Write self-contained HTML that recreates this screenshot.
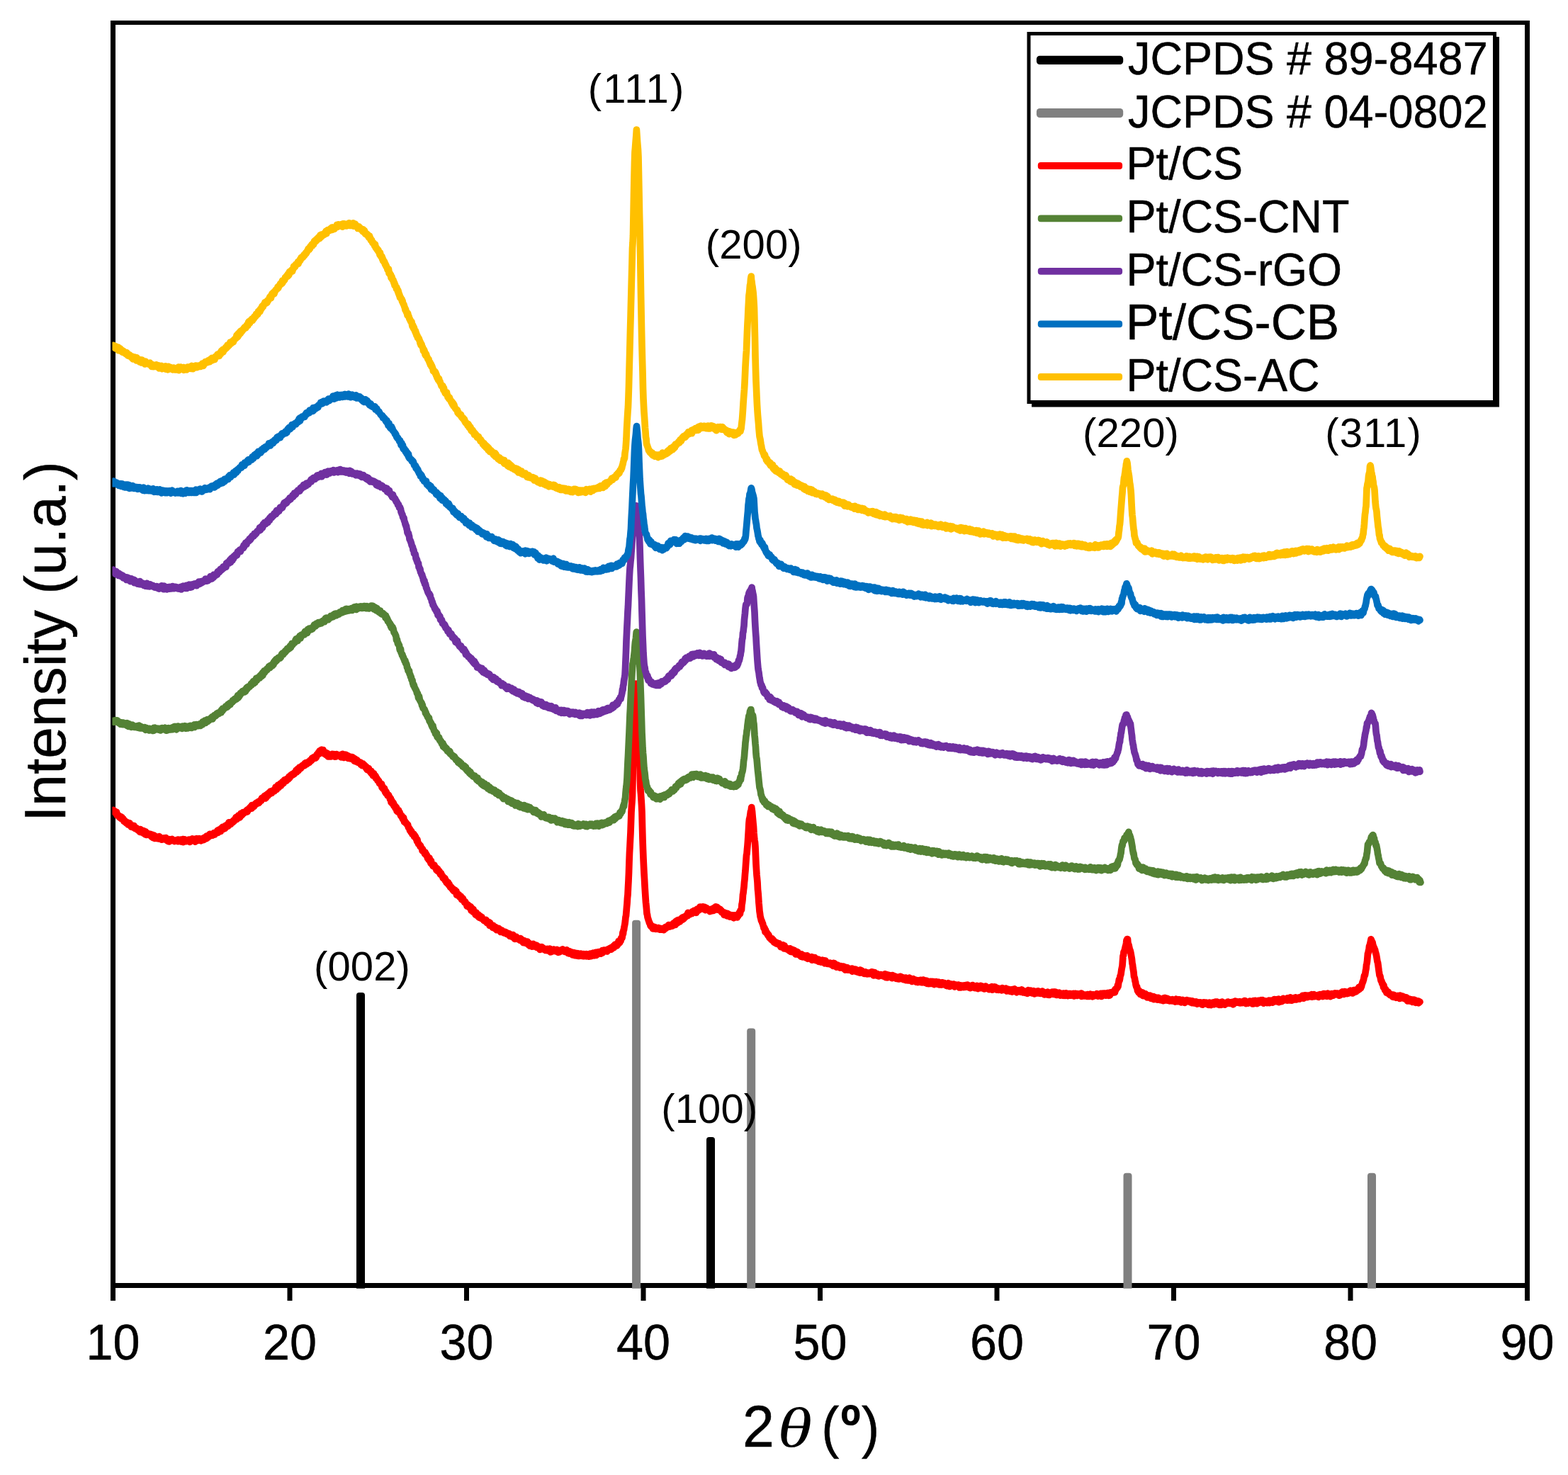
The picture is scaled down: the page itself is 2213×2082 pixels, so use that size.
<!DOCTYPE html>
<html lang="en">
<head>
<meta charset="utf-8">
<title>XRD patterns</title>
<style>
html,body{margin:0;padding:0;background:#fff;}
body{width:2213px;height:2082px;overflow:hidden;}
svg{display:block;font-family:"Liberation Sans",Arial,Helvetica,sans-serif;}
.t{stroke:#000;stroke-width:0.5px;}
.tick{font-size:68.3px;text-anchor:middle;}
.ann{font-size:58px;text-anchor:middle;}
.leg{font-size:63px;}
</style>
</head>
<body>
<svg width="2213" height="2082" viewBox="0 0 2213 2082">
<rect x="0" y="0" width="2213" height="2082" fill="#fff"/>
<!-- plot frame -->
<g fill="#000">
<rect x="156" y="29" width="2003" height="6"/>
<rect x="156" y="29" width="7" height="1789"/>
<rect x="2152" y="29" width="7" height="1789"/>
<rect x="156" y="1811" width="2003" height="7"/>
</g>
<!-- ticks -->
<g fill="#000">
<rect x="156.0" y="1814" width="7" height="22"/>
<rect x="405.5" y="1814" width="7" height="22"/>
<rect x="655.0" y="1814" width="7" height="22"/>
<rect x="904.5" y="1814" width="7" height="22"/>
<rect x="1154.0" y="1814" width="7" height="22"/>
<rect x="1403.5" y="1814" width="7" height="22"/>
<rect x="1653.0" y="1814" width="7" height="22"/>
<rect x="1902.5" y="1814" width="7" height="22"/>
<rect x="2152.0" y="1814" width="7" height="22"/>
</g>
<!-- reference sticks -->
<g>
<path d="M503.0,1818.8 L503.0,1405.0 Q503.0,1401.0 507.0,1401.0 L511.0,1401.0 Q515.0,1401.0 515.0,1405.0 L515.0,1818.8 Z" fill="#000"/>
<path d="M997.0,1818.8 L997.0,1609.0 Q997.0,1605.0 1001.0,1605.0 L1005.0,1605.0 Q1009.0,1605.0 1009.0,1609.0 L1009.0,1818.8 Z" fill="#000"/>
<path d="M892.1,1818.8 L892.1,1302.8 Q892.1,1298.8 896.1,1298.8 L900.1,1298.8 Q904.1,1298.8 904.1,1302.8 L904.1,1818.8 Z" fill="#808080"/>
<path d="M1054.2,1818.8 L1054.2,1455.6 Q1054.2,1451.6 1058.2,1451.6 L1062.2,1451.6 Q1066.2,1451.6 1066.2,1455.6 L1066.2,1818.8 Z" fill="#808080"/>
<path d="M1585.5,1818.8 L1585.5,1659.8 Q1585.5,1655.8 1589.5,1655.8 L1593.5,1655.8 Q1597.5,1655.8 1597.5,1659.8 L1597.5,1818.8 Z" fill="#808080"/>
<path d="M1930.0,1818.8 L1930.0,1659.8 Q1930.0,1655.8 1934.0,1655.8 L1938.0,1655.8 Q1942.0,1655.8 1942.0,1659.8 L1942.0,1818.8 Z" fill="#808080"/>
</g>
<!-- curves -->
<defs><clipPath id="cl"><rect x="158.5" y="0" width="2000" height="2082"/></clipPath></defs>
<path d="M160.0,1143.4l.5,2.2 .5,.4 .5-1.5 .5,.8 .5,.3 .5,1.9 .5-.2 .5,1.5 .5-2.6 .5,4.6 .5-1.4 .5,1.4 .5-.4 .5,.2 .5,1.5 .5,1 .5-.8 .5,.6 .5,1.5 .5-1.4 .5-.3 .5,2.7 .5-.8 .5-1 .5,1.7 .5,.9 .5-.5 .5,.1 .5,2.2 .5,1.4 .5-1 .5-.2 .5,1.7 .5,.8 .5-.8 .5,1.3 .5,1 .5-1.2 .5-.3 .5,1.7 .5,.2 .5,1.4 .5-2.5 .5,1 .5,.2 .5-.8 .5,2.6 .5,.8 .5-1.2 .5,2.8 .5-.3 .5,0 .5,.1 .5,.9 .5-2.4 .5,2.6 .5,.3 .5-2.6 .5,2.9 .5-.5 .5,1.5 .5-1.1 .5,.7 .5,.7 .5-1.1 .5,2 .5-.6 .5,1 .5-1 .5,2.2 .5-.3 .5-.7 .5,1.2 .5,1 .5,.9 .5-3.8 .5,3.2 .5-.3 .5-.4 .5-.8 .5,2.9 .5-2.8 .5,2.4 .5,1.2 .5-3.3 .5,1.8 .5-1 .5,2.1 .5,1.8 .5,.7 .5-4.2 .5,1.6 .5,1.8 .5,1.3 .5-1.2 .5-1.2 .5,1.5 .5-.1 .5,0 .5-.5 .5,1.6 .5,.1 .5-.3 .5,.1 .5-1.1 .5,1.2 .5,2.2 .5-1.5 .5-1.3 .5,3.5 .5-.7 .5,1.8 .5-2 .5-.5 .5-1 .5,3.5 .5,.9 .5-3.1 .5,.3 .5,1.7 .5-1.6 .5,.9 .5,0 .5,.8 .5,1.2 .5-1.1 .5,1.2 .5-1.5 .5,1 .5-2.6 .5,.7 .5,2.8 .5-1.6 .5,1.5 .5,.1 .5,1 .5-.5 .5,.3 .5-1.2 .5-.6 .5,0 .5,.4 .5-.6 .5,.8 .5,.6 .5,.5 .5-.6 .5-1.8 .5,2.3 .5,.4 .5,1.2 .5-.6 .5-1.3 .5,0 .5,3.2 .5-1.3 .5,1.4 .5,.1 .5-3.2 .5,1.5 .5,.2 .5,.2 .5,0 .5-.3 .5,0 .5-1.9 .5,1.6 .5-.6 .5,1.1 .5-.7 .5,1.3 .5,.3 .5-.6 .5,.1 .5-.3 .5-.6 .5,.4 .5-.4 .5,1.1 .5-.5 .5,.7 .5-2.3 .5,2.7 .5-2 .5,0 .5,.7 .5-.5 .5,1 .5-1 .5-.6 .5,.3 .5,2.5 .5-1.5 .5-1.4 .5,1.4 .5-1.9 .5,4 .5-4 .5,2.4 .5,.1 .5-2.4 .5,2.1 .5,.8 .5-.6 .5-.3 .5,.8 .5-.9 .5,.2 .5-.6 .5,.9 .5-1.9 .5,2.1 .5-1.6 .5-.7 .5,1.7 .5,1.6 .5-.9 .5-1.8 .5,1.4 .5-1.3 .5,.3 .5,.3 .5-2.5 .5,2.6 .5-1.5 .5,.4 .5-1 .5-.1 .5,.7 .5,2.1 .5,1 .5-2 .5,1.3 .5-1.7 .5-2 .5,2.4 .5,.3 .5-1.1 .5,.8 .5,.2 .5-1.8 .5-.9 .5,1.4 .5-.1 .5-.3 .5,1.5 .5,.7 .5-2.7 .5,1.2 .5,.1 .5-.5 .5,.3 .5-1.9 .5,1.1 .5,1.2 .5-1.5 .5-1.9 .5,1.3 .5,.6 .5-1.3 .5-1.4 .5,2.3 .5-3.5 .5,1.9 .5-.9 .5-1.6 .5,2.6 .5-1.3 .5-2 .5,1.9 .5-1.5 .5-2 .5,1.2 .5,.9 .5,.2 .5-.8 .5-.3 .5,.2 .5-1 .5,1.4 .5-1.4 .5-.1 .5,.1 .5-2.2 .5,.2 .5,2.4 .5-1.7 .5-1 .5,.5 .5-1.3 .5,.7 .5-1.4 .5,.8 .5-2.5 .5,3.2 .5-2.6 .5-1.5 .5,1.3 .5-.5 .5,.3 .5-1.9 .5,1.5 .5,1.5 .5-4.1 .5,1.6 .5-1.2 .5,.3 .5-2.7 .5,.4 .5,1.6 .5-1 .5,1.7 .5-3.2 .5,.7 .5,1.8 .5-3.6 .5-.5 .5,.6 .5-.3 .5,.7 .5-1.2 .5-1.5 .5,.8 .5,1.7 .5-1.1 .5-4.2 .5,1.8 .5-1.2 .5,1.4 .5-1.3 .5,2.1 .5-1.5 .5-.4 .5-1.2 .5-.6 .5,.1 .5,.8 .5-1.3 .5-1.4 .5,1.6 .5-1.7 .5-.7 .5-1.2 .5-.1 .5-.4 .5-2 .5,3.2 .5-.9 .5-1.3 .5,1.1 .5-1.1 .5-.5 .5-3.1 .5,1.7 .5,.5 .5,.9 .5-.1 .5-.9 .5-3.5 .5-1.3 .5,2.7 .5-1.1 .5,.8 .5-1.7 .5,0 .5-2.5 .5,2 .5-1.5 .5,.6 .5-.2 .5-1.1 .5,.1 .5-.8 .5,.6 .5-.7 .5-1.6 .5-.5 .5,2.5 .5-2.6 .5,.9 .5-1.1 .5-1.5 .5-.6 .5,.6 .5-.2 .5,.1 .5-2.6 .5,.4 .5,.2 .5,1.7 .5-4.6 .5,2.4 .5-1.5 .5,.8 .5-1.5 .5,.7 .5,1 .5-1.8 .5-.3 .5-.4 .5-1.7 .5,1.2 .5-1.3 .5-1.1 .5,.5 .5-.6 .5,.9 .5-1.4 .5-.9 .5,2 .5-1 .5,0 .5-1.2 .5-1.2 .5-.7 .5-.2 .5,1.1 .5-1.4 .5-2.3 .5,1.3 .5-2 .5,1.5 .5-2 .5-.4 .5,1.2 .5-.6 .5-2.3 .5,2.5 .5,1.1 .5-4.5 .5,3.6 .5-3.4 .5-.2 .5,0 .5-1.9 .5,2.9 .5-1.3 .5-1.9 .5,.2 .5-1.9 .5,1 .5,1.1 .5-3.5 .5,1.1 .5,.3 .5,.7 .5,0 .5-2.6 .5-.7 .5,1 .5-1.4 .5-.3 .5,1.3 .5,.3 .5-2.1 .5-1 .5,.6 .5-3.4 .5,1.8 .5-1.6 .5,3.2 .5-1.9 .5-1.1 .5-.8 .5-2.5 .5,2.8 .5,.7 .5-3.2 .5,1.2 .5-.3 .5-3.1 .5,2.5 .5,.1 .5-1.7 .5-.8 .5,.6 .5-3.2 .5,1.6 .5,.7 .5-3.2 .5,2.3 .5-2.1 .5-2.2 .5,1.8 .5-1.5 .5,1.1 .5-2.2 .5,2.3 .5-2.6 .5,.9 .5-1.6 .5-.1 .5,1.4 .5-1.6 .5-1.2 .5-1.4 .5,2.4 .5-.9 .5-1.7 .5,.2 .5-2 .5-.4 .5-.2 .5,1 .5-.5 .5-1.7 .5,1.3 .5-.3 .5-1.2 .5,.6 .5-2 .5-.3 .5,.3 .5-1 .5,.5 .5-2.9 .5,2.8 .5-3.1 .5,.4 .5-1.9 .5,1.9 .5,.4 .5-.6 .5-.7 .5-3.3 .5,.5 .5,0 .5-1 .5,2.1 .5-1.6 .5-.6 .5,.2 .5-2.1 .5-.3 .5-.4 .5,1.3 .5-.5 .5-.1 .5,.2 .5-3.3 .5,.6 .5,.5 .5-2.1 .5,.6 .5,1.6 .5-.3 .5-.4 .5-1.5 .5-.7 .5,1.2 .5-2 .5,.5 .5,.8 .5-2.4 .5-.6 .5,.4 .5,.4 .5-.5 .5-.7 .5,.1 .5-3 .5,.6 .5,.8 .5-1.7 .5-.8 .5-.2 .5-.1 .5,.5 .5-1.4 .5,1.1 .5,1.2 .5-2.7 .5,1.2 .5-1.8 .5-2.2 .5,.4 .5-1.5 .5,1.6 .5-2.9 .5,2.4 .5-1.4 .5-3.4 .5,2.8 .5,.5 .5-3.1 .5,1.9 .5-3.5 .5,2.3 .5-2.3 .5,2.7 .5-2.6 .5,0 .5,3 .5,2.1 .5-2.7 .5,2.1 .5-.5 .5-.1 .5,1.5 .5,1.6 .5-3 .5,2.5 .5,.1 .5-1.8 .5,3.9 .5,.6 .5-3.2 .5,3.3 .5-1.9 .5-.2 .5,2 .5-1.5 .5,.1 .5,1.5 .5-.3 .5-.4 .5-2.7 .5-.2 .5,3.2 .5-2.4 .5,1.3 .5-1.5 .5,1.1 .5-1.3 .5,3.5 .5-3.2 .5,1.1 .5,0 .5,1.7 .5-3.2 .5,1.7 .5-.2 .5,.9 .5-.1 .5-1.1 .5,.9 .5-.7 .5,1 .5-.7 .5-.6 .5,.8 .5,.5 .5,1.9 .5-2.9 .5,1 .5,1.4 .5-4 .5,.3 .5,.8 .5,1.3 .5,2.6 .5-1.8 .5,1.1 .5-1.6 .5-1.9 .5,.1 .5,3.7 .5-.9 .5-1.6 .5,3 .5-3 .5,3.3 .5,.6 .5-2.5 .5-.2 .5,2.5 .5-2.2 .5,2.6 .5-2.3 .5,2.6 .5-.7 .5-.4 .5-.3 .5,1.5 .5-2.3 .5,2.1 .5,.1 .5,1.5 .5-2.1 .5,3.8 .5-2.2 .5-.8 .5,3.2 .5,.6 .5-2 .5-.6 .5,1.3 .5-.6 .5,.8 .5,2.5 .5-1.1 .5,0 .5,.5 .5-.2 .5,1.4 .5,.4 .5-1.2 .5,.9 .5,2.5 .5-1.4 .5-.4 .5,2.9 .5-1.9 .5-.9 .5,2.5 .5-1.5 .5,.9 .5,1.4 .5-.2 .5-.3 .5,.7 .5,.3 .5,2.6 .5-1.8 .5,.6 .5,3.4 .5-2.5 .5,2.9 .5,.3 .5-1.4 .5-1 .5,2.7 .5,.7 .5,.9 .5-.6 .5,1.8 .5,.8 .5-2.5 .5,3.6 .5-1 .5-.3 .5,.8 .5,3.3 .5-.5 .5-2.7 .5,2.8 .5,.4 .5,.6 .5,.2 .5-.5 .5,3.5 .5-1.5 .5,1.3 .5,.4 .5,.6 .5,2.4 .5,.3 .5-.6 .5,.4 .5,1.3 .5,2.4 .5-.3 .5,.8 .5,.1 .5,.8 .5,1.3 .5-1.8 .5,4.9 .5-2.2 .5,1 .5,3 .5-.6 .5,.6 .5,0 .5-.4 .5,2.9 .5,2 .5-1.7 .5,3.5 .5-2.2 .5,1.3 .5,2.3 .5,.2 .5,1.7 .5-.9 .5,.5 .5-.2 .5,1.6 .5,1 .5,.4 .5,2.9 .5-.4 .5-.7 .5,5.4 .5-2.5 .5,.2 .5,3.8 .5,.7 .5-2.1 .5,.4 .5,1.3 .5,3.4 .5-1 .5,.1 .5,1.7 .5,2.3 .5-2.4 .5,1.9 .5-.4 .5,4.7 .5,.6 .5-.3 .5-.6 .5,1.7 .5-2.3 .5,3.3 .5-1.2 .5,.8 .5,1.5 .5,1.1 .5,1.9 .5,.9 .5,.2 .5-.7 .5,2.6 .5-.2 .5,2.3 .5-1.8 .5-.4 .5,2.5 .5,3.6 .5-1 .5-.1 .5,2.1 .5,.3 .5,.7 .5-.5 .5,1.5 .5,.9 .5-.3 .5,.2 .5,2.3 .5,1.8 .5,.4 .5,.5 .5,.8 .5,2.5 .5-1.2 .5,1.7 .5,1.9 .5-1.5 .5,1.1 .5,1.7 .5,1.6 .5-.8 .5,.9 .5,.4 .5-.7 .5,3.6 .5-.8 .5-.9 .5,2.7 .5-1.1 .5,1.7 .5,2.1 .5-.3 .5,3.2 .5-2.2 .5,2.9 .5,1.2 .5,1.9 .5,.2 .5,0 .5,.6 .5,.7 .5,2.2 .5-1.3 .5,2.2 .5,.1 .5,1.2 .5,.2 .5,3.4 .5-2.3 .5,1.9 .5,.8 .5,1.2 .5,.6 .5,.7 .5,1.5 .5-2.3 .5,2.6 .5-.7 .5,2.5 .5-1 .5,1 .5,1.8 .5,2.4 .5-.2 .5,.3 .5,2.1 .5-2.2 .5-.5 .5,2.5 .5,.9 .5,2.5 .5,1.5 .5-3.2 .5,4.5 .5,.3 .5-.2 .5,.1 .5,2.5 .5-1.5 .5,0 .5,1.4 .5-1.2 .5,2.9 .5-.1 .5,1.2 .5,.7 .5-1.1 .5,3.5 .5-2.2 .5,3 .5-2.4 .5,3 .5-.8 .5,1.7 .5-.2 .5-.9 .5,1.6 .5,2 .5,1.3 .5-1.9 .5,.1 .5,1.9 .5,1.4 .5,.1 .5,.4 .5,2.6 .5,.7 .5,.4 .5-1.4 .5,1.8 .5,.3 .5-.9 .5,3.4 .5-.3 .5-.1 .5,2.9 .5-.2 .5,.7 .5,1 .5,.1 .5-1.8 .5,1.6 .5,2.3 .5-1.5 .5,1.5 .5,1.1 .5,1.8 .5,.4 .5,.1 .5-.7 .5,1.9 .5,.1 .5-.2 .5,2.4 .5-.5 .5-.9 .5,3 .5-1.2 .5,1.6 .5-2 .5,2.4 .5-.6 .5,.6 .5-.6 .5,5.1 .5-1.9 .5,1.1 .5,1.6 .5-1 .5,1.4 .5-1.7 .5,2.4 .5-.2 .5,1.6 .5,.2 .5-1.4 .5,0 .5,1.6 .5,2.6 .5,.2 .5,.5 .5-2.3 .5,.6 .5,2.1 .5,.9 .5,.2 .5,1.7 .5-.1 .5-.7 .5,.9 .5,1.8 .5,.4 .5,.4 .5,2.9 .5-2.1 .5,1 .5-.8 .5,1.3 .5,1.6 .5,.6 .5-.4 .5,1.2 .5,.1 .5-1.8 .5,.4 .5,5.1 .5-.8 .5-.5 .5-1.5 .5,1 .5,3.7 .5-3.5 .5,2.4 .5,1.9 .5-.4 .5,1.2 .5-.6 .5,2.9 .5-3 .5,0 .5,2.4 .5,1.8 .5-1.3 .5,1.8 .5-1.5 .5-.4 .5,3.5 .5,.6 .5,.4 .5-2 .5-.4 .5,.4 .5,1.5 .5,1.4 .5,.3 .5-2 .5,2.4 .5,.1 .5,.5 .5,.3 .5,.1 .5,1.3 .5-.1 .5,.4 .5-.7 .5,1.7 .5-.3 .5-1.8 .5,3.3 .5-.6 .5,1.8 .5-.9 .5,.4 .5,.7 .5,.1 .5-.2 .5-1.3 .5,4.7 .5-3.8 .5,1.8 .5,1.6 .5,0 .5,.5 .5,.6 .5,.9 .5-.9 .5,2.3 .5-3.2 .5,1.8 .5-.4 .5,.1 .5,1.3 .5,1.7 .5-2.3 .5,.3 .5,2 .5,.1 .5,1.9 .5-.8 .5-.7 .5-.3 .5,.9 .5-.2 .5-1.2 .5,2 .5,0 .5,.2 .5,0 .5,2.8 .5-.9 .5,.5 .5-1.6 .5-.2 .5,1.1 .5,.9 .5-.4 .5,.4 .5,1.6 .5-.5 .5-1.3 .5,.9 .5-.1 .5,1.3 .5-1.4 .5,1.4 .5,1.3 .5-.5 .5-.9 .5,.6 .5,1.1 .5,.6 .5,.7 .5-.9 .5-1.2 .5,3.5 .5-1.1 .5,.3 .5,.2 .5-1.4 .5,1.1 .5,.9 .5,1.2 .5-1 .5-2.1 .5,2.2 .5,1 .5,1.4 .5-.5 .5,1.7 .5-.4 .5,.2 .5-.3 .5-2.5 .5,2.9 .5-.1 .5-1.1 .5,1.6 .5,.1 .5-.9 .5,.7 .5,.1 .5,.8 .5-.5 .5,1.4 .5-2.7 .5,2.2 .5-1.5 .5,1.7 .5,1.4 .5-.3 .5,.1 .5,.4 .5,2.1 .5-3 .5,2.6 .5-2.6 .5,1.4 .5,1 .5-1 .5,1.5 .5,.9 .5-2.1 .5,1.6 .5-.2 .5-1.6 .5,2.3 .5-.6 .5,2.8 .5-2.4 .5,3.3 .5-2.5 .5,3.1 .5-1.4 .5,.1 .5,.6 .5,.3 .5,.7 .5,.6 .5-2.3 .5-.9 .5-.6 .5,2 .5,1.6 .5-.3 .5-.1 .5-.4 .5-.2 .5,.7 .5,1 .5-2.4 .5,3.1 .5-2.4 .5,1.7 .5-.3 .5,.5 .5-.7 .5,.1 .5,1.3 .5-.9 .5,3.8 .5-2.6 .5-.2 .5,.3 .5-.4 .5-.9 .5,2.2 .5,.8 .5-2 .5,1.9 .5-1.3 .5,1.6 .5,.6 .5,.3 .5,0 .5-1.2 .5,2 .5-1.5 .5,1.1 .5,.5 .5-1.1 .5-1.1 .5,2.4 .5-2 .5,.3 .5-.2 .5,2.4 .5-1.1 .5-2.1 .5,3.2 .5,1.5 .5-.1 .5-2.8 .5,.8 .5,.5 .5,.5 .5-1 .5-1.3 .5,2.2 .5-.1 .5-2.3 .5,1.2 .5,.8 .5-.4 .5,.7 .5,.3 .5-.2 .5-.8 .5-1.5 .5,2.4 .5,.9 .5,.7 .5-2.3 .5,0 .5,1.8 .5,0 .5-1.3 .5,.4 .5-1.7 .5,1.6 .5-1.7 .5,.9 .5,0 .5-.4 .5-1.7 .5,1.4 .5,1.4 .5-.5 .5-.3 .5,1 .5,.3 .5,.3 .5-2 .5,1.1 .5-.4 .5-.6 .5-.7 .5,1.7 .5-.8 .5,3.5 .5-2.3 .5,.1 .5,0 .5,2.9 .5-3.1 .5,1.2 .5-.5 .5,1 .5,.4 .5,1.6 .5-2.7 .5,1.9 .5,2.2 .5-2.3 .5,.6 .5-.6 .5-1.1 .5,2.3 .5,1.7 .5-1.9 .5-1.6 .5,2.6 .5-.1 .5,1.2 .5-.1 .5-1.3 .5,.9 .5-2.6 .5,3.6 .5-1.1 .5,1.2 .5,0 .5-1.6 .5,.3 .5-.8 .5-1.2 .5,2.2 .5,.4 .5-1.5 .5,2.2 .5-.7 .5,.5 .5-1.4 .5-1.2 .5,3.1 .5-.2 .5-.8 .5-.4 .5,.2 .5,.2 .5-.4 .5-1.7 .5,3.2 .5-2.7 .5,1.4 .5,0 .5,.6 .5-2.3 .5,3.3 .5-.7 .5,.1 .5,.5 .5-2.6 .5-1.4 .5,2.5 .5,1.1 .5-.3 .5-2.2 .5,.4 .5,.4 .5-2.7 .5,1.2 .5-.1 .5,2.5 .5-2.8 .5,2.5 .5-2 .5-2.2 .5,4.2 .5-3.7 .5,1.8 .5,1.1 .5-2.8 .5-1 .5,2.6 .5-1.3 .5-1.7 .5,0 .5,.7 .5,1.5 .5-1.6 .5,1 .5,1 .5-.6 .5,.1 .5-.4 .5-3.5 .5,3.2 .5-1.2 .5-.7 .5-1.3 .5-.7 .5,.4 .5,1.2 .5-1.6 .5,.3 .5,.1 .5,1.3 .5-1.3 .5,0 .5,1.6 .5-2.2 .5,.9 .5-2.2 .5,1.5 .5-.5 .5-.1 .5-1 .5-.9 .5,.6 .5-.5 .5,1.6 .5-.4 .5-2.8 .5,1.9 .5-1.6 .5,.8 .5-1.5 .5-1.5 .5,2.7 .5-1.1 .5-2.3 .5-1.2 .5,1.2 .5-1.2 .5,.5 .5,.8 .5,.5 .5-2.7 .5,1.6 .5-.9 .5-2.4 .5-2.1 .5,2.4 .5-1 .5,.9 .5-1.3 .5-1.5 .5,.3 .5-4.1 .5,.6 .5-1.8 .5,.9 .5-3.1 .5-4.9 .5,2 .5-4.9 .5-.3 .5-4.1 .5-2.1 .5-2.8 .5-4 .5-5.2 .5-1.6 .5-6.1 .5-6 .5-5.1 .5-8.1 .5-4.6 .5-10.3 .5-9.1 .5-11.6 .5-15.3 .5-13 .5-8.8 .5-9.9 .5-9.7 .5-14.1 .5-15.1 .5-7.8 .5-6.6 .5-9.2 .5-22.8 .5-32.9 .5-10 .5-15.2 .5-11.4 .5-15.4 .5-10.1 .5-14.8 .5-10.7 .5-14.2 .5,11.7 .5,7.5 .5,10.5 .5,10.4 .5,12.1 .5,9.9 .5,10.1 .5,10.4 .5,10.6 .5,10.4 .5,12.8 .5,20.2 .5,13.7 .5,5.6 .5,7.1 .5,8 .5,10.3 .5,20.4 .5,18.2 .5,13.9 .5,12.8 .5,10.6 .5,10.2 .5,8.1 .5,9.8 .5,8.1 .5,7.8 .5,7.2 .5,4.7 .5,5.2 .5,6.3 .5,1.4 .5,3.7 .5,1.5 .5,1.6 .5,1.8 .5,1.1 .5,2.1 .5,.2 .5,1 .5,2.7 .5-.9 .5,2.1 .5-.5 .5,1.2 .5-1.3 .5,1.3 .5,2.4 .5-1 .5,.4 .5-.6 .5,.9 .5-2.2 .5,.6 .5,1.8 .5,.6 .5-1.3 .5,.5 .5-.1 .5,.4 .5-1.1 .5-.2 .5,1.8 .5-1.9 .5,.9 .5,.5 .5-.5 .5,1.6 .5-.9 .5,.4 .5-1.1 .5,.2 .5,1.4 .5-.2 .5-1.2 .5,.9 .5-.3 .5-.2 .5,1.5 .5-2.6 .5,.8 .5-.2 .5-.9 .5-1.4 .5,2 .5-.7 .5-.5 .5-.2 .5-.3 .5-1.3 .5,1.2 .5-2.8 .5,1.9 .5-2 .5,1.2 .5,1 .5-1.4 .5-.5 .5,1 .5-1.2 .5-.4 .5-.2 .5,2 .5-1.3 .5-.5 .5-2.2 .5,1.9 .5-2.6 .5,1.8 .5-2.2 .5,3.4 .5-4.7 .5,3.2 .5-.8 .5-3.4 .5,1.5 .5,1.7 .5-.7 .5-3.7 .5,1.1 .5-1.2 .5-.1 .5,.1 .5,2.7 .5-2.4 .5-.8 .5-.5 .5,.9 .5-.3 .5-2.3 .5,2.5 .5-3.4 .5,.6 .5,.5 .5,1.1 .5-2.8 .5,.3 .5,.8 .5-1.2 .5,.2 .5-.5 .5-1.3 .5,.1 .5,0 .5-1.5 .5,1.6 .5-4.4 .5,.9 .5,2.6 .5-1.5 .5-1.5 .5,1 .5,.7 .5-2.2 .5,1.4 .5-1.2 .5-.2 .5-.1 .5,1.2 .5-2.8 .5,.7 .5,1.1 .5-2.4 .5-.7 .5,2.4 .5-.8 .5-.4 .5,.1 .5-1.6 .5,3.3 .5-3.9 .5,.3 .5-1.6 .5,.8 .5,1.9 .5-2.3 .5,.2 .5-1.7 .5,2.3 .5-2.3 .5-2 .5,2.3 .5-1.5 .5,1.2 .5-.6 .5,.3 .5-.1 .5-1.1 .5-.6 .5,3.2 .5-1.2 .5,.7 .5-.7 .5-1.5 .5,.9 .5,3.3 .5-2.4 .5,.6 .5-1.2 .5,1.3 .5,.3 .5,.3 .5,.3 .5-.6 .5,.2 .5,.8 .5,.5 .5-.4 .5,2.3 .5-1.7 .5,0 .5-.9 .5,2 .5-2.4 .5-.7 .5,.7 .5,1.7 .5-2.4 .5,2.6 .5-2 .5-2.2 .5,1.1 .5,1.9 .5-3.5 .5-.9 .5,1.9 .5,.7 .5-.5 .5-1.6 .5,.8 .5,.4 .5,1.4 .5,1.4 .5-2 .5,2.2 .5-1.4 .5,1.6 .5-1.2 .5,.7 .5,2 .5-1.2 .5,2.5 .5-1.3 .5,1.1 .5,.2 .5,0 .5,.9 .5,1.5 .5,1.5 .5-3.5 .5,2.1 .5-.3 .5-.5 .5,1.7 .5-1.1 .5,1.2 .5,1.8 .5-3.5 .5,2.7 .5,.4 .5-1.6 .5,2 .5-.1 .5-.7 .5,2 .5-2.9 .5,2.5 .5-.9 .5-.9 .5,1.2 .5-.1 .5,1.5 .5-2.7 .5,1.7 .5-.2 .5,2.5 .5-3.2 .5,2.7 .5-3.4 .5,2.6 .5-.6 .5,.7 .5-1.4 .5-1.5 .5,.1 .5,3.1 .5-1.7 .5-1.8 .5,1.5 .5-2.7 .5-.8 .5-1.5 .5,1.9 .5-.1 .5-4.7 .5,.3 .5-.5 .5-.6 .5-7.8 .5-1.9 .5-4.2 .5-7.4 .5-2.3 .5-4.8 .5-4 .5-6.5 .5-4.1 .5-7.1 .5-5.3 .5-7.4 .5-7.1 .5-7.2 .5-2 .5-6.1 .5-5.3 .5-6.6 .5-8.1 .5-7.9 .5-9.3 .5-5.2 .5-1.8 .5-2.7 .5-3.2 .5-3.7 .5-.2 .7-5.4 .3,2.4 .5,3 .5,5.8 .5,5.4 .5,5.8 .5,4.8 .5,8.8 .5,5.7 .5,4.8 .5,2.8 .5,6.5 .5,12.1 .5,11.7 .5,7.9 .5,7.8 .5,4.9 .5,5.3 .5,10.3 .5,4.6 .5,6.7 .5,7.9 .5,5.3 .5,6.5 .5,3 .5,4.2 .5,1.9 .5,1.8 .5,2.4 .5-.1 .5,1.5 .5,2.2 .5,.1 .5,2.8 .5,1.2 .5,2.6 .5,.5 .5-1 .5,3.4 .5,2.7 .5-2.9 .5,2.2 .5,1.8 .5-.9 .5,1.7 .5,1.4 .5-1 .5,2.6 .5,.8 .5-1.4 .5,2.1 .5,1.8 .5-.9 .5,1.2 .5,.8 .5-.6 .5,1.9 .5-.2 .5-1.2 .5,2.2 .5,.8 .5,.4 .5-1.4 .5,1.8 .5,1.4 .5-1 .5,1.6 .5,.5 .5-1.3 .5,1.2 .5-.8 .5,2 .5-1.1 .5-.2 .5,.9 .5,.3 .5,.8 .5,.4 .5-1.7 .5,.9 .5,1.5 .5,.4 .5-.2 .5,2.5 .5-.7 .5-1.2 .5,1.2 .5,1 .5-.9 .5-2.3 .5,2.5 .5,.1 .5,2.5 .5-4.2 .5,4.3 .5-1.8 .5,1.5 .5-1.2 .5,.8 .5,1.4 .5-1 .5,1.4 .5-1.1 .5-.2 .5,.5 .5-.1 .5,.7 .5,2.1 .5-2.8 .5-.4 .5,2.3 .5,2.2 .5-.5 .5,.6 .5,.2 .5-2.1 .5,1.2 .5-2.2 .5,1.8 .5,1.7 .5-2.3 .5-.2 .5,1 .5,2 .5,1.4 .5,1.1 .5-.3 .5-3.3 .5-.3 .5,2.7 .5,1.3 .5-3 .5,1.6 .5,.2 .5,.8 .5,0 .5,1 .5,.9 .5-1 .5,1 .5,1.5 .5-3.3 .5,.2 .5,2 .5,1.8 .5-1.8 .5,1.3 .5-1.5 .5,1.6 .5-1.7 .5,1.8 .5-.2 .5,.2 .5,1.3 .5-.2 .5-1.8 .5,1.9 .5-2.9 .5,3.3 .5,1.2 .5-1.4 .5,.1 .5-.3 .5,1 .5-1.3 .5,1.5 .5-1 .5-.1 .5,.9 .5-.1 .5-1.9 .5,4.4 .5-1.8 .5-2.1 .5,3.5 .5-1.2 .5,.4 .5,.7 .5-1.8 .5-1.2 .5,2.5 .5,.5 .5,1 .5-1.9 .5,.7 .5,.9 .5-.7 .5,.2 .5,.7 .5-1.4 .5,3.3 .5-2.9 .5,1.3 .5-.4 .5-.3 .5,1.6 .5,.8 .5,.6 .5-.9 .5-1.1 .5,1.7 .5-2.6 .5,1.9 .5,.7 .5,.2 .5-1.9 .5-.2 .5,3.9 .5-2.5 .5-1.2 .5,.7 .5,1.6 .5,1.6 .5-1.3 .5,1.6 .5-1 .5,.4 .5,.8 .5-1.5 .5,1 .5-.7 .5-.1 .5,1.7 .5-1.6 .5,1.2 .5-.8 .5,1 .5-.4 .5,2.1 .5-1.1 .5,.2 .5,2 .5-4.2 .5,1.2 .5-.8 .5,2.5 .5,.7 .5,.4 .5-.3 .5-1.2 .5,3.3 .5-1.6 .5-.5 .5-.9 .5,2 .5-.9 .5,.2 .5,1 .5,.1 .5-1.1 .5,2.7 .5-2.6 .5,0 .5,1.9 .5-.1 .5,.1 .5-.4 .5,.7 .5-.6 .5-1.1 .5,3 .5-2 .5,1.1 .5,1.3 .5-.7 .5,2.4 .5-3.9 .5,1 .5,1.1 .5,1.7 .5-1.8 .5-1.3 .5,3.2 .5-2.4 .5,1 .5,1.4 .5-1.7 .5,.4 .5,1.2 .5-.7 .5,.7 .5-1.4 .5,1.1 .5-1 .5-.5 .5,4.1 .5-1.4 .5,.6 .5-2.1 .5,1.2 .5-.1 .5-1.4 .5,2.5 .5-1.4 .5,.7 .5-1.5 .5,3.1 .5-.2 .5-.3 .5-1.5 .5,.6 .5,2.2 .5-1.7 .5,.7 .5,0 .5-1.4 .5,3.2 .5-4 .5,2.6 .5-.2 .5-1.8 .5,2.5 .5,.3 .5-.5 .5-1 .5,1.7 .5,.8 .5-.9 .5,1.8 .5-.9 .5,0 .5,.8 .5-2.4 .5,.3 .5,1.3 .5,.1 .5,1.3 .5-.4 .5-1.1 .5,.2 .5-.5 .5-.1 .5,0 .5,1.7 .5-1.5 .5,.2 .5,.7 .5-.7 .5,.4 .5-2 .5,2.9 .5-.8 .5,.7 .5,.3 .5-2.6 .5,4.6 .5-2 .5,.1 .5-2.2 .5,3 .5-.2 .5-.8 .5,.8 .5,1.3 .5-1.8 .5-.6 .5,2.7 .5-1.2 .5-.4 .5,2.4 .5-1.8 .5-.4 .5,.6 .5-.7 .5,.8 .5,0 .5-.8 .5,.5 .5,.8 .5,.1 .5,.3 .5,.4 .5-.6 .5,.4 .5-1 .5,.2 .5,1.7 .5-3.6 .5,2.9 .5,1.8 .5-4.3 .5,4.1 .5-3.8 .5,2.6 .5,1.6 .5-.1 .5-2.8 .5-.4 .5-.1 .5,2.7 .5-1.3 .5,.6 .5,.3 .5,.3 .5,.2 .5-.4 .5-2 .5,3.8 .5-4.1 .5,3.9 .5-2.1 .5,.6 .5-.3 .5,.2 .5,.5 .5-.2 .5-.9 .5,2.4 .5-1.6 .5,2.4 .5-1.8 .5-.5 .5,1.4 .5,.6 .5-2.1 .5,.9 .5,2.1 .5-2.8 .5,.2 .5,1.3 .5-1.6 .5-.8 .5,.5 .5,2.5 .5,.4 .5,0 .5-.2 .5-1.8 .5,2.3 .5,.7 .5-2.2 .5,2.1 .5-1.5 .5,.7 .5,.3 .5-2.1 .5,3.6 .5-2.7 .5,1 .5-.4 .5,1.2 .5,0 .5-.4 .5,1.7 .5-1.2 .5-.8 .5-1.8 .5,2.1 .5,.1 .5-.7 .5,.1 .5,1.8 .5,.7 .5,1 .5-.8 .5-2.1 .5,1.2 .5-1.9 .5,2.6 .5-.4 .5-1 .5,.6 .5-.1 .5-.4 .5,2.5 .5,.7 .5-1.2 .5,.4 .5-1 .5-.6 .5,2.8 .5-2.7 .5,1 .5-.5 .5,.9 .5-.7 .5,.8 .5-2.1 .5,1.4 .5,1.9 .5-2.8 .5,.5 .5,2.5 .5-1.1 .5,.9 .5-3.6 .5,2.6 .5-1.7 .5,0 .5,2.2 .5,1 .5-3.1 .5,.5 .5,.7 .5,.6 .5-1.4 .5,3.9 .5-1.4 .5-1.1 .5-.1 .5,2.9 .5,.1 .5-2.8 .5,1.1 .5,1.2 .5-2.9 .5,.8 .5,2.4 .5-2.4 .5,.4 .5-1.1 .5,.8 .5,1.8 .5-1.7 .5-.6 .5,.9 .5,3 .5-1.9 .5-.8 .5,.9 .5,.4 .5-.3 .5-2.2 .5,2.6 .5-.6 .5,1.4 .5-2.6 .5,2.9 .5-1.8 .5-1.4 .5,3.8 .5-2.2 .5,1.1 .5-.5 .5,1.5 .5,.1 .5,.1 .5-.4 .5-2.8 .5,0 .5,2.3 .5-1.3 .5,1.8 .5-.3 .5-1.9 .5,.6 .5-.1 .5,.4 .5,.8 .5,1.2 .5,.8 .5-2.7 .5,.6 .5,2.6 .5-.8 .5-.7 .5-2.5 .5,1.1 .5,1.5 .5-.9 .5,3.1 .5-2.1 .5,.2 .5-1.6 .5,.2 .5,.5 .5,.1 .5,.5 .5,.8 .5-.1 .5,.9 .5-2.8 .5,2 .5,.1 .5,1.7 .5-2.2 .5,.7 .5-1.3 .5,1.5 .5,.1 .5-1.2 .5,.2 .5,.6 .5,.8 .5-2.1 .5,2.5 .5-1.4 .5,2.8 .5-.5 .5-2.3 .5-.2 .5,3.1 .5-1.5 .5,0 .5-1.2 .5,.4 .5,1.2 .5-.2 .5-1.7 .5,2.6 .5-1.1 .5-1.5 .5,2.4 .5-1.4 .5,1.2 .5-1.6 .5,1.1 .5-2.3 .5,2.4 .5-2.2 .5,2.1 .5-2.5 .5,2.2 .5,1 .5-.2 .5,.9 .5-2.7 .5,3.2 .5,.1 .5-3.4 .5,.5 .5,.3 .5,.7 .5,.3 .5-2.5 .5,3.1 .5-1 .5-.9 .5,2.4 .5-1.5 .5,1.8 .5-.7 .5-1 .5,1.9 .5-.5 .5-1.5 .5-1.3 .5,1.3 .5,1.4 .5-1 .5,2.5 .5-1.8 .5,0 .5,.3 .5-1.6 .5,1 .5-.6 .5-1.5 .5,.2 .5,3.1 .5-1.4 .5,.4 .5-1.6 .5,1.1 .5,1.7 .5-.8 .5-.7 .5,2.5 .5-1.9 .5-.3 .5,1.8 .5-3.4 .5,2.8 .5-2 .5,.4 .5,.2 .5,1 .5,0 .5,.3 .5-.1 .5,1.5 .5,.4 .5-1.2 .5,.1 .5-1.3 .5-.8 .5,2.1 .5-.7 .5,1.1 .5-3.2 .5,4.5 .5-3.8 .5,1.6 .5,1.2 .5-2.8 .5,1.1 .5-1.6 .5,.6 .5-.5 .5,2.4 .5,.3 .5-.7 .5,2 .5,.2 .5-1.7 .5-.2 .5,0 .5-.2 .5,2.2 .5-1.2 .5-.7 .5,.2 .5,1 .5-1.1 .5,.9 .5-.3 .5,1.7 .5-.2 .5-3 .5,1.5 .5,1.1 .5-1.3 .5,1.6 .5-.6 .5,.4 .5-.7 .5,.5 .5,.3 .5-2.4 .5,.8 .5-.1 .5,3.3 .5-1.6 .5,.1 .5-.1 .5-.8 .5-.2 .5,1.9 .5-1.4 .5,2.4 .5-1.6 .5,0 .5-.4 .5,.3 .5,.2 .5,1.8 .5,.5 .5-3.6 .5,1.7 .5,.6 .5-1.8 .5,.3 .5,.3 .5-1.7 .5,3.2 .5-.8 .5,0 .5,.2 .5,.3 .5,2 .5-2 .5,.9 .5-1.6 .5,1.1 .5-.8 .5,.3 .5-.9 .5,.2 .5,1.6 .5,.4 .5-.3 .5-1.3 .5,1.2 .5-2.7 .5,3.5 .5-1.1 .5,.4 .5,1.2 .5-1.9 .5,1.7 .5-1.6 .5,1.2 .5-1.1 .5,.9 .5,1.4 .5-2.5 .5,.1 .5,.4 .5,.8 .5,2 .5-3 .5-1.6 .5,1.6 .5-1.1 .5,1.3 .5,.7 .5-1.1 .5,.4 .5-1.4 .5,2.5 .5-1.1 .5,2.3 .5-.1 .5-2.2 .5,.6 .5,.6 .5,.8 .5-2.8 .5,1.9 .5,2.4 .5-2.3 .5,.4 .5-.3 .5-1.4 .5,2.7 .5-.8 .5-.1 .5,.7 .5,.1 .5-3.2 .5,2.9 .5-1.2 .5,.9 .5-1 .5-.2 .5,2.2 .5-1.1 .5-.3 .5,0 .5,.5 .5-.1 .5-2.3 .5,1.4 .5,.8 .5,1.2 .5,.8 .5-2.8 .5,3.4 .5-2.1 .5,.5 .5-1.2 .5,0 .5,2.5 .5-2 .5,.2 .5,1.5 .5,.8 .5-3.9 .5,1.6 .5,.3 .5,2.2 .5,0 .5-2.2 .5,.5 .5,.7 .5,.3 .5-1.7 .5,1.4 .5-1.8 .5-1.5 .5,.7 .5,2 .5,.7 .5-3.3 .5,.2 .5,2.2 .5-2.3 .5,3.1 .5,.6 .5-3.7 .5,3.4 .5-1.1 .5,2 .5-1.4 .5-.6 .5,.5 .5,1 .5-.9 .5-.1 .5-1.8 .5,2.3 .5-.5 .5,2.1 .5-2.1 .5,0 .5-.7 .5,1.7 .5-1.1 .5-.6 .5,2.8 .5,.2 .5-2.6 .5-.7 .5,2.6 .5-2.3 .5,3.1 .5-2.2 .5,1.3 .5-2.7 .5,1.6 .5,1.3 .5-.7 .5-1.2 .5,2.8 .5-1.2 .5-1.2 .5-.4 .5,.4 .5,2 .5-2.5 .5,.9 .5-1 .5,2.6 .5-1.7 .5,1.2 .5-.3 .5-1.4 .5,1.6 .5,.3 .5-2.5 .5,2.3 .5,1.3 .5-2.5 .5,1.2 .5-2.4 .5,2.2 .5-1.2 .5,1.7 .5-1 .5-1.3 .5,2.7 .5-1.5 .5-1 .5,1.4 .5-1.3 .5,1.7 .5-.5 .5-.4 .5,1.3 .5-2.3 .5,2.7 .5-3.5 .5,4.4 .5-1.7 .5-.6 .5-.5 .5,1.6 .5-.9 .5,0 .5,1.5 .5-1.8 .5,.3 .5,.8 .5,.8 .5-1.5 .5,.4 .5-.1 .5,.9 .5,.9 .5-3 .5,1 .5,.1 .5,.8 .5,1.1 .5-1.8 .5,.2 .5,1.2 .5-2.9 .5,.5 .5,.4 .5,.6 .5,.3 .5-1 .5,2.8 .5-3 .5,.6 .5,1.6 .5-.4 .5-1 .5,.5 .5,.5 .5-1 .5,.8 .5-1.9 .5,1.2 .5-2.1 .5,.9 .5-.3 .5,2.9 .5-2.1 .5,.9 .5-1.5 .5,.9 .5-.2 .5-.7 .5,2.1 .5-3.1 .5,2.8 .5,1.3 .5-3.1 .5,1 .5-1.9 .5,1.8 .5-2.1 .5,2.8 .5-1.3 .5-1.7 .5,.6 .5-.4 .5,1.6 .5,1.4 .5-1.6 .5-1 .5,.4 .5,1.2 .5-2.6 .5,3.1 .5-.3 .5-2.9 .5,3.8 .5-3.6 .5,1.6 .5,1.6 .5-3.6 .5-.5 .5,.6 .5-.2 .5,.8 .5-.8 .5-.3 .5-.3 .5,0 .5-1.2 .5,1 .5-.8 .5-1.7 .5,2.9 .5-4.4 .5,1.7 .5-2.6 .5,.5 .5-.7 .5-.6 .5-.4 .5-3.9 .5,2 .5-3.5 .5-3.6 .5-2.9 .5,1.7 .5-2.3 .5-4 .5-1.1 .5-1.5 .5-3.8 .5-3.3 .5-2.5 .5-2.5 .5-6.7 .5-7.1 .5-.4 .5-5.1 .5-.9 .5,.4 .5-3.3 .5-2.1 .5-2.2 .5-.9 .5-3.4 .5-4.4 .5,.6 .4-2 .6,.1 .5,6.4 .5,1.3 .5,.2 .5,2.5 .5,2.3 .5,3.1 .5-.1 .5,1.8 .5,2.4 .5,2.9 .5,2.9 .5,3 .5,5.5 .5,1.8 .5,4.7 .5,2.8 .5,3.1 .5,6 .5,1.1 .5,1.7 .5,3.7 .5,1 .5,3.9 .5,2 .5,1.7 .5-1.1 .5,2.5 .5,3.7 .5-1.4 .5,2.9 .5,1.1 .5-2.9 .5,3.6 .5-.1 .5,.5 .5,1.4 .5-1.2 .5-.1 .5,.9 .5-.8 .5,1.2 .5-2.7 .5,4.7 .5-2.5 .5,1.5 .5-.1 .5,0 .5,.1 .5,.2 .5-2 .5,1.5 .5,2.3 .5-2.5 .5,.1 .5,3.7 .5-.6 .5,.6 .5-1.7 .5,.5 .5,.8 .5-.1 .5-.6 .5-1.6 .5,1.1 .5-.8 .5,3.9 .5-2.3 .5,.5 .5,.7 .5-.2 .5,.7 .5-1.2 .5-1 .5,4.1 .5-2.8 .5,.4 .5-.3 .5,.4 .5,.8 .5,1 .5-2.1 .5,1.8 .5-1.1 .5,2.4 .5-2.9 .5,1.7 .5,.8 .5-2.4 .5,1.8 .5,.2 .5-1.1 .5,.7 .5,1.6 .5-.9 .5-.7 .5,.3 .5,.8 .5,1.1 .5-.6 .5,0 .5,1.1 .5-3.8 .5,.2 .5-.5 .5,3.3 .5-3.3 .5,2.3 .5,1 .5-2.5 .5,.9 .5,.5 .5,1.3 .5-2.7 .5,2.2 .5,.5 .5-.6 .5,0 .5,1.4 .5-1.2 .5-.3 .5-.4 .5,1.3 .5-1.1 .5,1.1 .5-.6 .5,1.3 .5-2.3 .5,1 .5,.4 .5,.1 .5,.9 .5-.8 .5,.6 .5,1.2 .5-1.2 .5-2.3 .5-.4 .5,2.6 .5-1.2 .5,.8 .5-.5 .5,1.8 .5-.1 .5-2.7 .5,1.7 .5-.7 .5-1.1 .5,2.4 .5-.9 .5,.7 .5,1.9 .5-.7 .5-.2 .5-1.8 .5-.8 .5,3 .5-1.8 .5,.4 .5-.4 .5,.6 .5,2.3 .5-2.6 .5,.1 .5,.7 .5,.1 .5-1.7 .5-.6 .5,1.5 .5,.5 .5-.6 .5-.2 .5,.2 .5,.7 .5,.4 .5-1.7 .5,1.3 .5,1.2 .5-.5 .5-1.4 .5,1.3 .5,.4 .5,1.1 .5-2.8 .5,2.8 .5-1.3 .5,.9 .5,.6 .5-1.8 .5,.2 .5,.9 .5,1 .5-1.4 .5-1 .5,.9 .5,1.4 .5,1 .5-2 .5,.3 .5,.2 .5,.1 .5-.9 .5,.6 .5,.9 .5-.1 .5-.1 .5-1.2 .5,.6 .5-.2 .5,2.2 .5,.5 .5-1.3 .5,1.5 .5-2.2 .5,0 .5-1.2 .5,1.8 .5-.8 .5,.7 .5,.4 .5-.8 .5-1.1 .5,1.3 .5,0 .5,.1 .5,.7 .5-1 .5-.1 .5,2.4 .5-.8 .5-1.4 .5-1 .5,.6 .5,1 .5,.5 .5,1.3 .5-2.6 .5,.5 .5-.6 .5,.5 .5-.6 .5-.8 .5,2.5 .5-1.1 .5,1.4 .5-2.1 .5,.9 .5,.4 .5-3 .5,.7 .5,2.4 .5-.8 .5-2.3 .5,1.3 .5-.4 .5,.7 .5,2.4 .5-2.5 .5,2.9 .5-2.6 .5-.6 .5,2.8 .5-.8 .5,.5 .5,.7 .5-1.1 .5,.2 .5-3.5 .5,1.1 .5,1.4 .5-.3 .5,.6 .5-1.4 .5,1.9 .5,.9 .5-1.6 .5,.3 .5-.4 .5,.5 .5-.9 .5-.8 .5,.8 .5-.1 .5-2 .5,2.1 .5-.3 .5,.2 .5-.9 .5,1.2 .5,.2 .5-1.6 .5,1.2 .5,.5 .5,0 .5-2 .5-.2 .5,1.2 .5-1.2 .5,3.4 .5-3.2 .5,0 .5,1.7 .5-1.4 .5-1.7 .5,2.1 .5-1 .5,.5 .5-1.3 .5,.8 .5,.8 .5,.1 .5-1.2 .5,.4 .5-.2 .5,1.2 .5-.4 .5-1.3 .5,2.2 .5-1.6 .5,1.3 .5-1.6 .5,1.4 .5-.5 .5,.2 .5,.5 .5-.1 .5-.3 .5,0 .5-1.7 .5,1.4 .5-2.2 .5,0 .5,1.8 .5,.1 .5,2 .5-1 .5,.5 .5-1.7 .5,.9 .5,.9 .5-.8 .5-.2 .5-.4 .5-1.2 .5,0 .5-.6 .5,2.1 .5-.8 .5-.5 .5,1.2 .5-1.1 .5,1.9 .5,1 .5-1.7 .5-1.4 .5-1 .5,4.1 .5-1.8 .5-2 .5,2.7 .5-3.3 .5,1.4 .5,.3 .5-.2 .5-1 .5,3.7 .5-2.8 .5,.9 .5-.5 .5-1.9 .5,1.2 .5,.9 .5,.8 .5-1.5 .5,.8 .5-.9 .5,1.1 .5-3 .5,3 .5-1.5 .5,0 .5-1.6 .5,1 .5,2 .5,1.5 .5-3.2 .5,.1 .5,1.3 .5-.3 .5-1 .5,.4 .5-.3 .5,1.2 .5,.2 .5,1.1 .5-1 .5-.3 .5-.7 .5,.9 .5-2.3 .5,3.4 .5-2 .5,1.4 .5-2.7 .5,2.1 .5-.7 .5-.8 .5-.6 .5-.3 .5,3.2 .5-.7 .5-1.4 .5,.1 .5-1.2 .5-1.3 .5,0 .5,1.4 .5,.5 .5-1.3 .5,2.3 .5-.3 .5-.5 .5-2.3 .5,1.8 .5,.1 .5-1.5 .5-.8 .5,4.5 .5-1.6 .5-1.2 .5,2.3 .5-.6 .5-.9 .5-.3 .5,.6 .5,.8 .5-1.8 .5-.4 .5,.9 .5-3 .5,2.3 .5-.7 .5,.4 .5-.2 .5,.5 .5-.3 .5-.1 .5-.3 .5,.6 .5-1.2 .5,1.7 .5-3.3 .5,2.2 .5,.2 .5-2.1 .5,.9 .5,2 .5-1.8 .5-1 .5-1.3 .5,2.7 .5-.4 .5,.5 .5,1.5 .5-2.4 .5,.1 .5-1 .5,.6 .5,0 .5,.9 .5-.4 .5-1.6 .5,.2 .5,2.2 .5-2.9 .5,2 .5,1 .5-1.3 .5-.5 .5,1.2 .5-1.3 .5-.5 .5-.3 .5,1.6 .5-.7 .5,1 .5-2.3 .5-.1 .5-.2 .5,.8 .5-1.2 .5,1.8 .5-.7 .5-1.7 .5-1.2 .5,.1 .5,3.8 .5-1.9 .5,.2 .5-.7 .5,.9 .5-2.9 .5,0 .5,.2 .5,2 .5,.7 .5-.4 .5-.8 .5-1.4 .5,2.4 .5-1.4 .5,.3 .5-.2 .5-.5 .5-.4 .5,.1 .5-.9 .5,1.8 .5-.6 .5,1.4 .5-3.4 .5,3.5 .5-1.6 .5-.1 .5-.8 .5-.1 .5-.9 .5,2.9 .5-1.4 .5,1.1 .5,.1 .5-1.6 .5,.2 .5-.1 .5,1.6 .5-1.1 .5,0 .5,.6 .5-.9 .5,2.3 .5-3.4 .5,2.6 .5,.1 .5-3 .5,2.4 .5-.8 .5,.7 .5-2.5 .5,1.7 .5-1.5 .5,.8 .5,2.1 .5-1.9 .5-2.2 .5,.6 .5,.3 .5,2.6 .5-2.1 .5-1 .5,3.1 .5-1 .5,.1 .5-1.4 .5,2.6 .5-1.9 .5-2.2 .5,.9 .5,.4 .5,.8 .5,1 .5-1.8 .5,.1 .5,3 .5-2.2 .5-.8 .5,.6 .5-1.6 .5,2.1 .5,.5 .5-1.9 .5,1.9 .5-1.6 .5,.6 .5-1.3 .5-.1 .5-.9 .5,2 .5-.7 .5,0 .5-1.1 .5-.1 .5,.5 .5,1.3 .5-.3 .5-1.2 .5,1.1 .5,1.7 .5-2.1 .5,2.1 .5-1.8 .5,1 .5-2.3 .5,1.9 .5-2.9 .5,1.7 .5-.8 .5-2 .5,.6 .5,2.9 .5-.8 .5,.9 .5-1.4 .5-2.6 .5,2.5 .5-1.1 .5,0 .5,0 .5-.4 .5-.3 .5,2.5 .5-1 .5-1.4 .5,.2 .5,1.6 .5-.8 .5-.4 .5-1.8 .5,.9 .5-1 .5-1 .5,3.3 .5-1.6 .5-.2 .5-.8 .5,2 .5,1.2 .5-1.7 .5,.3 .5-2.8 .5,1.6 .5-.1 .5,1.3 .5-1.9 .5-1.3 .5,.8 .5-.6 .5,2 .5-1.2 .5-.6 .5-.5 .5,.5 .5-1.9 .5-.9 .5-1.6 .5,3.3 .5-1.4 .5-.3 .5-1.4 .5,1.3 .5-3.8 .5,1.8 .5-3.3 .5-.7 .5-2.4 .5-.1 .5-2.2 .5-1.1 .5-3 .5-2.9 .5,.3 .5-1.2 .5-3 .5-3.4 .5-2.1 .5-5.5 .5-2.1 .5-3 .5-5.8 .5-5.6 .5-.2 .5-3.6 .5-1.3 .5-4.9 .5-1.3 .5-1.3 .5-2.3 .5-2.1 .5-2.9 .5,1.2 .5,2.3 .5,2 .5-1.4 .5,3 .5,1.6 .5,1.9 .5,2.6 .5-1.3 .5,3.7 .5-1.2 .5,2.7 .5,1.7 .5,1.8 .5,1.9 .5,2.8 .5,3.2 .5,3.1 .5,1.2 .5,3.3 .5,3.9 .5,3.9 .5,3.3 .5,3.8 .5,.4 .5,1.2 .5,3.2 .5,2.4 .5,1 .5,.1 .5,2.6 .5,1.3 .5-.4 .5,1.2 .5,3.9 .5-2.8 .5,3.4 .5,.4 .5,2.7 .5-.2 .5-1 .5,3.2 .5-1.6 .5,3.5 .5,.1 .5-1.5 .5,1.4 .5-.2 .5-.9 .5,2.7 .5-.3 .5,.8 .5,.6 .5,.7 .5-.1 .5-1.1 .5,.5 .5,.6 .5-.4 .5,0 .5,2.7 .5-1.5 .5,1.9 .5-3 .5,1 .5-.3 .5,.2 .5,.2 .5,.3 .5-.2 .5,2.8 .5-1.2 .5-1.6 .5,.3 .5,1.7 .5-.1 .5-1.3 .5,2 .5-2.7 .5,1.2 .5,2.8 .5-4.3 .5,2.2 .5,1.6 .5-1.2 .5-.6 .5,0 .5-1.1 .5,.9 .5,1.8 .5-.6 .5,.8 .5,0 .5,.7 .5-2.2 .5,1.8 .5,.1 .5,.2 .5-.5 .5-1.1 .5,3.2 .5,.4 .5,1.5 .5-1.3 .5,1.2 .5-1.1 .5-1 .5,1.2 .5-1.9 .5,1.8 .5-.3 .5-1 .5,2.9 .5,0 .5-.7 .5,.5 .5,1.1 .5-2 .5-1.3 .5,.6 .5,2 .5-.4 .5-1.9 .5,3.4 .5-1.2 .5,1.8 .5-.5 .5-1.8 .5,.7 .5-.9 .5,0 .5,.7 .5,1.1 .5,1.1 .5-2.6 .5,2 .5-.8 .5-.2" fill="none" stroke="#FF0000" stroke-width="9.7" stroke-linejoin="round" stroke-linecap="round" clip-path="url(#cl)"/>
<path d="M160.0,1018.7l.5-1.6 .5,2.2 .5-1.9 .5-.5 .5,2.2 .5-2.5 .5,.5 .5,1.3 .5,.4 .5-.2 .5-1.8 .5,.9 .5,2.3 .5,.2 .5-1.7 .5,1.7 .5,.1 .5,1.1 .5-1.9 .5,2.7 .5-1.9 .5,2.2 .5-.5 .5-2.1 .5,1 .5,.8 .5,1 .5-2.7 .5,1.2 .5,1.5 .5-.1 .5-1.7 .5,.4 .5,1.7 .5-1.6 .5,1.6 .5,.9 .5-.9 .5-2.3 .5,3.9 .5,.1 .5,.4 .5-.5 .5-2.9 .5,3.8 .5-1.2 .5,.8 .5-1.2 .5,0 .5,.1 .5,2.3 .5-1.5 .5-.4 .5-1.2 .5,2.2 .5-.5 .5,.3 .5,1.1 .5-.3 .5-.7 .5,.3 .5,0 .5,.8 .5,.1 .5-.6 .5-1.1 .5,2.1 .5,.2 .5-2.3 .5,1.9 .5-.9 .5-1.8 .5,2.4 .5,1.3 .5-1.9 .5,.1 .5,2.1 .5-2.4 .5,.3 .5,.8 .5,1.2 .5,.1 .5-1.3 .5,.4 .5,.5 .5-.5 .5-.4 .5-.2 .5,2.2 .5-1 .5,2.6 .5-1.5 .5-1.5 .5,.9 .5,.5 .5,.2 .5,.1 .5,.1 .5-.7 .5,1 .5,1.6 .5-2.7 .5,.1 .5,1.4 .5,.7 .5-.5 .5,.6 .5-1.5 .5-.2 .5,1.1 .5,.1 .5,1.3 .5-.1 .5-4 .5,3.1 .5-1.7 .5-1.5 .5,2.9 .5-.7 .5-.2 .5-1 .5,.3 .5,1 .5-1.5 .5,1.6 .5,.3 .5-.3 .5,.6 .5-.5 .5-1.3 .5,.2 .5,1.4 .5,1 .5-1 .5-.8 .5,.8 .5-2.4 .5,.9 .5,.7 .5,.4 .5-.4 .5,.1 .5-1.2 .5,.7 .5,1 .5-2.6 .5,.8 .5,.9 .5,2.2 .5-1.1 .5,1.1 .5-.4 .5-2.2 .5,.4 .5-1.3 .5,2.7 .5-.6 .5-.2 .5,0 .5-.3 .5-.4 .5,0 .5,1.1 .5-2.5 .5-.3 .5,1.2 .5,1.3 .5-1.2 .5-.6 .5,1.2 .5-.9 .5-2.5 .5,1 .5-1.2 .5,2 .5-.3 .5,1 .5,1.7 .5-3.1 .5,.7 .5-.5 .5-1.9 .5,1.3 .5,0 .5,1.1 .5-1.3 .5-.6 .5,2.2 .5-.9 .5-1 .5,.1 .5,.5 .5,1.3 .5,.7 .5-3.3 .5,2.9 .5-1.4 .5,.3 .5,.7 .5-2.4 .5,2.2 .5-2.7 .5,1 .5-.5 .5,3 .5-.1 .5-1.2 .5-.3 .5-1.3 .5,2.7 .5-.5 .5-.7 .5-1.2 .5-.4 .5,.3 .5,1.6 .5-2.8 .5,1.2 .5,1.8 .5-1 .5,1 .5-1.7 .5,0 .5,1 .5-.9 .5-.5 .5-1.1 .5-1.2 .5,3.5 .5-2.4 .5-.5 .5,1.8 .5-2.2 .5-.6 .5,.8 .5,.5 .5,.2 .5,.2 .5,.4 .5-1.5 .5,.4 .5-.7 .5-.8 .5,1 .5-.2 .5,1.5 .5-1.7 .5-1.7 .5,1.3 .5-1.2 .5,1.9 .5-4.1 .5,1 .5-.3 .5,.7 .5-.6 .5-2 .5-.6 .5,2.2 .5,1.3 .5-.3 .5-2.5 .5,.7 .5-1.8 .5-1 .5,2.9 .5-1 .5-1.5 .5-.3 .5,1.2 .5-1 .5-1.1 .5,.5 .5-.7 .5-.8 .5-.6 .5,1.6 .5-1.9 .5-1.2 .5,3.2 .5-.9 .5-1.2 .5-1 .5,0 .5-2.2 .5,1.3 .5,0 .5-.9 .5,.4 .5-1.7 .5,.7 .5-2.4 .5,1.5 .5-1.1 .5-1.2 .5,.7 .5,.1 .5-1.1 .5,1.4 .5-2.3 .5,1.5 .5-.7 .5-1.9 .5,2 .5-3.8 .5,1.9 .5-1 .5,.4 .5-3.2 .5,0 .5,0 .5,.6 .5-.3 .5-.6 .5-.7 .5-1 .5-1.2 .5,.7 .5,.7 .5,.1 .5-2.2 .5,1.4 .5-3.3 .5,2.1 .5-2.7 .5,1.2 .5-1.9 .5-.4 .5,.1 .5,1.8 .5-2.8 .5,1 .5-.9 .5-.3 .5-.4 .5-.1 .5-2.5 .5,1 .5-.1 .5-1.5 .5,.7 .5-2.1 .5,1.6 .5-2.1 .5,.1 .5,.8 .5-.1 .5-2.4 .5-.5 .5,1.4 .5-3.9 .5,3.5 .5-.5 .5-3.3 .5,2.2 .5-1.4 .5-.3 .5-3.3 .5,1.3 .5-.1 .5-.8 .5-.4 .5-.3 .5-2.4 .5,1.6 .5-1.1 .5,.3 .5-.9 .5,.1 .5-.2 .5,1.3 .5-3.5 .5,2.5 .5-2.7 .5-1.2 .5-1.1 .5,2.2 .5-3.2 .5,2.3 .5-1.1 .5-1.5 .5-.6 .5,.9 .5-.9 .5,.3 .5-1.4 .5-1 .5,.7 .5-2.5 .5,2 .5-1.4 .5-1.9 .5-.3 .5,.3 .5-2.2 .5,3.3 .5-.9 .5-2.9 .5,.6 .5,1.7 .5-2 .5-2.1 .5-1.6 .5-.1 .5,2.9 .5-1.5 .5-2.4 .5,1.9 .5-1.8 .5-.8 .5-.3 .5-.4 .5,2 .5-3.5 .5,.1 .5,1.6 .5-.3 .5-3.4 .5,3 .5-1.5 .5-3.5 .5,3.4 .5-4.4 .5,2.1 .5-2.7 .5-1.2 .5,2.6 .5-1 .5-1 .5-.2 .5-.8 .5-.7 .5-1.5 .5,1.5 .5-1.1 .5-.9 .5-.8 .5-.2 .5-2 .5,1 .5-1.3 .5,2.2 .5-3.2 .5,.1 .5,.1 .5,.4 .5-.9 .5-1.1 .5,1.8 .5-2.8 .5-.1 .5,1.4 .5-3.9 .5,1.7 .5-1.1 .5-2.6 .5,.3 .5,1.2 .5-3.2 .5,1 .5,.8 .5-1.9 .5,.1 .5-1.6 .5-.5 .5-.4 .5-.2 .5,.6 .5-1.1 .5,1.7 .5-2.2 .5-.8 .5,1.5 .5-3 .5-1.3 .5,.6 .5-1.9 .5,1.4 .5,.5 .5-1.4 .5-1.7 .5-.2 .5,.3 .5,.3 .5-2.4 .5-.5 .5,1.3 .5-1.5 .5-.3 .5-.4 .5-2 .5,.3 .5,.9 .5-1.9 .5-.6 .5,.1 .5-.4 .5,1.4 .5-3.8 .5,.6 .5,1.7 .5-2.8 .5-.1 .5-2.6 .5,2.4 .5-.7 .5-.5 .5-1.7 .5,.2 .5-1 .5,.6 .5-1.5 .5,.4 .5-3 .5,.8 .5-2.4 .5,1.6 .5,.7 .5-1.7 .5,2.1 .5-3.9 .5,.3 .5-1.2 .5,.1 .5-.4 .5-1.6 .5,.1 .5,3 .5-3 .5,1 .5-3 .5,.9 .5,.4 .5-1.2 .5-.8 .5-.1 .5-.1 .5,.6 .5,0 .5-3.4 .5-1.1 .5,1.7 .5-.2 .5,.5 .5,0 .5-2.4 .5,2.7 .5-2.4 .5-2.8 .5,2.9 .5-1.2 .5-.3 .5-2.6 .5,1.1 .5,.2 .5-.7 .5,.6 .5,.4 .5-.1 .5-.6 .5-2.1 .5,1.9 .5-2.1 .5,.4 .5-1.6 .5-1.7 .5-1 .5,2.2 .5-1.4 .5,.5 .5,.7 .5-3.2 .5-.6 .5,2.1 .5-.2 .5-1 .5-.6 .5-1.6 .5,1.5 .5-1.1 .5,1.1 .5,.3 .5-2.1 .5,.9 .5-.6 .5,.3 .5,.8 .5-1.4 .5-.2 .5-.2 .5-1.7 .5,.2 .5,.1 .5,.8 .5-.2 .5,.5 .5-3.9 .5,1 .5-2.3 .5,1.2 .5-1.6 .5,3.1 .5-.8 .5-2.4 .5,1.4 .5,.2 .5,1 .5-1.4 .5-1 .5-.6 .5,.7 .5-.7 .5-1.1 .5-1.2 .5,2.5 .5-2.4 .5,.3 .5,1.1 .5-1.3 .5,1.2 .5-2.9 .5,2 .5-2.7 .5-.4 .5,.3 .5,1.2 .5-1.2 .5-1 .5,2.8 .5-2.7 .5,.8 .5,.2 .5-1.1 .5,.8 .5,.1 .5-1 .5,1.2 .5-2.2 .5-.8 .5,1.3 .5-1.6 .5,1.4 .5-.7 .5-.7 .5,1.1 .5-.3 .5-3.1 .5,1.7 .5,.3 .5,.3 .5-1.5 .5-.9 .5,1.3 .5,.5 .5-3.3 .5,.3 .5,.9 .5-1.8 .5,1.4 .5,1.6 .5-2.5 .5,1.3 .5-1.4 .5,1.4 .5,.1 .5,.6 .5-1.6 .5,1 .5-.9 .5-1.2 .5,2.2 .5-2.6 .5,.8 .5,2 .5-1.4 .5-2.1 .5,1.2 .5-1.1 .5,.4 .5-1.7 .5,1.9 .5-2.1 .5,2.2 .5-.1 .5,.6 .5,1.2 .5-4.3 .5,.5 .5,.1 .5,.5 .5,1.7 .5-1.5 .5-.4 .5-.7 .5,.6 .5,.2 .5,.3 .5-1.6 .5,1.6 .5,.7 .5-.3 .5-1.9 .5,2.4 .5,0 .5-.7 .5-1.8 .5-.4 .5,1.8 .5-1.3 .5-.4 .5,2.6 .5,0 .5-.3 .5,.8 .5-.5 .5-2.5 .5,2.7 .5-1.2 .5,.4 .5,1.3 .5-1.4 .5,1.4 .5-1.8 .5-.6 .5-.3 .5,.7 .5-1.8 .5,2 .5,0 .5-.4 .5-1.5 .5,.1 .5,3.3 .5-1.8 .5,3 .5-2.3 .5,1.5 .5-2 .5,1.2 .5,.8 .5,1.2 .5,1.6 .5-.6 .5-2.6 .5,2.1 .5,.1 .5-.3 .5,1.8 .5,1.5 .5-2.1 .5,2.2 .5,.7 .5-2.6 .5,3.7 .5,.3 .5-1.3 .5,2 .5-1.3 .5,1.5 .5-.1 .5-1.3 .5,1.9 .5,0 .5,.2 .5-.2 .5,1 .5,.1 .5,3.5 .5-3 .5,3.1 .5-.1 .5,0 .5,3.1 .5-1.1 .5,3.2 .5-.9 .5,1.4 .5,.3 .5,1.8 .5,1.1 .5-.8 .5,1.4 .5,3 .5-1.9 .5,3.8 .5-1.8 .5,.8 .5-.3 .5,2.1 .5,.1 .5,2.6 .5,2.8 .5,.4 .5,.6 .5,.8 .5,1.8 .5,.5 .5,1.6 .5,5.2 .5-.6 .5,.1 .5,3.3 .5,2.4 .5-1.1 .5,2.1 .5,0 .5,1 .5,4.9 .5,2 .5-1.9 .5,.2 .5,5 .5,.9 .5,.6 .5,2.5 .5-.9 .5,2 .5,1.9 .5,0 .5,2.2 .5,.5 .5,2.1 .5,1 .5-1.2 .5,3.7 .5-.6 .5,2 .5,.3 .5,4.3 .5-.1 .5,1.3 .5,3.2 .5,.7 .5,.2 .5-.8 .5,4.4 .5,.2 .5,1.2 .5,2.7 .5-.3 .5,2 .5,2.5 .5,.9 .5-.1 .5,3.9 .5,.9 .5,2.3 .5-1 .5,1.6 .5,2.3 .5,.6 .5,1 .5,1 .5,1 .5,.9 .5,1.3 .5,2.5 .5,.4 .5-.1 .5,2.9 .5,3.1 .5,.9 .5-2.8 .5,2.4 .5,3.1 .5,.3 .5,1.2 .5,.9 .5,1.3 .5-.2 .5,3.8 .5-1.6 .5,2.2 .5,3.1 .5,.5 .5-.2 .5,1 .5,.4 .5,1.2 .5,1.3 .5,3 .5-1.1 .5,2.3 .5,.9 .5,1 .5,.2 .5,2.3 .5,.3 .5,1 .5,.4 .5-.7 .5,4.2 .5,1.1 .5-.5 .5,1.4 .5,1.6 .5-.5 .5,3.1 .5,1 .5,1.2 .5,1 .5-2.3 .5,3.8 .5-.1 .5,2.8 .5,.9 .5,.6 .5-.1 .5,3.3 .5-1.5 .5-.3 .5,3.3 .5-2 .5,4.9 .5-.2 .5,1.3 .5,.5 .5,.1 .5-1.2 .5,1.7 .5,2.2 .5,0 .5,1.5 .5-.5 .5,.7 .5,2.1 .5,1.3 .5-.1 .5-.4 .5-.1 .5,5 .5-2.9 .5,1 .5,.8 .5,2.6 .5-1.3 .5,2.1 .5,.4 .5-1.1 .5,2.1 .5-1.1 .5,1.9 .5,1.6 .5-.6 .5-.2 .5,1.1 .5,.8 .5,1.2 .5-2.2 .5,.6 .5,3.3 .5-.2 .5,.7 .5,.7 .5,0 .5,.2 .5,1.1 .5,1.2 .5,.1 .5,.1 .5-.8 .5,2 .5-1.2 .5,1 .5,1.5 .5,.4 .5,1.6 .5,.3 .5,0 .5-.5 .5,.8 .5,.2 .5,2.8 .5-1 .5-.9 .5,.3 .5,2.9 .5-2 .5,1.9 .5,.3 .5,1.6 .5-1.9 .5,2.1 .5,.2 .5,1.2 .5,1.2 .5-1 .5,.1 .5,1.8 .5-2.2 .5,2.4 .5-.9 .5,.2 .5,0 .5,.5 .5,3.4 .5,.5 .5-.4 .5,1.6 .5-.7 .5-.1 .5-.2 .5,2.7 .5,.5 .5,1 .5-1.9 .5,1 .5-.7 .5,3.4 .5,0 .5,.2 .5-.2 .5,.3 .5,.3 .5,2.1 .5-1.5 .5,2.2 .5-.2 .5-1.1 .5-.1 .5,1.2 .5,1.3 .5-1 .5,2.7 .5,1 .5-.2 .5-2.3 .5,.1 .5,3.8 .5,1.1 .5-1.8 .5,1.5 .5-.6 .5,0 .5,2.3 .5-1.4 .5,2 .5,1.4 .5-1.8 .5,2.8 .5-3.4 .5,3 .5-.7 .5,2.6 .5-1.8 .5-.7 .5,3.3 .5-3.4 .5,2.7 .5-1.1 .5,2.9 .5-1.4 .5,1.5 .5-.7 .5-1 .5-.6 .5,4.8 .5-1.5 .5-1.4 .5,1.4 .5,1.9 .5-2.7 .5,4.4 .5-2.2 .5,.2 .5,2.3 .5-1 .5-1.1 .5,2.6 .5-.2 .5,1.1 .5-2.1 .5,.1 .5,2.4 .5-.9 .5-1.5 .5,1.9 .5,1.8 .5-1.3 .5,2.7 .5-1.8 .5,.8 .5-1.5 .5,1.4 .5,1 .5,1.3 .5-.2 .5,1.4 .5-3.3 .5,2.7 .5,.1 .5-.7 .5,1.5 .5-.5 .5,1.7 .5-.6 .5,1.4 .5-1.4 .5,2.9 .5-.7 .5,2 .5-2 .5-.1 .5,1.1 .5-.4 .5-.4 .5,1.6 .5,.2 .5-.4 .5,.6 .5-.4 .5,1.7 .5-1.5 .5,3.9 .5-1.7 .5,1.4 .5-2.3 .5,2.1 .5-.3 .5,1.7 .5,.1 .5-2.8 .5,3.7 .5-3 .5,3.7 .5-1.4 .5-1.2 .5,2.6 .5-.6 .5-1 .5,.5 .5,1.7 .5-2 .5,.8 .5,3.5 .5-3 .5,1.6 .5,.3 .5,.8 .5,0 .5-3.1 .5,1.9 .5,2.1 .5-2.2 .5,3.3 .5-1.7 .5-1.6 .5,2.3 .5,1.8 .5-3 .5,1.7 .5-1.6 .5,.5 .5,1 .5,.6 .5,0 .5-.1 .5,2.2 .5-3.4 .5-.8 .5,3.1 .5-.3 .5-1.8 .5,4 .5-2.8 .5-.7 .5,2.4 .5,.4 .5,1.7 .5-4 .5,.5 .5,1.4 .5,0 .5,.6 .5-.6 .5-.8 .5,1.6 .5,1.6 .5,.3 .5-1.6 .5,1.7 .5,.1 .5-.9 .5,.5 .5,.7 .5,2.6 .5-1.8 .5-1 .5,1.2 .5-.1 .5,2.4 .5-3.4 .5,1.3 .5,2.7 .5-.2 .5-.1 .5,1.2 .5-2.2 .5,2.4 .5-1.5 .5,.1 .5,2.5 .5-1.3 .5,.8 .5,1.4 .5-1.7 .5,2.2 .5,1.8 .5-2.4 .5,1.7 .5-.1 .5-2.2 .5,0 .5,1.9 .5-2.1 .5,2.5 .5,.5 .5,.4 .5,.2 .5,1.2 .5-1.8 .5,2.2 .5-.8 .5,.1 .5-.6 .5,1.5 .5-1.9 .5,1.9 .5,.7 .5-2 .5-.2 .5,.4 .5,1 .5,.6 .5,.8 .5,1.4 .5-.1 .5-1.5 .5-.7 .5-.8 .5,2.6 .5-.2 .5-.8 .5,.3 .5,.3 .5-2 .5,2.4 .5,.6 .5-.3 .5-1 .5,1.5 .5,.7 .5,1.8 .5-.7 .5-.4 .5-.6 .5-1.4 .5,1.3 .5-.9 .5,1.7 .5,1.6 .5,.1 .5,0 .5-.9 .5,1.3 .5-1.3 .5-1.9 .5,2.7 .5,0 .5-2 .5,1.6 .5-1.6 .5,1.9 .5,2.2 .5-2.2 .5,2.5 .5-1.2 .5-1.1 .5-1.1 .5,3.1 .5,0 .5-2.5 .5,1.4 .5,1.9 .5-2.2 .5,1.5 .5-2.8 .5,1.3 .5,2.1 .5-2.3 .5-.2 .5,.1 .5,1.3 .5-1.4 .5,1.9 .5,.9 .5,1.2 .5-2.3 .5,2.5 .5-1.2 .5-.9 .5,.9 .5,1.3 .5,0 .5-.8 .5-1 .5,1.1 .5-.7 .5,0 .5,.1 .5,2 .5-3.7 .5,1.4 .5-1.2 .5,2.4 .5,.3 .5,.4 .5-2.1 .5,.5 .5,.9 .5-.7 .5,.2 .5-.1 .5,.1 .5-.5 .5,.7 .5-2.3 .5,1.3 .5-1.1 .5,1.6 .5-.8 .5,1.6 .5,.9 .5-3.1 .5,.6 .5,1.4 .5,1.3 .5-.8 .5-.4 .5-.6 .5-.4 .5,1 .5,.1 .5-.4 .5-.9 .5-1.2 .5,.9 .5,.6 .5-1 .5,1.8 .5-2.1 .5,1.3 .5,.8 .5,.5 .5-.7 .5,1.1 .5-2.2 .5-.2 .5,2.2 .5-2.5 .5,.9 .5-2 .5,3.4 .5-.5 .5-1.9 .5-1.3 .5,2.4 .5-.1 .5,1.1 .5,.7 .5-2 .5-.7 .5-.1 .5-.1 .5-1.4 .5,.5 .5,.9 .5-2 .5,.3 .5,3 .5-2.4 .5,1.7 .5,.2 .5-1.4 .5,.8 .5-1.3 .5-1 .5,.7 .5,0 .5-.1 .5-.3 .5-.8 .5,1.6 .5-1.8 .5-.5 .5,1.3 .5-2.6 .5,1 .5,1.5 .5-2 .5,1.3 .5-2.3 .5-.6 .5,.1 .5-.7 .5-.1 .5-.4 .5,1.2 .5-.8 .5-1 .5-1 .5,2.8 .5-2.8 .5,1.7 .5-3.4 .5,.2 .5,2.1 .5-3.1 .5-.3 .5,1 .5-1.2 .5,.2 .5,.2 .5,.5 .5-1.2 .5-.3 .5,.8 .5-.3 .5-2.7 .5-2.4 .5,.3 .5,1.7 .5-2.7 .5-1.2 .5-.7 .5,1.4 .5-3 .5-1.8 .5-1.9 .5-2.1 .5,1.6 .5-4.4 .5-2.2 .5-3.5 .5-1.8 .5-6.7 .5-5.8 .5-3.8 .5-5.2 .5-6.5 .5-11.8 .5-10.8 .5-9.1 .5-11.1 .5-10.9 .5-10.5 .5-12.2 .5-13.1 .5-8.6 .5-11.4 .5-9.3 .5-10.4 .5-9.3 .5-9.8 .5-7.2 .5-6.1 .5-1.2 .5-4.6 .5-3.3 .5-4.1 .5-4.3 .5-7.5 .5-5.5 .5-2.8 .5-3.1 .5-6.1 .3-2.3 .7,3.8 .5,8.4 .5,3.9 .5,4.3 .5,1.6 .5,6.8 .5,4.8 .5,6.9 .5,10.8 .5,12 .5,14.5 .5,13.9 .5,16.6 .5,16.1 .5,17.4 .5,9.9 .5,11.7 .5,7.5 .5,5 .5,8.8 .5,6.8 .5,4.3 .5,2.9 .5,5.1 .5,5.4 .5,.8 .5,3.9 .5,3.9 .5-.1 .5,1.2 .5,3 .5,2.3 .5-.3 .5-1.1 .5,.6 .5,2.5 .5-1.2 .5,2.7 .5,1.8 .5-3 .5,2.6 .5,1 .5-.6 .5,1.5 .5,.6 .5,1 .5,1.3 .5-1.5 .5-1.1 .5,.1 .5,.1 .5,2.6 .5-.2 .5,.4 .5-.2 .5,1.9 .5-.5 .5,0 .5-1.9 .5,.4 .5-1.1 .5,.8 .5,.8 .5-1.6 .5,.6 .5,2.9 .5-2.6 .5-1.7 .5,.1 .5,1.2 .5,1 .5-1.4 .5,.9 .5-.9 .5-2 .5,2.3 .5-2 .5,2.4 .5-3.2 .5,.2 .5-.8 .5,0 .5,.5 .5-1.1 .5,1.3 .5-1.2 .5,1 .5-2.2 .5,1.2 .5-.5 .5-2 .5,2.1 .5-.7 .5-1.5 .5-1.3 .5-.2 .5-.4 .5,.2 .5-2.1 .5,1 .5-1.2 .5,2.4 .5-1.5 .5,.6 .5-.2 .5-2.1 .5,1.2 .5-2.3 .5-.1 .5-2.4 .5,.8 .5,1.1 .5-1.6 .5-1.5 .5,0 .5-1.4 .5-.4 .5-1.4 .5,2.6 .5-.5 .5-1.9 .5-1.9 .5,.9 .5,2 .5-4.2 .5,.6 .5-.4 .5,1.2 .5-2.9 .5,1.5 .5-1.7 .5,.2 .5-1.4 .5,1.7 .5-1.6 .5-.5 .5,1.7 .5-1.2 .5,1.4 .5-2 .5-.7 .5-.2 .5,1.7 .5-.9 .5-2.1 .5,.6 .5-1.2 .5,1.2 .5-1.6 .5-.3 .5,1 .5,1 .5-.8 .5-.3 .5-1 .5-2.6 .5,2 .5-.1 .5,.8 .5,1.3 .5-1.2 .5-3.1 .5,2.1 .5-.3 .5,1.2 .5-1 .5-2.2 .5,1.3 .5,.7 .5-2 .5,2.3 .5-.2 .5,1.7 .5-1.4 .5-.5 .5,.6 .5,.2 .5,1.3 .5-2.3 .5-1.2 .5,4.7 .5-1.2 .5-.8 .5,2.2 .5-3.5 .5,.5 .5,.5 .5,1.2 .5-1.1 .5,1.6 .5-1.3 .5,2.1 .5-1 .5-2.4 .5,2 .5-1.2 .5,1.3 .5,.3 .5,2.4 .5-2.4 .5-1.5 .5,2.2 .5-1.4 .5,3.8 .5-1.3 .5,1.2 .5-2.2 .5-.7 .5,1.8 .5-1.9 .5,.6 .5,.4 .5,.9 .5-1.6 .5-.3 .5,4.2 .5-2.3 .5,.5 .5,1.1 .5-.1 .5-1.2 .5,.4 .5,2.6 .5-.3 .5-.5 .5,1.2 .5-4.2 .5,2.6 .5-.4 .5-1.9 .5,2.9 .5,.6 .5-.4 .5-2.3 .5,2.1 .5,.7 .5-.4 .5,.8 .5,.5 .5,1.4 .5-1.2 .5,2.2 .5-1.7 .5,.4 .5,.9 .5-.8 .5,0 .5,2.2 .5-3.7 .5,.5 .5,4.7 .5-1.1 .5,0 .5-.1 .5,.2 .5-1.3 .5,.9 .5-.7 .5,2.8 .5-.5 .5-.4 .5,.3 .5-.5 .5-1.1 .5,3.6 .5-1.2 .5-.9 .5,1.1 .5,.9 .5,0 .5-.5 .5,.2 .5-1.2 .5,2 .5-.4 .5,.1 .5-2.8 .5,2.5 .5,0 .5,.2 .5-3.4 .5-.1 .5,2.3 .5-1.9 .5,1.1 .5-1.2 .5,.4 .5-2.7 .5-1.5 .5,.8 .5-2.1 .5-2.4 .5-2.3 .5,3.2 .5-4.2 .5-1.4 .5-3.8 .5-.7 .5-1.8 .5-3.3 .5-4 .5-6.6 .5-3.2 .5-3.9 .5-7.2 .5-4.8 .5-7.3 .5-3.7 .5-5.3 .5-2.1 .5-5.4 .5-2.1 .5-6 .5-3.5 .5-4 .5-2.8 .5-3.2 .5,1.7 .5-3.8 .5-3.9 .5-.1 .5-2.3 .4,0 .6,3.7 .5,2.6 .5,2.4 .5-1 .5,.4 .5,3.4 .5,6.1 .5,2.7 .5,7.5 .5,8.4 .5,4.7 .5,7.1 .5,4.8 .5,8.9 .5,5.5 .5,1.8 .5,5.3 .5,6.2 .5,5.5 .5,4.3 .5,4.8 .5,5.1 .5,4.8 .5,4.8 .5,1.5 .5,1.8 .5,2.7 .5,4.2 .5,.8 .5,1.6 .5,2.4 .5,1.3 .5,1.9 .5-1.9 .5,2.3 .5,1.6 .5,.9 .5-.9 .5-.9 .5,2.2 .5,0 .5,1.3 .5,2 .5-.1 .5-1.8 .5,.9 .5,1.5 .5,1.6 .5-1.2 .5,.7 .5-1.8 .5,1.6 .5-.1 .5,1.5 .5-.3 .5-.5 .5,0 .5,1.9 .5-.8 .5,2.5 .5-.9 .5-.3 .5,1.8 .5-2.4 .5,3 .5-1.8 .5,2.2 .5-1.4 .5,0 .5-.8 .5,2.8 .5,.9 .5-2 .5,4.4 .5-1.8 .5-1 .5,4 .5-2.3 .5,2.7 .5-3.7 .5,5 .5-1.6 .5,.2 .5,.8 .5-1.4 .5,3 .5-.2 .5,.3 .5-.7 .5-.4 .5,2.3 .5,1 .5-.5 .5,0 .5-.1 .5,1.9 .5,1.3 .5-1.7 .5-.5 .5,3.6 .5-3.8 .5,2.5 .5-.1 .5,2 .5-1.5 .5-1.7 .5,.9 .5,1.8 .5,.1 .5-.5 .5,.4 .5-1.1 .5,.4 .5,1.3 .5,.1 .5,.9 .5-1 .5,3.6 .5-3.9 .5,3.4 .5-.1 .5,1.4 .5,0 .5-3.1 .5,2.2 .5,.7 .5,.5 .5-.4 .5-1.1 .5,2.5 .5-1.6 .5-.2 .5,1 .5-.6 .5-.1 .5,1.2 .5,2.2 .5-1.6 .5-.1 .5-.5 .5,1.2 .5-1.7 .5,2.2 .5-.1 .5,0 .5,.6 .5-.6 .5,1.2 .5,0 .5,.2 .5-.5 .5,1.2 .5-1.1 .5,2 .5-1.6 .5,1.9 .5-1.1 .5-.2 .5-1.1 .5,2.2 .5-.2 .5-.2 .5,.6 .5-.2 .5-1.1 .5-.2 .5,2.4 .5-.4 .5,1.8 .5,.5 .5-1 .5-.1 .5,.1 .5-.5 .5-.7 .5-1.5 .5,3.5 .5-.1 .5-.5 .5,.3 .5,1.2 .5,0 .5-.7 .5-.4 .5,1.2 .5,.4 .5,1.3 .5-3.1 .5,1.8 .5-1.5 .5,.6 .5,2.9 .5-2.5 .5,.4 .5-.4 .5,1.9 .5-1.4 .5-1.4 .5,2.3 .5,1 .5-.9 .5,.3 .5-.9 .5-.2 .5,1.3 .5-1.3 .5,1 .5-.5 .5,1 .5,1.4 .5-.9 .5,1.6 .5-.8 .5-.5 .5-.9 .5,1.4 .5-1.4 .5,2.4 .5-2.4 .5,0 .5,.8 .5-.9 .5,2.3 .5-.9 .5,.5 .5,1.4 .5-3 .5,2.2 .5,.8 .5,1 .5-1 .5-.9 .5,2.1 .5,.1 .5,1.2 .5,.2 .5-2.4 .5,2 .5-1.3 .5-1.4 .5,2.2 .5,.9 .5-3.9 .5,4.2 .5-2.6 .5,3.1 .5-1.6 .5,0 .5,1.7 .5-2 .5,2.7 .5-3.3 .5,.6 .5-.5 .5,2.1 .5-.7 .5,1.2 .5,.5 .5-.3 .5,.5 .5,.1 .5-1.4 .5-.7 .5-.2 .5,2.3 .5-1.5 .5-.4 .5,.2 .5,.9 .5,.6 .5-.5 .5-.8 .5,2 .5-2.9 .5,2 .5,1.8 .5-.8 .5,1.2 .5-1.2 .5,.6 .5-.5 .5-.5 .5,1.1 .5,.8 .5-3.4 .5,1.4 .5-1.2 .5,1.2 .5-.3 .5,1.1 .5,.3 .5,1.6 .5,.4 .5-2.4 .5,.5 .5,1.5 .5-1.5 .5,.4 .5-1.6 .5,3.2 .5-.5 .5-1.4 .5-.4 .5,.4 .5,2 .5-1.1 .5-.8 .5,1.2 .5,1.5 .5,.6 .5,.2 .5-1.4 .5,.3 .5,.1 .5,.6 .5-.1 .5-1.8 .5,.4 .5,.5 .5,1.4 .5-1.4 .5-.2 .5,2.3 .5,.6 .5-2.8 .5,1 .5,1.7 .5-1.8 .5,1.7 .5-2.8 .5,1.5 .5,1.2 .5,1.2 .5-.7 .5-3 .5,.2 .5,.9 .5,2.1 .5,0 .5,.5 .5-.4 .5-1.5 .5,.4 .5-.6 .5,2.2 .5-2.5 .5,1.7 .5,.3 .5,1.3 .5-2.3 .5,1.5 .5-1.7 .5,2.6 .5-1.6 .5,.1 .5-.7 .5,.5 .5,.1 .5,.1 .5,2.3 .5-2.6 .5,1.6 .5,.8 .5-2.3 .5-.8 .5,2.9 .5-2.5 .5,1.2 .5,.9 .5,.5 .5-.6 .5-.4 .5,2.2 .5-.9 .5,2.2 .5-3.4 .5,1.1 .5,.1 .5,.8 .5-.3 .5-.1 .5,2.4 .5-2.5 .5,.8 .5-.2 .5-.9 .5,1.8 .5-3.1 .5,3.7 .5-3.2 .5,1.6 .5,.6 .5-.6 .5,.1 .5,2.1 .5,1 .5-1 .5-1 .5-.8 .5-.1 .5,2.5 .5-.3 .5,.6 .5-.3 .5,.5 .5-2.3 .5-.1 .5-.2 .5,1.3 .5-.1 .5,.4 .5-1.5 .5,1.8 .5,.9 .5-.8 .5-2.3 .5,2.3 .5-.3 .5,1.6 .5-1.2 .5,1.1 .5-1.2 .5,1 .5,.8 .5-1.4 .5,.8 .5-.1 .5,.7 .5-.8 .5,.8 .5-2.7 .5,2 .5,1.4 .5-.1 .5-1.9 .5,.3 .5,1.5 .5,0 .5,.3 .5-.4 .5,.1 .5,1.2 .5-2.3 .5-.4 .5,3 .5-2.1 .5,1.8 .5-1.5 .5-.5 .5,3.3 .5-1.8 .5-1.6 .5,1.6 .5,.1 .5,0 .5,.6 .5-1.5 .5,1.1 .5,1 .5,.3 .5-.6 .5-1 .5-1.2 .5,4.1 .5-3 .5,.9 .5,.6 .5,.6 .5-.4 .5-.9 .5,1 .5,2.5 .5,.1 .5-2.6 .5,1.2 .5-2.8 .5,2.4 .5,.7 .5-1.1 .5,2.6 .5-1.1 .5-.2 .5-2.9 .5,1.6 .5,1.7 .5-1.4 .5-1.4 .5,1.5 .5,2.6 .5-1 .5,.3 .5-.7 .5,1.8 .5-4.1 .5,.9 .5,3.8 .5-.9 .5-.9 .5-.6 .5-1.7 .5,1.7 .5,.4 .5-.8 .5,2.8 .5-.3 .5-1.5 .5,1.5 .5-1 .5,.4 .5-.8 .5,3 .5-4.1 .5,1.7 .5,1.5 .5,.1 .5-3.1 .5,.9 .5,1.1 .5-.8 .5,.3 .5,.6 .5,.1 .5,1.6 .5-3.3 .5,3.5 .5-1.5 .5,1 .5-1 .5,2.8 .5-4.4 .5,3.7 .5-1.9 .5,.3 .5,2.1 .5-1.9 .5,1.4 .5,.8 .5-2.4 .5,3.1 .5-.7 .5-1.7 .5,.6 .5-1.1 .5,1.3 .5,.8 .5,.2 .5-.8 .5-.9 .5,0 .5-.3 .5,.9 .5,1.1 .5-1.4 .5,0 .5-.4 .5,2 .5-.9 .5-1.6 .5,3.4 .5,0 .5-1.2 .5-.4 .5,.5 .5-1 .5,2.4 .5,.5 .5-.4 .5-.8 .5,0 .5,.4 .5,1.5 .5-2.9 .5,1 .5-.8 .5-.5 .5,1.9 .5,1 .5-2.6 .5,2.6 .5-.3 .5-.2 .5,1.1 .5-2.4 .5,2.8 .5-2.3 .5,1.2 .5-2.5 .5,3.1 .5-1.1 .5-.7 .5-.5 .5,1.6 .5,1.4 .5-.9 .5-1 .5-.5 .5-.3 .5,1 .5-1.5 .5,1.5 .5,1.8 .5-1.3 .5-.1 .5-.5 .5,1.7 .5-.1 .5,1 .5-2.5 .5-.4 .5,.6 .5-.7 .5,1.5 .5-.4 .5-.5 .5,1 .5,1.3 .5-.3 .5-1.5 .5,.8 .5,.4 .5,.5 .5-1.2 .5-1.1 .5,2 .5-1.5 .5,.8 .5,.1 .5,1.5 .5-1.6 .5,.8 .5-.4 .5-.4 .5,1.8 .5-1.6 .5,1.2 .5-.2 .5-2.5 .5,.3 .5-.3 .5,2.7 .5,0 .5-.9 .5,.1 .5,.2 .5-.3 .5,.8 .5,0 .5-1 .5,2.9 .5-.5 .5-1.6 .5,2.8 .5,.1 .5-.8 .5,0 .5-2.1 .5,.4 .5-1.5 .5,1.4 .5,1.8 .5-1.7 .5-1.4 .5,4 .5,.4 .5-.5 .5-3.6 .5,2.9 .5-1.9 .5,.9 .5,1 .5,1.1 .5-2.6 .5,.4 .5-1 .5,1.5 .5-1.1 .5,.6 .5,1.6 .5-.9 .5,.3 .5,.2 .5,.7 .5,.7 .5-3 .5-.5 .5,2.7 .5,.2 .5,.9 .5-.6 .5,1.2 .5-1.5 .5-1.3 .5,2.1 .5-2.3 .5,.3 .5,1.4 .5-.7 .5,1.5 .5-1.5 .5,2.7 .5-3.4 .5,2.2 .5-1.4 .5,2.3 .5-2.3 .5,1.7 .5-3.2 .5,1.5 .5,2.9 .5-1.6 .5-.1 .5,1 .5,1.3 .5-3.5 .5,1.3 .5-.4 .5,1.4 .5-1.6 .5-1 .5,.2 .5,2.7 .5-.5 .5,.8 .5-2.9 .5,.9 .5,.5 .5,1.8 .5-.4 .5-.7 .5-.9 .5,1.5 .5-.8 .5,1.7 .5,1.1 .5-1.9 .5-1.4 .5,3.7 .5-1.4 .5-.1 .5-.4 .5,.1 .5,0 .5,.3 .5-2.1 .5,1 .5,.8 .5,.4 .5,.1 .5,.4 .5-2.7 .5,1.1 .5,.4 .5,1.1 .5-.4 .5,2.6 .5-2.7 .5,.3 .5-1.6 .5,4.2 .5-2.1 .5-.1 .5-.6 .5,.9 .5-.4 .5,1.9 .5-2.4 .5,.6 .5-.1 .5,1.4 .5-.2 .5,.8 .5-.5 .5,.1 .5-.5 .5,1 .5-.4 .5-.1 .5-2.3 .5,1.4 .5-.2 .5-1.3 .5,3.8 .5,.2 .5-.4 .5-.5 .5,1.1 .5-3.7 .5,3.6 .5-3.8 .5,2.5 .5,0 .5,.6 .5,.2 .5,.1 .5-1.6 .5,0 .5-.1 .5,1.2 .5-.5 .5-1.4 .5,3.1 .5-2.5 .5,.8 .5-.2 .5,0 .5,1.7 .5-1.5 .5-.8 .5,.9 .5-.4 .5-.5 .5,3 .5,.3 .5-3 .5,3.6 .5,.4 .5-3.8 .5,2.2 .5-.8 .5,1.4 .5-3.2 .5,3.1 .5-1.2 .5,1.1 .5,.5 .5-3.3 .5,2.3 .5,.1 .5,.8 .5,.7 .5-.4 .5-1.8 .5,1.8 .5-1.7 .5,1.9 .5-1.1 .5,0 .5,.5 .5-2.1 .5,1.6 .5-1 .5,2.6 .5,.5 .5-3.3 .5-.5 .5,2.6 .5-.9 .5-.4 .5,3.5 .5-2.8 .5-.7 .5,1 .5,.7 .5,1.6 .5-1.5 .5-1.8 .5,.9 .5,2.9 .5-4.3 .5,2.1 .5,1.5 .5-1.1 .5-.5 .5-.8 .5,1.3 .5,.5 .5-.3 .5,1 .5-1 .5,1.4 .5-1.4 .5,1 .5-1.5 .5,2.5 .5-.5 .5-.7 .5-2 .5,1.5 .5-2.5 .5,1.9 .5,.6 .5-1.2 .5,1.3 .5,.6 .5,1.4 .5-2.1 .5-1.9 .5-.4 .5,2.1 .5,1.3 .5,.3 .5-1.2 .5-.9 .5,0 .5,.6 .5,.3 .5,.7 .5-.6 .5,2.2 .5-2.1 .5,.4 .5,.7 .5-.1 .5-1.8 .5-1.2 .5,.4 .5,2.1 .5,.3 .5-.3 .5,.6 .5,.7 .5-2.5 .5,3.3 .5,0 .5-1.3 .5-1 .5,.5 .5-1.9 .5,1.8 .5-1 .5,.9 .5-.2 .5,2.7 .5-3.2 .5,1.4 .5-.8 .5,2.5 .5-.6 .5-3.1 .5,.7 .5,1.6 .5-1 .5,1.3 .5-.4 .5-1.3 .5,1 .5,1 .5-.7 .5,.3 .5,.4 .5-.6 .5,1.8 .5-3.1 .5,2.2 .5-1.2 .5,1.1 .5,.6 .5-.2 .5,.1 .5,.1 .5-.3 .5-.9 .5,1.2 .5,.3 .5-.1 .5-.7 .5,0 .5-2.7 .5,1.4 .5,.8 .5,1.4 .5,.3 .5-1.3 .5-1.5 .5,2 .5,.6 .5-.3 .5-1.7 .5-.5 .5,.2 .5-.2 .5,2.5 .5-.8 .5,1.9 .5-.3 .5-.7 .5-2 .5,1.6 .5-.3 .5-2.2 .5,.2 .5,.6 .5,2.4 .5-1.9 .5-1.2 .5,1.7 .5,.7 .5-2.2 .5,3.7 .5-3.1 .5,2.1 .5-.4 .5-1.7 .5,.7 .5,.2 .5-.4 .5,1.3 .5-.8 .5-2.2 .5,2.2 .5-1.5 .5,1.1 .5,.6 .5-.4 .5,1.3 .5-1.3 .5-.5 .5,2.6 .5-1.1 .5-1.1 .5,.2 .5-.6 .5,.5 .5-1.3 .5,3.2 .5-.8 .5-3.9 .5,.9 .5,1 .5-.9 .5-1.8 .5,3 .5-2.5 .5,2 .5-.5 .5,1 .5-3.2 .5,3 .5-4.2 .5,2.8 .5-1.1 .5-1.4 .5-2.5 .5,2.5 .5-1.8 .5-3.9 .5-1.3 .5,.2 .5-1.8 .5,.2 .5-2.5 .5-1.7 .5-3.5 .5-1.1 .5-4.9 .5-4 .5-2.8 .5,.9 .5-3.3 .5-3 .5-.5 .5-.4 .5,.4 .5-4 .5,.9 .5,.5 .5-1.3 .5-.4 .5,.3 .5-4.2 .5-.6 .5,1.2 .5-.3 .5-2.4 .7-1.8 .3-.4 .5,3.6 .5,1.1 .5-.2 .5,2.1 .5,.9 .5,3.4 .5,.5 .5,3.2 .5,2.9 .5,2.7 .5,4.2 .5,2.7 .5,3.2 .5,0 .5,3.6 .5,3.5 .5,.5 .5,.4 .5,2.5 .5,3.4 .5-1.4 .5,.8 .5,2.8 .5-.6 .5-.5 .5,.8 .5,2.6 .5-.1 .5,3 .5-2.1 .5-.7 .5,1 .5-.3 .5,3.1 .5-2.2 .5,2.9 .5-1 .5,1.7 .5-2.2 .5,1.3 .5-3.3 .5,2 .5-.2 .5,2.5 .5-1.4 .5,1.1 .5-1.5 .5-.5 .5,1.6 .5,1.9 .5-1.5 .5,2.1 .5-2.1 .5,.1 .5,.2 .5,.2 .5-.3 .5,.7 .5-.6 .5-.1 .5,3.3 .5-.7 .5-1.3 .5-.2 .5-1 .5,2.7 .5-1.4 .5,3.1 .5-4.1 .5,2.6 .5,1.2 .5-2 .5,3 .5-.9 .5,.1 .5-2.1 .5,2.4 .5,.1 .5-1 .5,2.1 .5-1.6 .5-2.7 .5,2.9 .5,1.8 .5-2.7 .5,1.7 .5-1.6 .5,.9 .5-2.3 .5,.3 .5,1.9 .5-.2 .5-1.5 .5,3.2 .5-.3 .5-1.4 .5-1.3 .5,3.2 .5-1.2 .5,1.6 .5,.6 .5-1.8 .5,.3 .5,1.3 .5-1.2 .5-2 .5,3.2 .5-.3 .5-1 .5,1.4 .5-1 .5,.1 .5,1.5 .5-2.6 .5-.2 .5,1.9 .5-1.4 .5,2.8 .5-1.9 .5-1.1 .5,1.7 .5-1.8 .5,4.1 .5-1.6 .5,.9 .5-.1 .5-.3 .5-1.5 .5,2.4 .5-1.3 .5-.5 .5-1.3 .5,3.9 .5-1.7 .5-.2 .5-1.7 .5,3.5 .5-1.2 .5,1.4 .5-1.2 .5-.9 .5,1.8 .5-2.6 .5,.1 .5,1.8 .5,1.1 .5,.5 .5-1.4 .5,0 .5,.5 .5-.5 .5-.3 .5,1.3 .5-1.2 .5,.5 .5,1.7 .5-1.1 .5-.8 .5,1.5 .5-1 .5,1.1 .5-1.8 .5,.2 .5-.8 .5,3.2 .5,.4 .5-.2 .5-1 .5-.1 .5-.5 .5,1.1 .5-.9 .5-1 .5,2.5 .5,0 .5-.4 .5-.7 .5-.3 .5,.6 .5,.2 .5-1.6 .5,.9 .5-.7 .5,2.7 .5-3 .5,.2 .5,.5 .5,1.3 .5-1.3 .5,3.3 .5-1.2 .5-3.2 .5,2.6 .5,.2 .5-1.9 .5,1.5 .5,.2 .5-.8 .5,.6 .5,.6 .5-1 .5,.6 .5-1.4 .5,2.2 .5-1.5 .5,2.3 .5,.8 .5-.2 .5-2.6 .5,1.1 .5-.8 .5,.8 .5-1.5 .5-.2 .5,1.1 .5-.9 .5,2.5 .5-.6 .5-.5 .5-.6 .5,0 .5,1.4 .5-1.1 .5-.1 .5,2.2 .5-2 .5-.5 .5,0 .5,1.8 .5-2.1 .5,0 .5,1.9 .5,.1 .5,.3 .5-2.7 .5,1.5 .5-1.2 .5,1.2 .5-2.4 .5,1.7 .5,1.5 .5-1.1 .5-2.5 .5,3.5 .5-.8 .5-.7 .5,.3 .5-.4 .5,1.8 .5-1.4 .5-1.9 .5,.9 .5,3 .5-.6 .5-.4 .5-2 .5,1.7 .5,.5 .5-1.1 .5,.8 .5,.5 .5-.1 .5-.7 .5,0 .5-2.1 .5,1.2 .5,1.3 .5,1.1 .5-1.9 .5,1.1 .5-1.3 .5-1.1 .5,1.6 .5,.1 .5-1.7 .5,.1 .5,1.1 .5-.7 .5,1.2 .5-2.2 .5,2.6 .5-1.7 .5,1.1 .5-2.3 .5,3 .5-.8 .5,2 .5-4.3 .5-.2 .5,3.1 .5,.2 .5-3.2 .5,2.8 .5,.4 .5,.6 .5-1.5 .5-2 .5-.5 .5,4.6 .5-1.8 .5,.7 .5-1.6 .5,.1 .5,.1 .5-.9 .5,.8 .5-1 .5,.8 .5,1.9 .5-1.3 .5-.9 .5,2.9 .5-.5 .5-1.5 .5-2.2 .5,3.7 .5,0 .5-2.3 .5,2.4 .5-2.7 .5,.7 .5-.2 .5,.7 .5-.4 .5,1.9 .5-2.1 .5,.9 .5-.5 .5,.3 .5-1.3 .5,.9 .5,1.7 .5-.7 .5-2.4 .5,.9 .5-.7 .5,.3 .5,.1 .5-.7 .5,2 .5,.5 .5-.9 .5-.8 .5,.7 .5-1.1 .5,2.2 .5,1 .5-4.7 .5,2.8 .5-.4 .5,.1 .5-.5 .5-1.5 .5,1.6 .5-.4 .5,.3 .5,.1 .5-.6 .5,2.9 .5-3.8 .5,1 .5-1.1 .5,1.3 .5,2.1 .5-2 .5-1 .5-.6 .5,2.2 .5-1.5 .5,1.6 .5-1.7 .5,.2 .5,.5 .5-1.9 .5,3.4 .5-2.9 .5,1.6 .5,.3 .5,1.7 .5-1.7 .5,.4 .5-1.7 .5,.4 .5,.1 .5,1.3 .5-2.5 .5,1.6 .5,1.8 .5-3.5 .5-1.1 .5,1.6 .5,.4 .5,2.2 .5-1.5 .5,.8 .5-2.3 .5,.8 .5,.3 .5-1.4 .5,1.4 .5-.8 .5,.6 .5-2 .5-.7 .5,4 .5-1.6 .5-.2 .5,2.3 .5-1.1 .5-.7 .5-1.4 .5,1.2 .5-.2 .5-.6 .5,2 .5-.8 .5-.3 .5-1.7 .5,.1 .5,2.1 .5-1.1 .5-1 .5,1 .5-.4 .5-.6 .5,.3 .5,1 .5-.6 .5-1.5 .5,.1 .5,1.2 .5-1.7 .5,1.3 .5-.4 .5-1.4 .5-.9 .5,1.2 .5,.9 .5,0 .5,1.4 .5-1.6 .5-.2 .5,.5 .5-1.1 .5,2.5 .5-2.8 .5-.5 .5,.4 .5,1.9 .5-2.2 .5-.3 .5,1.5 .5,.6 .5-2 .5,1.3 .5-1.7 .5,2.3 .5-3 .5,.9 .5-.3 .5-.7 .5,.9 .5,.9 .5-1.9 .5,3.2 .5-2.1 .5,0 .5-1.4 .5,.8 .5,1.1 .5-2.4 .5,.3 .5-.2 .5-.6 .5,2.2 .5-1.8 .5,2.9 .5-3.5 .5,1 .5,.4 .5-1.3 .5-1.1 .5,1.5 .5,.7 .5-1.2 .5,1.4 .5-2.5 .5,2.5 .5,1.9 .5-1.1 .5,0 .5-1.6 .5-.1 .5,1.8 .5-1.7 .5,1.1 .5-1.9 .5,1.6 .5-.3 .5-2.5 .5,2.2 .5,.8 .5-.1 .5-.2 .5,1.1 .5-1.6 .5-.9 .5,2 .5,1.2 .5-2.7 .5,2.3 .5-2.1 .5-1.6 .5,.7 .5,.1 .5,2.4 .5-1.3 .5-.8 .5,.8 .5,1.5 .5-1.8 .5-.7 .5,1.2 .5-1.4 .5,1.6 .5,.6 .5-1 .5-.8 .5,.6 .5-1.9 .5,3.6 .5,.4 .5-2.4 .5-2.3 .5,1.4 .5-1 .5-.6 .5,2.1 .5-.1 .5-.7 .5,2.1 .5-1.4 .5-1.3 .5,1.6 .5-2.1 .5,1.1 .5-.7 .5,1.3 .5-.8 .5-.4 .5,.9 .5,.2 .5-.3 .5,.9 .5-2.6 .5,1.6 .5,1.5 .5-2.1 .5-2.3 .5,3.4 .5-1.5 .5,.9 .5-.5 .5,.4 .5,.7 .5-1.4 .5,.7 .5-2.5 .5,.4 .5,.9 .5,2 .5-2.9 .5,.6 .5,1.2 .5-1.5 .5-.9 .5-.8 .5,3.2 .5-2.3 .5,1.8 .5,.2 .5-1.8 .5,1.8 .5-2.9 .5,2.2 .5-1.1 .5,1.5 .5,0 .5,0 .5,.5 .5-1.5 .5-.9 .5,.3 .5,2.7 .5-2.5 .5,.9 .5,.9 .5-.6 .5-1 .5-1.1 .5,3.5 .5-1.8 .5-1.3 .5,1.2 .5,.9 .5-2.3 .5,2.4 .5-.1 .5,.6 .5-.5 .5-1.2 .5-.8 .5,1.8 .5-.4 .5,2.5 .5-2.2 .5,.9 .5-.4 .5-2.2 .5,3.1 .5-1.5 .5-1.2 .5,2.3 .5,1 .5-1.6 .5-.2 .5-.4 .5,.2 .5,1.9 .5-1.2 .5,.4 .5,.2 .5-3 .5,2.5 .5,.4 .5-.5 .5-2.1 .5,.8 .5,1.6 .5-.4 .5-.2 .5-2 .5,1.5 .5,1.2 .5-1.9 .5,1.4 .5-.8 .5-.3 .5-2.1 .5-.2 .5-.3 .5,1.9 .5-.2 .5-3.2 .5-.7 .5,1.1 .5,.8 .5-1.9 .5-.2 .5-1 .5-.7 .5-1.7 .5-.2 .5-.7 .5-2 .5,1.1 .5-4.6 .5-.7 .5-2.3 .5,.3 .5-2.2 .5-4.6 .5-2 .5-5.5 .5-5.6 .5-1 .5,.4 .5-.8 .5-2.5 .5-.2 .5,0 .5-.3 .5-2.2 .5-2.4 .5-1.9 .5,.9 .5-1.4 .5-1.4 .7-.7 .3,.3 .5,2.4 .5,2.2 .5-.2 .5,4.7 .5,1.1 .5-.5 .5,2.3 .5,3 .5-1 .5,2.8 .5,2.7 .5,2.3 .5,4.6 .5,1.5 .5,3 .5,2.6 .5,2 .5,4.1 .5-.5 .5,.3 .5,.4 .5,1.8 .5,1.9 .5,.9 .5,.9 .5-.1 .5,1.7 .5,.6 .5-1.4 .5,2.4 .5,.5 .5-.4 .5,2 .5-.8 .5-.7 .5,2.3 .5,1.3 .5-3.2 .5,1.6 .5,1.4 .5-.1 .5,.7 .5,.6 .5-3.5 .5,3.2 .5-2.6 .5,1 .5,0 .5,2 .5-2.3 .5,2.2 .5-1.7 .5,4.2 .5-2.7 .5,.7 .5-1.2 .5,.9 .5,2.4 .5-1.2 .5-1.5 .5,1 .5,.5 .5,2.5 .5-2.1 .5,.8 .5,.9 .5,1.2 .5-1.4 .5-1.9 .5,.3 .5,3.3 .5-1.4 .5-2.6 .5,1.8 .5,.2 .5,.3 .5,1.3 .5,.1 .5,1 .5-3.7 .5,2.7 .5-.5 .5-.9 .5,2.4 .5-2.5 .5,.1 .5,3.7 .5-1.3 .5,.6 .5,.7 .5-3 .5,3.3 .5-1.4 .5,.6 .5,.4 .5-.1 .5-1.1 .5,.5 .5,.3 .5,1.2 .5-3.5 .5,4 .5-2.7 .5,3.5 .5-1.7 .5,1.6 .5-2.3 .5,2.4 .5-1.6 .5,.1 .5,.1 .5-2.8 .5,.6 .5-.1 .5,2.1 .5-.3 .5,1.3 .5-.5 .5,1.2 .5-2.3 .5,1.4 .5-.9 .5-.7 .5-.6 .5,2.2 .5-.8 .5,.8 .5-.1 .5,.4 .5,4.2 .5-1.7 .5-1 .5,2 .5,.9" fill="none" stroke="#548235" stroke-width="9.7" stroke-linejoin="round" stroke-linecap="round" clip-path="url(#cl)"/>
<path d="M160.0,804.2l.5,3.4 .5-2.1 .5,2.1 .5-.9 .5-.1 .5,3.7 .5-2.8 .5-.8 .5,1.5 .5-.2 .5,2.8 .5-.5 .5-1.6 .5,3.8 .5-2.1 .5-1 .5,3.2 .5-.2 .5-1.8 .5,.2 .5,1.4 .5-.3 .5,1.7 .5-.1 .5-1.5 .5,.4 .5,1.2 .5,2.2 .5-2.2 .5,1.8 .5-1.3 .5,1.5 .5-1 .5,1.4 .5-1.3 .5,.3 .5,3.5 .5-1 .5-2.5 .5,3.2 .5-1.4 .5,2 .5-3.1 .5,1.7 .5-.2 .5-.1 .5-.4 .5,4 .5-2.2 .5-.2 .5-1.4 .5,3.5 .5,.2 .5-1.4 .5-1.3 .5,2.6 .5-.6 .5-1.6 .5,4.4 .5-1.4 .5-1.9 .5,.4 .5,2.1 .5,.7 .5-.6 .5,.1 .5-1 .5,3 .5-2.5 .5,.7 .5,.4 .5-.7 .5,1.5 .5,1.1 .5-4.1 .5,2.2 .5,1.9 .5,.4 .5-2.2 .5,1.5 .5-.4 .5,.1 .5-.8 .5,2.1 .5,.4 .5,.6 .5-1.5 .5,0 .5,1.4 .5,1 .5-2.4 .5,.3 .5,2.4 .5-3.4 .5-.8 .5,3.7 .5,.6 .5,.1 .5-.3 .5,.3 .5-2.1 .5,2.3 .5-2.4 .5-.6 .5,1.8 .5-1.2 .5,.4 .5,.6 .5,.4 .5,.8 .5-1.3 .5,.6 .5,.7 .5,.5 .5,.4 .5,.5 .5-.6 .5,.4 .5,.3 .5-.7 .5,.3 .5-1.2 .5,1.4 .5,1 .5-1.9 .5,2.4 .5-2.2 .5,2 .5,.8 .5-1.7 .5-.8 .5,1.1 .5-1 .5-.6 .5,2.4 .5-3.6 .5,3.5 .5-2 .5,2.1 .5-1.8 .5,2.9 .5-2.8 .5-1.7 .5,4.6 .5-2.2 .5-.2 .5,.2 .5-.4 .5,.8 .5-1.2 .5,3.2 .5-3.1 .5,1.6 .5,.9 .5-1.9 .5,1.3 .5-1.7 .5-.5 .5,.3 .5,2.3 .5-.1 .5-2.3 .5,2.3 .5-2.3 .5,1.3 .5,.7 .5-3.2 .5,3.1 .5-1.1 .5-1.4 .5,2.6 .5-.5 .5,.1 .5-.8 .5-.4 .5-.8 .5,1.3 .5-1 .5,.7 .5,1.1 .5,.5 .5-.5 .5-.2 .5-.7 .5,1.5 .5,.2 .5-2 .5,0 .5-.7 .5,.8 .5-.2 .5,2.8 .5-.8 .5-3.3 .5,2.5 .5-1.3 .5-1.9 .5,2.3 .5-1.2 .5,1.1 .5,.2 .5-1.6 .5,2.5 .5-1.7 .5-1.3 .5-1.1 .5,4.2 .5-3.4 .5,.9 .5,.2 .5,.6 .5-2.9 .5-.7 .5,2.2 .5-2.1 .5,1.4 .5,2.5 .5-3.2 .5,1.4 .5-2.3 .5,3.6 .5-3 .5,.8 .5-.8 .5-.7 .5,1.9 .5-1.7 .5-1 .5,.4 .5,.1 .5,.3 .5-.1 .5-1.3 .5,.3 .5,2.8 .5-2.8 .5,1.8 .5-2.4 .5,.8 .5-1.4 .5-1.6 .5,1.4 .5,1.5 .5,.3 .5-.4 .5-2.2 .5,.1 .5-1.2 .5,1.5 .5,.5 .5-1 .5-1.4 .5,1.2 .5-.6 .5,.3 .5-1.1 .5,.3 .5-1.4 .5-.4 .5-1.4 .5,2.2 .5-.3 .5-1.6 .5,2.8 .5-.6 .5,.3 .5-2.5 .5-.4 .5,.5 .5,.4 .5,.5 .5-3.3 .5,.7 .5-2.3 .5,1.6 .5,1.1 .5-.5 .5,1.2 .5-1.8 .5-1.7 .5-.7 .5,1 .5,1.4 .5-3.9 .5,0 .5,1 .5-.9 .5,1.2 .5-2.1 .5,.3 .5-.5 .5-.1 .5,1.1 .5-3.7 .5-1 .5-.1 .5,1.1 .5,0 .5,.1 .5-.7 .5-.7 .5-2.8 .5,1 .5,.8 .5-2.5 .5,.5 .5-.4 .5,.6 .5-2.1 .5-1.5 .5,1.1 .5-.4 .5,.9 .5-2.3 .5,0 .5-.9 .5-.4 .5,2.4 .5-5.1 .5,2.5 .5-2.2 .5,.5 .5-2.4 .5,1.6 .5-1.8 .5,1.2 .5,.5 .5-3.7 .5-.9 .5,2.8 .5,.5 .5-2.9 .5-2.7 .5-.2 .5,2.6 .5,.5 .5-2.9 .5-2 .5,2.6 .5-3.6 .5,.3 .5-.5 .5-.6 .5,.9 .5-2.3 .5,.8 .5,.6 .5-.6 .5-.2 .5-2.7 .5-2.2 .5,1.8 .5-.5 .5-.5 .5-1.4 .5,.5 .5-2.4 .5,1.7 .5,.6 .5-2.6 .5-.6 .5,.1 .5-.7 .5-.5 .5-1 .5-1.2 .5,1.7 .5-3.9 .5,2.2 .5-3 .5,1.1 .5-2.3 .5-1.3 .5,.1 .5-.5 .5,2.3 .5-3 .5-.6 .5-.9 .5,.6 .5-.5 .5,.1 .5-2 .5-1.2 .5,.9 .5,.6 .5-.7 .5-2.7 .5,.1 .5,.5 .5-1.7 .5-1.5 .5,1.4 .5-1.2 .5,.3 .5,.1 .5-2.1 .5-1.4 .5,0 .5,1.3 .5-1.3 .5,.3 .5-1.9 .5,.8 .5-2 .5-.8 .5,.3 .5-.7 .5-.6 .5-.2 .5,.6 .5-2.5 .5-1.9 .5,2.1 .5,1.3 .5-1.5 .5-3.3 .5,1.5 .5,.3 .5-.8 .5,.6 .5-1.7 .5-3.8 .5,2.5 .5-2.2 .5-.7 .5-1.5 .5,0 .5,.6 .5,1.3 .5-.5 .5-1 .5,.1 .5-2.5 .5-1 .5,2.8 .5-2.2 .5-1.5 .5,.8 .5-2.3 .5,2.3 .5-4 .5,.4 .5-.1 .5-.5 .5-1.8 .5,2.1 .5-.8 .5-1.2 .5,.1 .5-1.8 .5,1.3 .5-2.4 .5-1.1 .5,.6 .5-.5 .5,.1 .5-.1 .5,.8 .5-4.2 .5-.8 .5,1.8 .5,.7 .5-.8 .5-1.9 .5-.7 .5-.5 .5,2 .5-2.9 .5,.2 .5-2.4 .5,2.1 .5-1.8 .5-.6 .5-.5 .5-.3 .5,1.9 .5-2 .5-.4 .5-2.2 .5-1.3 .5-1.1 .5,1.1 .5,.4 .5-.4 .5-2.5 .5,2 .5-1.9 .5,1.5 .5-2.1 .5-.2 .5-1.4 .5-.5 .5,.4 .5,.2 .5-.4 .5-2.2 .5-1.2 .5,1.6 .5,.5 .5-2.7 .5-.4 .5-.5 .5,.4 .5,.3 .5-2.8 .5,1.2 .5,.7 .5-1.5 .5-2.2 .5-1.3 .5,1.3 .5,1.2 .5-1.2 .5,.3 .5-2.6 .5,0 .5-1.5 .5,1.2 .5-1.4 .5-1.2 .5,.1 .5,.7 .5-.1 .5-.5 .5,.8 .5-1.7 .5-2.5 .5,2 .5-2.7 .5-.7 .5,1.8 .5-2 .5,.4 .5-1 .5,0 .5-2.3 .5,2.8 .5,0 .5-2.1 .5,1.4 .5-.9 .5,0 .5,0 .5-3.6 .5,2 .5-1.5 .5,.7 .5-1.6 .5,2.1 .5-.5 .5-2.4 .5,.2 .5-.6 .5-.3 .5,.4 .5-2.6 .5-.9 .5,2.7 .5-1.3 .5-1.3 .5-.6 .5-1.3 .5,1.2 .5-2.1 .5,1.9 .5-.1 .5-1.5 .5,1.7 .5-.6 .5-.9 .5-1.4 .5-.2 .5-.6 .5-1.5 .5,2.1 .5,.6 .5-2.9 .5,2 .5-1 .5,.2 .5,.5 .5,.1 .5-2.2 .5,1.6 .5-1.6 .5-2.1 .5,4.4 .5-2.4 .5-.6 .5,1.8 .5-1.3 .5-1.4 .5,.7 .5,0 .5-.9 .5-2.2 .5,2.3 .5-1.5 .5-.3 .5,1.1 .5,2 .5-3.9 .5,1.7 .5-2.4 .5-.3 .5,1.3 .5,1.4 .5-.9 .5-.2 .5,1 .5-1 .5-1.5 .5-.5 .5,.6 .5,.7 .5-1 .5,0 .5-.5 .5-.4 .5-.6 .5,.4 .5,3 .5-.9 .5,.3 .5-1.6 .5-.3 .5,1 .5-1.4 .5,1.8 .5-1.3 .5,.8 .5-1.9 .5,3.1 .5-1.9 .5,.5 .5-1.7 .5,.1 .5,1.7 .5-2.8 .5,3.5 .5-2.1 .5,1.9 .5-1.9 .5,.8 .5,.2 .5,1.1 .5-2.1 .5,1.7 .5-.2 .5,.7 .5-1.9 .5,1.1 .5-.8 .5,.5 .5,1.9 .5,.2 .5-2.5 .5,1.1 .5,.2 .5-1 .5,.8 .5-.7 .5,2.1 .5-1.7 .5,2.9 .5-3.9 .5,3.2 .5,.1 .5-1.4 .5-1.1 .5,2.4 .5-1.6 .5,2.9 .5-1 .5-.1 .5,.3 .5,.9 .5-.8 .5,.8 .5-.1 .5-.9 .5,2.1 .5,.7 .5-.4 .5-1.1 .5,.8 .5-1.9 .5,.4 .5,.1 .5,.5 .5,1.9 .5-1.8 .5,.4 .5-.9 .5,1.2 .5-1 .5,3.3 .5-1.1 .5,1.5 .5,.7 .5-.8 .5,0 .5,0 .5-.4 .5-1.6 .5,2.8 .5-.9 .5-.1 .5,.7 .5,1 .5,1.1 .5-1.8 .5-.1 .5,3.1 .5-.4 .5,.5 .5-1 .5-1.1 .5,3.5 .5,.2 .5-2 .5,1.5 .5,1.1 .5,1.3 .5-.6 .5-.6 .5-.6 .5,0 .5,.7 .5-.4 .5,1.8 .5-.4 .5-.1 .5-.7 .5,1.6 .5-.3 .5,1.2 .5-1.4 .5,2.2 .5-.7 .5,2.7 .5-2.9 .5,3.5 .5,.2 .5-2 .5,2.6 .5-.7 .5-2.5 .5,1.1 .5,2.2 .5-.6 .5,1 .5-.3 .5,1.6 .5-1.8 .5-.6 .5,.7 .5,1.1 .5-.7 .5,1.4 .5,.1 .5,.2 .5,.7 .5-.1 .5,2 .5-.7 .5,1.2 .5-2.3 .5,2.1 .5-.2 .5-1.3 .5,4.9 .5-3.3 .5,3 .5,.3 .5,1 .5-1.5 .5-1.4 .5,3.7 .5-.4 .5,1.5 .5-.5 .5,2.3 .5-.3 .5-.5 .5,3.3 .5-2.3 .5-1.1 .5,3.2 .5,1.1 .5,.8 .5-.6 .5,1.3 .5-.2 .5,1.2 .5,2.1 .5-.6 .5,2.3 .5-.4 .5,1.3 .5,.3 .5,2.7 .5-.4 .5-.1 .5,2 .5,2.3 .5,0 .5-.4 .5,1.6 .5,.9 .5,4.2 .5,0 .5,2.3 .5,1.4 .5,.1 .5,3.3 .5,.1 .5,2.1 .5-1.1 .5,3.9 .5,1.3 .5,1.2 .5,2.9 .5-.1 .5,2.9 .5-.4 .5,3.8 .5,1.1 .5,4.5 .5-.2 .5,2.1 .5-1.4 .5,3.4 .5,.6 .5,4.5 .5,1.1 .5,.5 .5,1.5 .5,1.5 .5,1.3 .5,2.4 .5,1.4 .5,.7 .5,.8 .5,4.3 .5-.9 .5,1.2 .5,4.7 .5-.7 .5,1.3 .5,0 .5,1.9 .5,4.4 .5-.5 .5,3.2 .5-1.1 .5,3.7 .5,.7 .5,.8 .5-.2 .5,5.2 .5,0 .5,1.3 .5,2.5 .5-.8 .5,4.3 .5,.7 .5,1.2 .5,1.5 .5-.1 .5,2 .5,2.1 .5,.3 .5,3.6 .5,.8 .5,2.1 .5-2.1 .5,5 .5-1.1 .5,1 .5,1.9 .5,3.4 .5,.2 .5,1.2 .5,2 .5,1.4 .5,1.4 .5,1 .5,.5 .5,1.5 .5-.9 .5,2.7 .5-1 .5,3.5 .5,1.5 .5,.2 .5,1.5 .5,3.1 .5-.5 .5,1.7 .5,3.3 .5-.6 .5,1.8 .5,.6 .5,1.2 .5,1.8 .5-.5 .5,2.2 .5-.4 .5,1.1 .5,2.2 .5-.4 .5-.7 .5,3.1 .5,2.8 .5-1.8 .5,2.9 .5-.2 .5-.4 .5,2.3 .5-1 .5,4.7 .5-1 .5,1.8 .5,.4 .5-.9 .5,2.1 .5,2.8 .5,.3 .5-.5 .5,.4 .5,1.5 .5-.6 .5,2.6 .5-1.5 .5,1.8 .5,2.6 .5-.2 .5-.1 .5,1.7 .5,.2 .5,1.4 .5,1.6 .5-.7 .5-1.2 .5,3.2 .5-.8 .5,3 .5,.5 .5-.5 .5,1.2 .5-1.6 .5,.3 .5,2.3 .5,1.4 .5,1.8 .5-1.7 .5,.3 .5,.7 .5,.7 .5,1.7 .5-1.2 .5,3.1 .5-1.8 .5,4.5 .5-1.9 .5,.9 .5-1.5 .5,2.9 .5-2 .5,3.9 .5-1.2 .5,1.7 .5,.9 .5,1.1 .5,1.1 .5,.3 .5,.2 .5-1 .5,0 .5,2.8 .5,.1 .5-.4 .5,1.2 .5,1.8 .5,.6 .5-1.2 .5-.2 .5-.1 .5,2.3 .5,.8 .5-.6 .5,3.5 .5,1.6 .5-2.5 .5,2.4 .5-.4 .5,1.4 .5,.1 .5,.3 .5,1.9 .5,.3 .5-.7 .5,1.6 .5-.7 .5,1.3 .5,1.4 .5,.4 .5-1.8 .5,3.1 .5-1.6 .5,2.3 .5,1.1 .5-2 .5,1 .5,2.8 .5,0 .5-2.2 .5,4 .5-1.3 .5-.2 .5,2.2 .5-.5 .5,1.3 .5,.7 .5,2.5 .5-.7 .5-.3 .5,.2 .5,.8 .5,.6 .5-.9 .5,1.8 .5-1 .5,.6 .5,1 .5,1.7 .5,.2 .5-2.8 .5,4.1 .5-.9 .5,.4 .5,2 .5-2.1 .5,0 .5-.7 .5,1.3 .5,2.7 .5-1.5 .5,.1 .5,2.1 .5-1.3 .5,.7 .5,.3 .5,1.8 .5-1 .5,.6 .5,.7 .5-1.6 .5,2.3 .5-1.5 .5,1.1 .5,1.2 .5,1 .5-.1 .5,1.9 .5-.8 .5,.9 .5-.9 .5,.2 .5,3 .5-3.5 .5,3.6 .5-1.9 .5,2 .5-2 .5,2.5 .5,.1 .5-2.3 .5,1.8 .5,1.9 .5,.7 .5-.5 .5-.7 .5,1 .5-1.2 .5,.7 .5,1.8 .5,0 .5,1.2 .5-.3 .5,.8 .5-.5 .5,1.2 .5,1.9 .5-3.2 .5,1.7 .5-.4 .5,1.4 .5,.3 .5-1.2 .5,1.4 .5,.4 .5-.1 .5,.8 .5,1.6 .5-.6 .5-.7 .5,.9 .5,2.3 .5-2.8 .5,2.4 .5-1.8 .5-.8 .5,1.3 .5,1.5 .5-.4 .5-.3 .5,.2 .5,.1 .5,.1 .5,.9 .5-1.3 .5,3 .5,.1 .5,.1 .5,1.2 .5-1.5 .5,.9 .5-2 .5,2.8 .5-.5 .5,1.5 .5,.5 .5-1 .5-1 .5,2.1 .5,.9 .5,.3 .5-1.5 .5-.2 .5,1 .5-.7 .5-.8 .5,2.9 .5,.3 .5,.5 .5-1.6 .5,1.2 .5-1.1 .5-.1 .5,2.5 .5-2.5 .5,2 .5,2.9 .5-.7 .5-.4 .5,.2 .5-.8 .5-.2 .5,3.2 .5-2.3 .5-.3 .5,1.7 .5-.6 .5,1.8 .5-2.1 .5,0 .5,.7 .5,2.6 .5-.5 .5-.6 .5,0 .5,.5 .5-1.3 .5,2 .5-1 .5,1.1 .5,0 .5,.5 .5-.7 .5,1.9 .5-.4 .5-1.1 .5,1.6 .5-.7 .5,1.1 .5,.8 .5-1.3 .5,.7 .5,.4 .5,.2 .5,2.5 .5-1.7 .5-1.5 .5,1.7 .5-.5 .5,3.2 .5-2.8 .5-.4 .5,2.4 .5-1.2 .5,.4 .5,.4 .5-.3 .5,.6 .5-1.6 .5,2.4 .5,1.1 .5,1.7 .5-1.9 .5,1.1 .5-1.6 .5,2.8 .5,.8 .5-1.7 .5-.5 .5,.7 .5,1.9 .5-3 .5,3.1 .5-2.4 .5,.4 .5,1.5 .5,.6 .5,.6 .5,.7 .5-2.8 .5,1.6 .5,1 .5-.4 .5,1.2 .5-1.1 .5-.2 .5-1.8 .5,.3 .5,3.4 .5-2.1 .5,1.9 .5,.6 .5-.7 .5,1.5 .5-1.8 .5,1.6 .5-.6 .5-1.4 .5-.5 .5,2.3 .5,2.4 .5-.4 .5-.6 .5,.5 .5,.3 .5-1.2 .5,2 .5-1 .5-.8 .5,3.1 .5-1.4 .5-.7 .5,1.2 .5-2.2 .5,.1 .5,3.9 .5-1.4 .5-1.9 .5-.5 .5,1.9 .5-1 .5,3 .5-3.8 .5,3.9 .5-2.6 .5-.1 .5,1.6 .5-1.5 .5,.9 .5,.2 .5-1.6 .5,1 .5,1.9 .5-2.7 .5,.8 .5,.6 .5,2.3 .5,.1 .5,.7 .5-2.8 .5,2.2 .5-.6 .5-1.8 .5,2.2 .5-.5 .5-.7 .5-.4 .5-.6 .5,2.6 .5,0 .5-.8 .5-.1 .5-.2 .5,1.7 .5-.6 .5-2.3 .5,2.3 .5,.5 .5-1.2 .5,.2 .5-.1 .5,1.5 .5-1.2 .5,.5 .5,.2 .5,1.8 .5-3.7 .5,4.2 .5-3.8 .5,1.3 .5-.7 .5,1.1 .5,.5 .5,1.7 .5-.9 .5-2.2 .5,1 .5-.1 .5-.9 .5,1.5 .5-.4 .5-.9 .5-.3 .5,1.6 .5-1 .5,1.6 .5-.5 .5-2.5 .5-.9 .5,2.3 .5-.9 .5-.5 .5,.4 .5,2.5 .5-2 .5,2.5 .5-1.4 .5-3.1 .5,2.5 .5,1.2 .5-4 .5,.6 .5,1.3 .5-.6 .5,2.6 .5-3.1 .5,3 .5-3.8 .5,.6 .5,1.3 .5,.2 .5-.6 .5,1.7 .5,.2 .5,0 .5-2.5 .5,1.1 .5-1.5 .5,2 .5-4.1 .5,1.4 .5,.4 .5-.4 .5,2.4 .5-3.7 .5,.6 .5-.6 .5,1.2 .5-1.2 .5,2.1 .5-.2 .5-3.6 .5-.1 .5,3.1 .5-.7 .5-2.6 .5,1.7 .5-1.7 .5,2.3 .5-2.8 .5,.7 .5,1 .5-.7 .5,1 .5-1 .5-2.6 .5,1.9 .5-1.9 .5,2.8 .5-.1 .5-.8 .5,.6 .5-1.6 .5,.6 .5-1 .5-.3 .5-.3 .5-1 .5,1.5 .5-3.8 .5-.9 .5,.7 .5,2.5 .5-2.6 .5-1 .5-.5 .5,1.2 .5-1 .5,1.1 .5-2.3 .5,1 .5-2.7 .5,1.2 .5,1.1 .5-3.2 .5-.5 .5,.7 .5-3.1 .5-.1 .5-.9 .5,.2 .5-2.8 .5,2.4 .5-2.7 .5-1.6 .5-2.4 .5-2.2 .5-4.7 .5,1.1 .5-5.9 .5-1.7 .5-4.9 .5-3.2 .5-2.5 .5-2.9 .5-9.2 .5-11.5 .5-11.8 .5-16.1 .5-10.4 .5-10.5 .5-9.4 .5-11.2 .5-7.5 .5-12.2 .5-11.1 .5-11.4 .5-10.3 .5-8.2 .5-4 .5-6.1 .5-4.5 .5-7.6 .5-5.9 .5-8.4 .5-9.1 .5-4 .5-5.8 .5-3.4 .5-3.5 .5-4.1 .5-2 .5-4 .5-3.8 .5-4.7 .5-2.3 .5-5.1 .5,5.6 .5,3.7 .5,7.2 .5,1.5 .5,4.4 .5,5.2 .5,7.9 .5,3.5 .5,6.2 .5,12.3 .5,17.1 .5,14.7 .5,13.2 .5,17.1 .5,12.8 .5,17.9 .5,16.9 .5,16.8 .5,11.1 .5,12.6 .5,7.4 .5,7.4 .5,3.9 .5,1.5 .5,3.9 .5,2.3 .5,.8 .5,2.3 .5,2.6 .5,1.7 .5-.2 .5-1.3 .5,4.2 .5,2.3 .5-1.7 .5,0 .5,2.1 .5,.5 .5,1.3 .5-1.2 .5,3.3 .5-.4 .5-1.9 .5,3 .5-1 .5,1.4 .5,0 .5,0 .5,.6 .5-.7 .5-.1 .5,.7 .5,0 .5,.8 .5-.3 .5-2.2 .5,2.9 .5-1.2 .5,1 .5-.4 .5-.6 .5,.2 .5-2.6 .5,3.4 .5,.2 .5-1.8 .5-1.6 .5,1.2 .5-1.5 .5,2 .5-2.7 .5-1.2 .5,.1 .5-.2 .5,1.4 .5-1.2 .5,0 .5-1 .5,1.6 .5-1.9 .5,0 .5,1.2 .5-1.8 .5-1.3 .5,0 .5,1.3 .5-1.3 .5-1.7 .5,1.9 .5-3.5 .5-1.1 .5,.8 .5-1.6 .5,1.6 .5-.2 .5-.9 .5-.9 .5-1.1 .5,1.9 .5-4 .5,2.7 .5-1.2 .5-.9 .5,0 .5-2.9 .5,2.4 .5-1.1 .5,.1 .5-4.2 .5,2.1 .5-1.1 .5-2.7 .5,1.3 .5-.1 .5-1.6 .5,.9 .5-.4 .5-1.8 .5-.4 .5,.8 .5-2.6 .5,1.2 .5,.5 .5-2.1 .5,0 .5-1 .5,.5 .5-3.4 .5-.8 .5,.5 .5-.3 .5,1.4 .5-.1 .5-1.5 .5,.3 .5-2.6 .5-.6 .5-1.7 .5,2.7 .5-1.2 .5-1.1 .5-2 .5,0 .5,1.5 .5-.9 .5,1 .5-1.3 .5-1.3 .5-.8 .5,1.2 .5,1.7 .5,.1 .5-3.4 .5,1.3 .5-1.7 .5,1 .5-2.9 .5,1.4 .5-1.6 .5,3.7 .5-2.4 .5,.9 .5-.7 .5-1.8 .5,2.2 .5,.4 .5-1.1 .5,.3 .5,.6 .5-.8 .5-.9 .5-1.8 .5,.8 .5,.1 .5,1.8 .5,.7 .5-1.6 .5,1.2 .5-3.5 .5,2.7 .5-1.8 .5,2.6 .5,.4 .5-.2 .5-.4 .5,.5 .5,.8 .5-2.8 .5,2.5 .5-2.2 .5-1.2 .5,2.3 .5,.3 .5-.6 .5-1.1 .5,1.5 .5-.9 .5,2.5 .5-1.8 .5,.1 .5-1.1 .5,1.4 .5,1.3 .5-2.8 .5,.4 .5-1.8 .5,2.2 .5,2.1 .5-3.4 .5,1 .5-.3 .5,.7 .5-.5 .5,.7 .5-.7 .5,1.8 .5,1.1 .5,.1 .5-2.9 .5,4.2 .5-.4 .5,.8 .5-2 .5,.7 .5,1.9 .5,1.6 .5-2.8 .5,1.8 .5,.6 .5-.6 .5,1.2 .5-.6 .5,2.5 .5-3.2 .5,2.7 .5-.7 .5,.8 .5-.7 .5-1 .5,4.5 .5-.7 .5-.1 .5-.2 .5,.7 .5-.4 .5,.8 .5,1.8 .5-2.1 .5,0 .5,3.5 .5-2.5 .5,1.1 .5-.2 .5,1.2 .5,.3 .5-.3 .5-1 .5,.2 .5,1.5 .5,2.4 .5-4 .5,2.3 .5,1 .5-1 .5,1.3 .5-.1 .5,1.4 .5,1.3 .5-2.1 .5,.9 .5,.4 .5-.2 .5-.1 .5-2.3 .5,2.5 .5-1.5 .5,.5 .5,.8 .5-.2 .5-1.7 .5-.5 .5-.4 .5-1.6 .5,2.3 .5-.7 .5-3.2 .5,1.1 .5-2.1 .5-3.4 .5,1.1 .5-1.6 .5-2.1 .5-3.4 .5-.6 .5-4.3 .5-2 .5-5.5 .5-6.4 .5-5.1 .5-1.2 .5-7.5 .5-1.4 .5-5.1 .5-3.2 .5-8.9 .5-4.4 .5-4.9 .5-6.3 .5-4.1 .5-2.3 .5,.1 .5,.3 .5-2.1 .5-6.9 .5-1.7 .5-.9 .5-1.6 .5-2.8 .5,.8 .5-3.1 .5,.2 .5-.3 .5-.7 .5-2.5 .5,.4 .6-2.7 .4,3.3 .5,1.4 .5,3.1 .5,2.2 .5,2.7 .5,8.5 .5,6.8 .5,7 .5,11.8 .5,9 .5,7.9 .5,6.3 .5,9.8 .5,7.8 .5,8.2 .5,7.5 .5,6 .5,5.6 .5,3 .5,2.2 .5,4.5 .5,3.2 .5,2.7 .5,3.5 .5,.7 .5,3.1 .5-.5 .5,.7 .5,3.8 .5-1 .5,.7 .5,2.4 .5,2.1 .5,1.8 .5-.4 .5,1.8 .5-.4 .5-1.2 .5,1.3 .5,0 .5,2.4 .5-1.5 .5,1.2 .5,1.2 .5,2.6 .5,.1 .5-.6 .5,1.1 .5-.1 .5,3.1 .5-3.9 .5,.1 .5,.4 .5,1 .5,1.6 .5,1.9 .5-1 .5,.3 .5,.5 .5,.7 .5-1 .5,2.1 .5-.5 .5,.6 .5,.7 .5,.3 .5,.5 .5-1.7 .5,1.8 .5-2.1 .5-.2 .5,2.1 .5,1.2 .5,.3 .5,.1 .5,.8 .5-2.8 .5,1.7 .5,.6 .5-.4 .5,1.6 .5,.6 .5-.1 .5,0 .5,2.5 .5-2 .5,.2 .5,1.7 .5,1 .5-3 .5,.2 .5,3 .5,0 .5-.1 .5-1 .5,1.3 .5-2.2 .5,.6 .5,3.4 .5-3.1 .5,1.6 .5,1.2 .5-.2 .5-1.4 .5,.9 .5,1.6 .5-1 .5,2.7 .5-1.8 .5,2.5 .5-1.9 .5,1.7 .5-.7 .5-.2 .5-1.4 .5,2.5 .5-.3 .5,.5 .5-.8 .5-.2 .5,.2 .5,1.3 .5,1.4 .5-1.2 .5-.7 .5,.6 .5-.1 .5-.4 .5,1.7 .5-.1 .5,.6 .5,2.9 .5-.9 .5,.9 .5-1.5 .5,.5 .5-1 .5-.9 .5,.4 .5,1.7 .5,1.2 .5,2 .5-2.3 .5-1.5 .5,1.6 .5,1.2 .5-1.8 .5,1 .5,1.3 .5-.3 .5,.6 .5-.3 .5,.1 .5,1.8 .5-.4 .5-.6 .5,.5 .5-.5 .5,.1 .5,.7 .5-.1 .5,2.3 .5-1.9 .5,.3 .5,2 .5-3.2 .5,1.3 .5,1.5 .5-1.1 .5-.1 .5-.8 .5,1.1 .5-.7 .5,2.2 .5-.4 .5-.9 .5,1.9 .5-2.4 .5,.3 .5,2 .5-.4 .5-1.5 .5,.6 .5,.7 .5-.3 .5,1.1 .5-.2 .5,.8 .5-.5 .5,.6 .5-.8 .5,1.1 .5,.1 .5,.5 .5-.3 .5-.7 .5,.5 .5,1.7 .5-1.7 .5,.5 .5,1.9 .5-1 .5,.2 .5-1.7 .5,.1 .5,1.5 .5,2.1 .5-4.3 .5,.2 .5,2.8 .5-.3 .5-1.3 .5,2.3 .5-.7 .5-.7 .5,.6 .5-.4 .5,1.1 .5-1.1 .5-.4 .5,.6 .5,1.4 .5,1 .5-2 .5-.3 .5,1.6 .5,1.1 .5-1.6 .5,2.3 .5-2.6 .5,2.7 .5-.8 .5-2.6 .5,2.7 .5-.8 .5,.2 .5-.6 .5,1 .5-.7 .5,1 .5,1.2 .5,.5 .5-.2 .5-.2 .5-.4 .5-.6 .5-1 .5,2.6 .5-1.6 .5,.8 .5-1.6 .5,2.2 .5,1.1 .5-1.6 .5,1.3 .5-1.1 .5,.5 .5-.7 .5-1.6 .5,2.8 .5,.3 .5,.2 .5,1.4 .5-.8 .5-.4 .5-1.2 .5,3.1 .5-3.7 .5,1.2 .5,0 .5,1.9 .5-.7 .5,.3 .5-2.5 .5,1.5 .5,1.9 .5-1.7 .5-.7 .5,1.8 .5-.8 .5,.8 .5,.5 .5-1.4 .5,1.2 .5,1.7 .5-1.8 .5,.2 .5-.3 .5,1.2 .5,.3 .5-1.5 .5,1.3 .5,1.9 .5-3.8 .5,3.2 .5,0 .5-2.7 .5,0 .5,1.3 .5,2.4 .5-2.2 .5,.9 .5,.2 .5-.1 .5,2.5 .5-1.9 .5-1.6 .5,1.9 .5,.5 .5-1.9 .5,1.6 .5-.8 .5-.7 .5,.5 .5,2.2 .5-1.1 .5-1.6 .5,2.9 .5-1.1 .5-1.8 .5,1.1 .5-.9 .5,1.7 .5,3.1 .5,.2 .5-1.9 .5-1.2 .5-.3 .5,.6 .5,1.3 .5,1.3 .5-1.3 .5,1.5 .5-1.5 .5-2 .5,2.8 .5,.9 .5-.4 .5,.8 .5-2.3 .5,.9 .5,.4 .5,.5 .5,.4 .5,.6 .5-1.5 .5-.7 .5,.9 .5,.4 .5-.2 .5-.5 .5,2.3 .5,.2 .5,.1 .5-.1 .5-.2 .5-1 .5,.1 .5,1 .5-2.4 .5,2.5 .5-2.5 .5,4.6 .5-1.3 .5-1.4 .5,.9 .5-.5 .5,2.5 .5-.4 .5-1.1 .5-.5 .5,1.4 .5-.3 .5-.3 .5-.4 .5-1.1 .5,.3 .5,.8 .5-.9 .5,.9 .5,3.3 .5-1.9 .5,.9 .5-1.5 .5,2.4 .5-1.3 .5,.9 .5,.5 .5-.7 .5,1.8 .5-3.2 .5,.8 .5,1.1 .5-.6 .5,.7 .5,1.9 .5-2.5 .5,.7 .5-.8 .5-.2 .5-1.2 .5,2.9 .5,1.2 .5-1.5 .5,1.5 .5-2.9 .5,1.4 .5,.2 .5,1.1 .5-.7 .5,.7 .5,1.2 .5-2.9 .5,1.2 .5,.7 .5-1.1 .5,1.3 .5-2.4 .5,1 .5,1 .5-1.8 .5,4.5 .5,.1 .5-.7 .5-.3 .5,.1 .5-1.2 .5,.1 .5-1.9 .5,3.5 .5-1.3 .5-1.9 .5,1.4 .5,1.7 .5-2.4 .5,1.3 .5-1.5 .5,1.8 .5,.6 .5-2.1 .5,1.4 .5,1.6 .5-.9 .5,2.3 .5-.6 .5,.4 .5-2.7 .5,.4 .5,1.6 .5,.3 .5-1.1 .5,.5 .5-.8 .5,.6 .5,1.2 .5,1.3 .5-.9 .5,.5 .5-.9 .5,.6 .5,.7 .5-2.2 .5,2.3 .5-.3 .5,.6 .5-.6 .5-1.2 .5,.4 .5,.6 .5-2.2 .5,1.4 .5,.3 .5,.2 .5-.4 .5,0 .5,1 .5-.3 .5,2.3 .5-1.4 .5,0 .5,1.2 .5-1 .5,.1 .5,1.5 .5-.1 .5-1.3 .5-1.2 .5,.9 .5,1.5 .5-2.5 .5,1.7 .5,.4 .5-1.6 .5,3.2 .5-1.6 .5-1.4 .5,.7 .5,1.8 .5,1.2 .5-1.2 .5,0 .5-.4 .5,2.2 .5-.2 .5-3.3 .5,2 .5,.7 .5-.8 .5,.8 .5,.4 .5-1.7 .5,2.6 .5-1.2 .5,1.1 .5-.8 .5-.3 .5,1.7 .5-1 .5,1.5 .5-1.1 .5,1.7 .5-3.1 .5,1.1 .5-.9 .5-.3 .5,1.6 .5-1.8 .5,1.7 .5,1.7 .5-.8 .5-1.2 .5,.4 .5,1.2 .5,1.1 .5-2 .5,.5 .5,.5 .5-.7 .5,.8 .5-.1 .5,1.3 .5-2.1 .5,.9 .5,.4 .5-1.2 .5,.6 .5,.4 .5-1.6 .5,1.2 .5-.6 .5,.8 .5-.1 .5,.3 .5,1.4 .5,.7 .5-.4 .5-1.8 .5,1.4 .5-1.7 .5,2.2 .5,.2 .5-1.1 .5,.5 .5,1 .5,0 .5-1.5 .5-.1 .5-1 .5,1.6 .5-.2 .5,.8 .5,.7 .5-2.2 .5,.8 .5,.6 .5-1.4 .5,1.7 .5-.3 .5,1.1 .5,.4 .5,.1 .5-1 .5,.6 .5,.1 .5,1 .5-3.3 .5,1.9 .5-.5 .5,1.1 .5,1.1 .5-.8 .5-.1 .5-.9 .5,1.3 .5,0 .5-1.4 .5,2 .5-1.2 .5-1.7 .5,2.1 .5,.9 .5,0 .5-.3 .5-.2 .5,.9 .5,0 .5-2.7 .5,1.3 .5,1 .5-.1 .5,1.1 .5,.3 .5-1 .5-.5 .5,2.5 .5-2.9 .5,.9 .5,2.5 .5-1.5 .5,0 .5-.6 .5,1.4 .5,1 .5-1.9 .5-.5 .5,1.6 .5,1 .5-1.7 .5-1.4 .5,1.5 .5-1.3 .5,2.1 .5-1.3 .5,.9 .5-.4 .5,.9 .5-3.2 .5,2.7 .5-.1 .5,.2 .5-2 .5,3.4 .5-2.3 .5,1.3 .5-1 .5,.4 .5-.2 .5-1.3 .5,1.2 .5,2.3 .5-2.8 .5,1.5 .5-2.1 .5,3.4 .5-2.8 .5,.3 .5,1.2 .5,.9 .5-2.1 .5,1.4 .5,.8 .5-.5 .5-.9 .5,1.5 .5,.8 .5,1.1 .5-.7 .5-3.4 .5,3.5 .5-.3 .5-.7 .5,.5 .5,.5 .5-1.5 .5-1.1 .5,1.2 .5,1.1 .5-1.3 .5-.1 .5-.6 .5,2.1 .5-1.8 .5,1.1 .5-.6 .5,2.5 .5-.3 .5,1.2 .5-3.1 .5-.3 .5,1.6 .5-1.9 .5,1.1 .5,1.4 .5-.7 .5,1 .5-1.8 .5,.4 .5,.5 .5,1.2 .5,.3 .5,.2 .5-1.2 .5-.9 .5,.4 .5,.5 .5-1.7 .5,.8 .5-.9 .5,2.4 .5,0 .5-1.3 .5,2.2 .5-.9 .5-.2 .5,1 .5-.3 .5-1.6 .5,.5 .5-.8 .5,2.4 .5-.8 .5,1.3 .5-1.9 .5-.5 .5,2.8 .5-.3 .5-2.6 .5,3 .5-2 .5,2.6 .5-1.1 .5-1.2 .5,.5 .5,.1 .5-2.1 .5,3.2 .5-1.1 .5,1.3 .5-3.1 .5,3.2 .5-.8 .5-1.3 .5,3.7 .5-1.3 .5-2 .5,.2 .5,1.7 .5,1.5 .5-1.5 .5-1 .5,2.6 .5-2.7 .5,2.3 .5-.7 .5-.9 .5-.5 .5,.1 .5,.7 .5,1.7 .5-1.6 .5-.9 .5,2.6 .5-.3 .5-1 .5,1.4 .5-1.2 .5,2 .5-2.2 .5-.7 .5,.4 .5,.7 .5,.1 .5-.8 .5,.1 .5-.8 .5,.9 .5,2.6 .5-2.1 .5-.9 .5,.5 .5-.1 .5,.8 .5-.8 .5,2.4 .5-2.3 .5,.7 .5,2.1 .5-1.7 .5,1.6 .5-1.7 .5,1.2 .5,1.4 .5-3.3 .5,1.8 .5-1.9 .5,1.3 .5-.7 .5,1 .5-1.5 .5-.9 .5,3.1 .5-.5 .5,1.4 .5-1.2 .5-.1 .5-1.1 .5-.5 .5,1.8 .5-1.5 .5,3 .5,.1 .5-.9 .5,.8 .5-1.5 .5-.5 .5,3 .5-2.5 .5,1.8 .5-2.4 .5,1.5 .5,.6 .5-3 .5,.3 .5,1 .5,.4 .5,.5 .5-.9 .5,.1 .5-.3 .5,.1 .5,1.6 .5-1 .5-.6 .5,0 .5,.5 .5-.9 .5,2.1 .5,.3 .5-2 .5,1 .5,.3 .5,1.4 .5-1.8 .5,.5 .5-.7 .5,.1 .5,.4 .5,3.1 .5-.9 .5-.8 .5-.1 .5-2.1 .5,.7 .5,2.1 .5-.8 .5,1.3 .5-1.2 .5,.7 .5-.5 .5,.6 .5-.1 .5,.9 .5-1.9 .5,.4 .5-.5 .5,.9 .5,.6 .5-.4 .5-2.4 .5,1.6 .5,.2 .5,.3 .5-.3 .5,.4 .5,1.6 .5-.4 .5,1.1 .5-3.6 .5,.8 .5-.2 .5,2.7 .5-.3 .5-1.4 .5,.1 .5,1 .5,1.3 .5,.4 .5-2.6 .5,1.9 .5-1.2 .5,2.2 .5,.5 .5-1.6 .5,.2 .5-3 .5,3 .5-2.6 .5,1.4 .5,1.8 .5-2.8 .5,4.2 .5-2.9 .5,1.7 .5-1.5 .5,1.5 .5-1.4 .5,.7 .5-2.2 .5,3.6 .5-.3 .5-1.1 .5,.1 .5-.9 .5,.5 .5,1.3 .5,.1 .5,.6 .5,.6 .5-.1 .5-.7 .5,0 .5-.6 .5,1.8 .5-2.3 .5,0 .5,1.4 .5-2 .5,1.3 .5-1.4 .5,.9 .5,3.3 .5-4.2 .5,3.2 .5-1.9 .5-.6 .5-.4 .5,2.5 .5-1.2 .5,.5 .5,2 .5-3.6 .5-.7 .5,2.5 .5,1.5 .5-1.4 .5,1.5 .5-.3 .5-.9 .5-1.3 .5,1.1 .5,1.2 .5-.8 .5-.6 .5,.5 .5-.4 .5,1 .5-1.3 .5,2.3 .5-1.5 .5-.2 .5-2.4 .5-.2 .5,2.2 .5-.3 .5,2.8 .5-3.2 .5-.2 .5,2.1 .5-3.3 .5,2.4 .5-1.6 .5-.8 .5,.2 .5,2 .5,.1 .5-.3 .5-.7 .5,1.1 .5,.3 .5-.3 .5,1.9 .5-.8 .5-2.2 .5,.3 .5-.4 .5,1.3 .5,1.1 .5,.6 .5-1.6 .5-1 .5-.5 .5-.7 .5,4 .5-2.5 .5-.3 .5,2.8 .5-3 .5,.6 .5,.6 .5-2.8 .5,.5 .5,3.9 .5-2 .5-2.8 .5,1.5 .5,.4 .5,.8 .5-1 .5-1.4 .5,1.3 .5,1.2 .5-2.2 .5-.8 .5-.1 .5-1.1 .5,3.6 .5-1.3 .5-.8 .5-.1 .5,.8 .5-2.6 .5-1.7 .5,2.1 .5-4.4 .5,1 .5,.9 .5-.5 .5-2.9 .5-1.1 .5-1.2 .5-1.7 .5-1.7 .5-.2 .5-3.3 .5-.8 .5-3.8 .5-3.5 .5-2.6 .5-.2 .5-6.1 .5-1 .5-5.3 .5-1.1 .5-4 .5-3.1 .5-3.1 .5-1.6 .5-.2 .5,.1 .5-2.5 .5-2.8 .5,.3 .5-4.1 .5,.9 .5,1.1 .5-5.9 .5,.6 .5-.9 .5,3.5 .5,.6 .5-.8 .5,3.8 .5,1.3 .5-1 .5,1.8 .5,.1 .5,2 .5,3.4 .5-1.8 .5,5.2 .5,3.4 .5,4.7 .5,3 .5,6 .5,3 .5,3.6 .5,1.3 .5,4.5 .5,1.8 .5,3.6 .5,1 .5,1.7 .5,1.3 .5,1.8 .5,1.9 .5,3.6 .5-.8 .5,1.4 .5,3 .5,2.1 .5-.8 .5-.1 .5,2.9 .5-1.5 .5-.7 .5,1.1 .5,1.3 .5-1.5 .5,1.6 .5-1.2 .5,.8 .5,.4 .5-2.5 .5,3.9 .5-.6 .5,0 .5-.2 .5-.4 .5,2 .5-1.5 .5,1.2 .5-3 .5,4.6 .5-2.1 .5,.2 .5-1.4 .5,.2 .5,1.7 .5-2.6 .5,3.8 .5-2.4 .5,0 .5,1.1 .5,2.4 .5-2 .5,1.1 .5-2.7 .5,.9 .5,1.8 .5-2.3 .5-.7 .5,1.4 .5,.4 .5,.3 .5,1.2 .5,0 .5-1.2 .5,1.2 .5-.7 .5,.4 .5-1.3 .5,2.1 .5-1.2 .5,2 .5-3.1 .5,3.1 .5-2.7 .5,2 .5-1.8 .5,.3 .5,2 .5-2.7 .5,3.1 .5,1.4 .5-1.5 .5-2.7 .5,2.7 .5-.8 .5,.4 .5-.2 .5,1.4 .5,.8 .5-1.6 .5,1.4 .5-2.2 .5,3 .5-3.5 .5-.1 .5,.9 .5,1.5 .5,.3 .5-3 .5,2.2 .5,.3 .5,1.9 .5-2.6 .5-1.3 .5-.3 .5,1.9 .5,.9 .5-.3 .5-.3 .5-.8 .5,1 .5,.1 .5,2.4 .5-2.4 .5-1.2 .5,.9 .5,.3 .5-2 .5,2.3 .5,.3 .5,0 .5-1.3 .5,.9 .5,.7 .5,.8 .5-.6 .5-1.9 .5,2.4 .5,1.1 .5-2.1 .5-1.9 .5,3.3 .5,.3 .5-1.2 .5-.5 .5,2 .5-.4 .5-1 .5-.1 .5,.5 .5,1 .5-1 .5-1.6 .5,.7 .5,1 .5,.3 .5-1.1 .5,1.6 .5-1.6 .5,2 .5,.9 .5-1 .5-.9 .5,.6 .5-3 .5,4.1 .5-2.8 .5-.1 .5,.7 .5-.6 .5,1.1 .5-.3 .5,.3 .5,1.5 .5-.9 .5-1.2 .5,.5 .5-.7 .5,2.2 .5-2.5 .5,.9 .5,2.5 .5-2.3 .5,.5 .5,.5 .5-2.6 .5,2.3 .5,.9 .5-.9 .5,.5 .5-1.8 .5,1.2 .5-.4 .5,.4 .5-1.6 .5,.9 .5,1.3 .5-1.3 .5,1.4 .5,1.2 .5-1.5 .5-.2 .5,.7 .5-1.8 .5,.5 .5-.7 .5,.3 .5,3 .5-2.9 .5,.9 .5-.4 .5-.1 .5,.2 .5,.1 .5,.7 .5-.8 .5,.8 .5-.6 .5-.2 .5,.1 .5,2.3 .5-3.5 .5,1.3 .5,1 .5-.2 .5-1.8 .5-.1 .5,1.2 .5,1.4 .5-.5 .5-.9 .5-.4 .5,.2 .5,.1 .5-1.5 .5,0 .5,1.5 .5,2.4 .5-2 .5-2.3 .5,.7 .5,1.2 .5-1.1 .5,1.5 .5-1.2 .5,0 .5-.7 .5,2.1 .5-.1 .5,0 .5,.4 .5-1 .5,1.6 .5-2.6 .5,2 .5-1.3 .5-.1 .5-.2 .5,1.4 .5-.4 .5,1 .5-2.3 .5,1.3 .5-1.4 .5,1.7 .5,1.1 .5-2.8 .5,2.4 .5-2.5 .5,2.9 .5-1.5 .5,.5 .5-2 .5,3.2 .5-2 .5-.5 .5,1.7 .5-2 .5,.5 .5-.1 .5-.5 .5,2.2 .5,.7 .5-3.1 .5,2.9 .5-.5 .5-1.7 .5,1.1 .5,1.6 .5-3.1 .5,.1 .5-.5 .5,3.5 .5-1.2 .5-2.1 .5,.8 .5,.9 .5-1.1 .5,1.7 .5-1.3 .5,1.3 .5-1 .5-.2 .5-.9 .5,1.1 .5,.5 .5-2.8 .5,2.5 .5,.8 .5-.4 .5-.6 .5-.7 .5-1 .5,.2 .5,.6 .5-.8 .5,1.3 .5-.7 .5,.2 .5,1.8 .5-1.2 .5,.5 .5-2.8 .5,2.7 .5-1.7 .5,2.8 .5-3.6 .5,.8 .5,1.8 .5,1.3 .5-3.9 .5,1.4 .5-.6 .5,2.6 .5,.4 .5-1.9 .5,.7 .5-1.8 .5-.6 .5,1.9 .5-1.1 .5,1.3 .5-1.2 .5,1.8 .5-1.7 .5,.1 .5,1.1 .5-.9 .5,1.3 .5-2.3 .5-.4 .5,2 .5-.4 .5-1.3 .5-.7 .5,.5 .5,.7 .5-.3 .5-1 .5,.2 .5,1.6 .5,.6 .5,.4 .5-2.7 .5-.4 .5,1.9 .5-1.1 .5,1.2 .5,.1 .5-1.5 .5,.2 .5-1.7 .5,0 .5,2.5 .5,1.5 .5-4.3 .5,.2 .5,1.1 .5,1.3 .5-3 .5,2.1 .5,1.5 .5-3.9 .5,.9 .5,2.1 .5,.4 .5-2.2 .5,1.8 .5,.1 .5-2.7 .5,1.4 .5-.6 .5,.2 .5,.6 .5-1.6 .5-.9 .5,.5 .5,0 .5,1.2 .5,1.3 .5-1.7 .5-.3 .5,.2 .5,1.4 .5-1.1 .5,.2 .5-.9 .5,.7 .5-.5 .5,1.7 .5-1.3 .5,1.3 .5-.9 .5-.3 .5-2.3 .5,1.7 .5-.9 .5,2.1 .5-.8 .5,0 .5-.7 .5,1.7 .5-3.9 .5,3 .5-1.3 .5-.8 .5,.2 .5,.7 .5,.3 .5,.9 .5-2.1 .5-.2 .5,1.9 .5,.1 .5-2.6 .5,.3 .5,1 .5-.8 .5,1.1 .5-1.8 .5,0 .5,3.1 .5-1.2 .5,.5 .5-1.5 .5-1.3 .5,2 .5,.3 .5-2.1 .5-.2 .5,.9 .5-.9 .5-1.8 .5,2.5 .5,0 .5-3.1 .5,4.1 .5-3.5 .5-.3 .5,.3 .5,.9 .5-.2 .5-2 .5,2.1 .5,.2 .5-1.4 .5-1.5 .5,.8 .5,.4 .5,1.6 .5-1.5 .5,1 .5,1.8 .5-2.5 .5-.3 .5,1.2 .5,.3 .5,.1 .5-1.6 .5-1.6 .5-.8 .5,1.1 .5,.5 .5-1.1 .5-.3 .5,1.2 .5-.2 .5-.2 .5,2.8 .5-1 .5-2.7 .5,2.5 .5-1.3 .5-.8 .5,.3 .5,3.1 .5-2.7 .5-.9 .5,.8 .5,1.1 .5-.8 .5-.4 .5-.9 .5,.3 .5-.9 .5,1.7 .5,.5 .5-.1 .5-.6 .5,1.6 .5-1.1 .5,.2 .5-2 .5,.9 .5-.2 .5,1.8 .5-1.4 .5-.1 .5-.1 .5,2.1 .5-2.5 .5-.3 .5,1.2 .5-.4 .5,1.7 .5-.3 .5-1 .5-.5 .5,.2 .5,1.5 .5-1.1 .5,.2 .5-3 .5,.8 .5,1.1 .5,1 .5-.1 .5-.6 .5-2.3 .5,2.2 .5-1.1 .5-1.3 .5,1.1 .5,.5 .5,.7 .5,.6 .5-.7 .5-.2 .5-.7 .5,.6 .5-1.4 .5,2.2 .5-.9 .5,1.2 .5-.6 .5-1.1 .5,.3 .5,0 .5,.1 .5-2.3 .5,1.1 .5,3.4 .5-2.3 .5,1.6 .5-2.4 .5-1.2 .5,1.5 .5-.1 .5-.6 .5,2.4 .5,.2 .5-2.5 .5,3.1 .5-1.2 .5-2.6 .5,2.7 .5-.8 .5-.5 .5-1.9 .5,2.4 .5-1.5 .5,3.1 .5-3.4 .5-.6 .5,2.3 .5-1.9 .5,3.1 .5-2.8 .5,1.9 .5-2 .5,.5 .5,.8 .5-1 .5,1.6 .5-1.6 .5,2.5 .5-.6 .5-3 .5,4.2 .5-1.9 .5-1.4 .5,1.3 .5-.2 .5,.8 .5,.1 .5,.4 .5-3 .5,1.9 .5-1.1 .5-1.1 .5,.9 .5-.4 .5,1.7 .5-.8 .5,.8 .5-.6 .5,.3 .5,.4 .5-1.6 .5,.8 .5,0 .5-.5 .5-.6 .5,1.5 .5,.4 .5,1.5 .5-2 .5,0 .5-1.7 .5,1.2 .5,1.5 .5,.7 .5-1.8 .5,1.3 .5-.1 .5,.1 .5-1.4 .5-1.8 .5,.8 .5,1.1 .5-2.4 .5,.5 .5-1.2 .5,.1 .5-1.3 .5,2.7 .5-2.6 .5,.4 .5-.1 .5-1.6 .5-1.7 .5-.2 .5-1.3 .5,.5 .5-1.8 .5,1.1 .5-2.9 .5-.4 .5-3.5 .5-3.1 .5-.4 .5-.7 .5-2.4 .5-2.3 .5-5 .5-3.3 .5-2.9 .5-3.8 .5-1.9 .5-2.2 .5-2.4 .5-4.4 .5,.5 .5-5.9 .5,.4 .5-1.5 .5-.6 .5-1.6 .5,.5 .5-3.6 .5,.6 .5-3.5 .5,.1 .5-.8 .5-.5 .5-3.8 .4,.4 .6,3.7 .5-1.7 .5,2.2 .5,1.6 .5,3.3 .5,.6 .5,2 .5,1.6 .5,.5 .5,.5 .5,4.5 .5,6.6 .5,4.2 .5,1.1 .5,4.6 .5,4 .5,1.4 .5,4 .5,3.5 .5,.1 .5,2.4 .5,2.7 .5,3 .5-2.6 .5,3.4 .5,3.8 .5-.4 .5-.6 .5,3.9 .5-1 .5,3.8 .5,1.1 .5-.8 .5-.2 .5,2.7 .5-.5 .5,.7 .5,.1 .5,.6 .5-.2 .5,2.5 .5,.7 .5-2.2 .5-.3 .5,2.6 .5,.9 .5-.8 .5,.9 .5-.2 .5-.7 .5-.3 .5-.5 .5,1 .5-1.9 .5,4 .5-3 .5,1.8 .5,.2 .5-.5 .5,.2 .5-.8 .5,.5 .5,1.5 .5,.1 .5-2.4 .5,1.6 .5-1.9 .5,2.1 .5,.3 .5-1.6 .5,3.4 .5-3.2 .5,3.2 .5-3.3 .5,3 .5-3 .5,1.8 .5-.9 .5,2.1 .5-1.2 .5,.9 .5,.6 .5-1.3 .5,.6 .5,1.2 .5-1.3 .5,1.8 .5-2.5 .5,4.7 .5-.9 .5-3 .5,1 .5,.7 .5,1.2 .5,.4 .5,.5 .5,.2 .5-2.6 .5,1.7 .5-.3 .5,1.1 .5-.8 .5-1.9 .5,1.7 .5,3.1 .5-2.3 .5,1.6 .5-1.5 .5-.1 .5,.4 .5-.2 .5,1.3 .5-1.5 .5-1.6 .5,3.4 .5-.4 .5-1 .5,.3 .5,1.2 .5-.4 .5-1.6 .5,2.9 .5,.8 .5-2.3 .5-1.2 .5,2.6 .5,.4 .5-2.7 .5-.7 .5,.2 .5,1.1 .5-.7 .5,.8 .5,0 .5-1.4 .5,2.4" fill="none" stroke="#7030A0" stroke-width="9.7" stroke-linejoin="round" stroke-linecap="round" clip-path="url(#cl)"/>
<path d="M160.0,682.8l.5-3.7 .5,2 .5-.1 .5-.2 .5,1.1 .5-1.2 .5,2.3 .5-1.2 .5-.7 .5,1.8 .5-.2 .5,1.7 .5-1.4 .5-.5 .5,2.9 .5-1.9 .5,.3 .5,1.4 .5-2.3 .5,.7 .5-.7 .5,3.4 .5-3.2 .5-.2 .5,.1 .5,3.7 .5-.8 .5-2 .5,.1 .5,3.5 .5-3.1 .5,.9 .5-.8 .5,3.5 .5-3.3 .5-.7 .5,2 .5,.3 .5-.6 .5-.4 .5-1.1 .5,1.1 .5,3.5 .5-4.2 .5,3.7 .5,1.1 .5-.8 .5-1.1 .5,1.3 .5,0 .5-3 .5,2.4 .5-1.7 .5-.9 .5,3.4 .5-2 .5,1.4 .5-1.8 .5,2.9 .5-.4 .5-1.1 .5-.6 .5,.3 .5,1.2 .5-.9 .5-.4 .5,2 .5-.2 .5,.9 .5-.1 .5-2.4 .5,1.7 .5-1.2 .5-.5 .5,1.9 .5-.4 .5,.9 .5-.9 .5,1.4 .5-1 .5,.6 .5,1 .5,.9 .5-2.4 .5-1.7 .5,.4 .5,3.4 .5,.7 .5-1 .5,.8 .5-2.1 .5-.2 .5,2.3 .5-.6 .5-.2 .5,.2 .5-.7 .5-1.9 .5,3.4 .5-1 .5-1.1 .5,.4 .5,1.7 .5-1.8 .5-.5 .5,1.9 .5,.6 .5,.2 .5-.1 .5-.6 .5-.5 .5-2 .5,2.2 .5-.5 .5,2.8 .5-2.5 .5,1 .5,.6 .5-2.2 .5,0 .5,3 .5,0 .5-3.4 .5,2.1 .5,1.6 .5-2.5 .5,1 .5,.2 .5-.5 .5-.2 .5-1.6 .5,1 .5,.9 .5,.8 .5,1.9 .5,.3 .5-.7 .5-1.4 .5-1.5 .5,1.2 .5,1.5 .5-1.4 .5,.5 .5,1.3 .5-2.6 .5,.3 .5,2.7 .5-1.1 .5,.6 .5-.8 .5-1.5 .5,2.8 .5-2 .5,1.1 .5,.1 .5-.1 .5-1.9 .5,2 .5-2.1 .5,2 .5-.9 .5,2.4 .5-2.5 .5,.5 .5,0 .5-2.1 .5,2.1 .5,.2 .5-.9 .5,.8 .5,.5 .5,.2 .5,.2 .5,.6 .5,.1 .5-1.7 .5,.7 .5-.4 .5-.5 .5,0 .5-.7 .5,1.5 .5,.9 .5-1.7 .5,0 .5-.6 .5-.4 .5,.2 .5,1.5 .5-2.2 .5,3.9 .5-1 .5-.9 .5-.8 .5,1.8 .5-1.5 .5,2.7 .5-2.5 .5,.7 .5-1.6 .5,2.3 .5-.7 .5-.1 .5,1.4 .5-3 .5-1.2 .5-.1 .5,1.4 .5,.3 .5,0 .5,1 .5,.6 .5-2.1 .5,2.2 .5-2.1 .5-.6 .5,2.1 .5,.1 .5-.3 .5-2 .5,2.8 .5-1.3 .5-1.4 .5,.9 .5,.2 .5-.4 .5-.6 .5,2.6 .5-2.6 .5,.9 .5-.5 .5,.3 .5-2.3 .5,4.2 .5-.6 .5-1.9 .5,1.4 .5-1.3 .5,.8 .5-1.1 .5-1.8 .5,1.1 .5-.1 .5-.2 .5-1.5 .5,1.9 .5,.9 .5-.4 .5-1.5 .5,2.9 .5-2.4 .5,.6 .5-.8 .5-.8 .5,.9 .5-1.4 .5-.3 .5-1.1 .5,2.3 .5,.4 .5-1 .5-.5 .5,0 .5,1.1 .5-1.8 .5,.4 .5,.3 .5-.8 .5,.3 .5,.2 .5-1.3 .5,2.4 .5-3.2 .5,.6 .5,0 .5-.5 .5-1.5 .5,1.1 .5-1.4 .5,.7 .5,.6 .5,0 .5-1.1 .5-.8 .5,2.7 .5-2.7 .5,2 .5-3.3 .5,1 .5,1.3 .5-3.1 .5-.7 .5,2.3 .5,.5 .5-1.2 .5-.7 .5-1.3 .5,.7 .5,.4 .5-1.7 .5-1.8 .5,3 .5-2.9 .5-.5 .5,.7 .5,1.6 .5-3 .5,1.3 .5,1.8 .5-2 .5-1 .5-1 .5-1.1 .5,3.1 .5-3.5 .5,1.4 .5,.7 .5-2.2 .5,.1 .5,1.1 .5-1.4 .5,.9 .5-.4 .5,0 .5-3.7 .5,1.6 .5-.6 .5-.7 .5-2.2 .5,1.4 .5,1.3 .5-.8 .5-2.3 .5,.3 .5-.4 .5,.6 .5-2.1 .5-.4 .5-1.3 .5,2.1 .5,.9 .5-2.2 .5-.2 .5-.2 .5-2.7 .5,1.6 .5,.7 .5-1 .5-1.9 .5-1.1 .5-.4 .5,1.8 .5-2.6 .5,.4 .5-.3 .5-1 .5-1.2 .5,1.1 .5-1.8 .5-.1 .5,1.4 .5-.9 .5-3.6 .5,.5 .5,1.8 .5-2.4 .5,1.6 .5-.2 .5-.4 .5,.4 .5-4 .5,0 .5,.1 .5-.4 .5,1.2 .5-.9 .5-2 .5,.1 .5-1.3 .5,.5 .5-1.5 .5,3.4 .5-1.7 .5-1.7 .5-.2 .5,.7 .5-1.3 .5,1.1 .5-1.7 .5,1.7 .5-1.9 .5-2.4 .5-.3 .5,.2 .5,2.3 .5-2.8 .5,1 .5-3.1 .5,1.9 .5-2.3 .5,.3 .5,.2 .5-2 .5,3.5 .5-4 .5,.4 .5,2.2 .5-1.3 .5-3.8 .5,2.4 .5,.4 .5-2.8 .5,.8 .5-1.3 .5-.4 .5,2.6 .5-1.3 .5-2.5 .5-.9 .5,2 .5-1 .5-1 .5,.3 .5-2.2 .5,.2 .5-.3 .5,1.9 .5-1.9 .5-1.5 .5-.1 .5,1.8 .5-1.2 .5-1.5 .5-.1 .5,.9 .5-1.6 .5-.4 .5-.9 .5-1.9 .5,2.7 .5-1.3 .5,.8 .5,.9 .5-3.1 .5,.8 .5-1.6 .5-.8 .5-.4 .5,.1 .5,.1 .5,1.6 .5-2 .5-1.5 .5,1.4 .5-2.6 .5,1.5 .5-.9 .5-1.3 .5,.8 .5,.4 .5-1 .5-3.3 .5-.3 .5,1.5 .5-.6 .5-1.7 .5,2.2 .5-.7 .5,.4 .5-1.5 .5,1.3 .5-3.1 .5-.1 .5,.8 .5-.7 .5-2.7 .5,.5 .5,1.2 .5-.9 .5-1.4 .5,.1 .5-.2 .5-.5 .5,.4 .5-.2 .5-2.1 .5,2.8 .5-2.4 .5-.9 .5,2 .5-2.7 .5-1.8 .5-.6 .5,.4 .5-.4 .5-1.8 .5,1.2 .5-1 .5,2.1 .5-1.5 .5-1.9 .5,1.7 .5-1.8 .5-2.6 .5,1.9 .5,1.2 .5-2 .5-1.3 .5,.4 .5-1.2 .5,.9 .5-.8 .5-1.2 .5,.9 .5,.6 .5-2 .5,.7 .5-1 .5-1.7 .5-.1 .5,1.2 .5-1.7 .5,.2 .5-3.4 .5,2.3 .5-3.3 .5,3.8 .5-2.3 .5,.2 .5-2.2 .5,.3 .5-1.7 .5-.2 .5,.9 .5-1 .5-.4 .5-.3 .5,1.4 .5-.8 .5,.6 .5-2.9 .5-.8 .5,.6 .5,.2 .5-2.9 .5,2 .5-1.5 .5,.6 .5-.6 .5-1 .5-1 .5,.3 .5,1.2 .5-3.7 .5,1.9 .5-.7 .5-.4 .5,.1 .5,0 .5-.8 .5,1.2 .5-2.2 .5,2.2 .5-4.8 .5,3.8 .5-2.6 .5-1.4 .5,0 .5,.2 .5,.4 .5-.6 .5,1.3 .5-2 .5-.5 .5-.4 .5,.7 .5-.9 .5,1.4 .5-2.8 .5-.1 .5-.5 .5-.7 .5,.1 .5-.9 .5-1.6 .5,0 .5,.3 .5-1.2 .5,.9 .5,1.4 .5-.7 .5-2.6 .5-.2 .5,.8 .5-.6 .5,1.4 .5-.9 .5-.1 .5-.9 .5,1.1 .5-1.1 .5,1.9 .5-1.7 .5-1 .5-.7 .5-.7 .5-.7 .5,1.1 .5,.2 .5,1 .5-1.7 .5,.5 .5-.9 .5-.9 .5,.7 .5-.2 .5-1.2 .5-.2 .5,0 .5-2.4 .5,2.5 .5-2.2 .5,3.8 .5-2.6 .5,.3 .5,0 .5-2.7 .5,3.8 .5-2.7 .5,1.9 .5,.2 .5-.6 .5-3.6 .5,.9 .5,.7 .5-1 .5,1.3 .5,1.9 .5-.5 .5-2.1 .5-.9 .5,2.1 .5-.1 .5-1.3 .5-.8 .5,2.9 .5,.1 .5-.6 .5-.6 .5-1.6 .5,.8 .5-1.7 .5,3.2 .5-3.3 .5,.4 .5,.5 .5,.2 .5,1.9 .5-.7 .5-2 .5,1.4 .5,0 .5,1.5 .5-3.8 .5,1.4 .5-.5 .5,1.6 .5,.9 .5-1.3 .5,2.6 .5-3.3 .5,1.4 .5-.8 .5-.8 .5,1.3 .5,.7 .5-.8 .5,.1 .5,.9 .5-.7 .5,2.1 .5-.2 .5-.6 .5,1.3 .5-3.5 .5,1.4 .5,2.8 .5-2.5 .5,2.4 .5-.4 .5-.2 .5-.2 .5-1 .5-.2 .5-.1 .5,2.8 .5-.3 .5,.6 .5-1.5 .5,1.7 .5,1.5 .5-2 .5,.6 .5,.4 .5,3 .5-.6 .5,1.2 .5,.3 .5-2.3 .5,1 .5-2.4 .5,2.7 .5-.4 .5,1 .5,.4 .5-2.1 .5,3 .5-.6 .5-.7 .5,1.2 .5,2 .5-1.4 .5,2.8 .5-.7 .5-.3 .5-.8 .5,.5 .5,2.8 .5-1 .5,.6 .5,.5 .5,1 .5,.3 .5-1 .5,1.2 .5-.2 .5,1.3 .5-2.1 .5,2.1 .5,2.3 .5-2.7 .5,1.2 .5,1.6 .5-1.3 .5,2.1 .5,.8 .5,1.1 .5-.2 .5,.7 .5-.4 .5,1.4 .5,.6 .5,.9 .5,.9 .5,.6 .5,.5 .5,.1 .5,.4 .5,0 .5,2 .5,1.4 .5-1.5 .5,2 .5-.2 .5,.5 .5-.3 .5,1.6 .5,1.7 .5,.5 .5,1.1 .5-1.1 .5-.7 .5,3.7 .5-.2 .5,1.6 .5,2.1 .5-.3 .5-2.8 .5,2.3 .5,.9 .5,3 .5-2.2 .5,1.2 .5,2.5 .5-2.9 .5,2.2 .5-.3 .5,1.1 .5,2.6 .5,.2 .5,.5 .5,.9 .5,.3 .5,1.2 .5,1.5 .5-.9 .5,2 .5,0 .5,2.5 .5,1.2 .5,.1 .5,1.3 .5-1 .5,1 .5,1.4 .5,.3 .5,1.9 .5-.1 .5-.5 .5,1.1 .5,2.4 .5,2.9 .5-1.4 .5-1.2 .5,3 .5-.3 .5,.1 .5,4.8 .5,.8 .5-1.5 .5,.8 .5,.5 .5,2.2 .5,.9 .5,1.1 .5-1.8 .5,1.8 .5,2.1 .5,0 .5-1.2 .5,2.7 .5,2 .5-2.7 .5,4.9 .5-1.3 .5,2.8 .5,.2 .5,0 .5,.2 .5,.7 .5,.2 .5,1.8 .5,1 .5-1.4 .5,1.9 .5-.8 .5,1.2 .5,1.7 .5,2.4 .5,.2 .5,.9 .5,.1 .5,0 .5,3.2 .5,.6 .5-1.4 .5,1.8 .5,1.6 .5-1 .5,1.1 .5,2.4 .5,.4 .5,1.8 .5-.8 .5,1.9 .5,.6 .5,2.5 .5-2.5 .5,1.6 .5-.4 .5,2.7 .5,.9 .5,1.8 .5-1.5 .5,2 .5-.1 .5,2.5 .5-1.3 .5,.4 .5,1.9 .5-.5 .5-.1 .5-.7 .5,3.4 .5,1.5 .5-.7 .5,1.6 .5-1.1 .5,2 .5,.7 .5-1 .5-.7 .5,2 .5,.9 .5,1.3 .5-2.7 .5,4.7 .5-.5 .5-.6 .5-.5 .5,1.1 .5,1.8 .5,.5 .5,.4 .5-1.9 .5,1.8 .5,1 .5,.3 .5,0 .5,1.4 .5,1.8 .5-2.6 .5,3.5 .5-2.2 .5,.5 .5,.4 .5,2.6 .5,.1 .5,1.2 .5-1.8 .5,0 .5,4.2 .5-1.2 .5-2.5 .5,1.5 .5,1.8 .5,2.2 .5,1 .5-3.1 .5,2.6 .5-.6 .5,.4 .5,.3 .5-.5 .5,.9 .5,1.2 .5,1.5 .5-1.8 .5,4 .5-1.7 .5,2 .5-1.7 .5,.3 .5,3.3 .5-.1 .5-2.5 .5,3.4 .5-2 .5,3 .5,1 .5-.4 .5,.1 .5,.7 .5,.7 .5-.4 .5,2 .5-.7 .5-.8 .5,3 .5,2.3 .5-.3 .5-1 .5-.2 .5,.8 .5,2.8 .5-.2 .5-1.5 .5,1.8 .5,2.1 .5-1.3 .5,.6 .5-.4 .5-.9 .5,3.6 .5,.2 .5,.6 .5,1.1 .5-1.2 .5,0 .5,1.5 .5-1.6 .5-.5 .5,2.3 .5,.1 .5,.1 .5,1.6 .5,1.2 .5-1.3 .5-1.2 .5,.7 .5,1.3 .5,1.2 .5,.6 .5,1 .5,2.1 .5-3.1 .5,2.8 .5-1.1 .5,.8 .5-.3 .5,2.1 .5,.1 .5,1.1 .5,.8 .5-3.5 .5,1.9 .5,1.6 .5,.5 .5-.2 .5-1.2 .5,3.4 .5-2.9 .5,2.6 .5-1.3 .5,.5 .5,1.8 .5-1.8 .5,2.4 .5-.5 .5-1 .5,1.5 .5,.7 .5,.9 .5,.9 .5-2.7 .5,1.1 .5,.4 .5-.5 .5,4.3 .5-2.4 .5,.5 .5,.2 .5-.2 .5,2.5 .5-.6 .5-.6 .5,.7 .5,1.2 .5,.3 .5,1 .5,.8 .5-1.8 .5-.3 .5,.9 .5,1.1 .5-.6 .5,1.4 .5-1.6 .5,1.8 .5,.7 .5-1.1 .5,2.2 .5,1.4 .5-4.1 .5,1.7 .5,1 .5,1.4 .5-1.9 .5,1.7 .5,1.8 .5-1.1 .5-.8 .5,.2 .5,1.3 .5,.5 .5,.2 .5-.2 .5-2.1 .5,1.6 .5,.8 .5,.9 .5,.7 .5-1.2 .5,1.8 .5,1.3 .5-1 .5,.5 .5-1.2 .5-.5 .5,2.1 .5,.1 .5,1 .5-1.5 .5-.6 .5,.3 .5,1.7 .5-2.4 .5,4.1 .5-1.9 .5,.7 .5-.1 .5,2.4 .5-3.3 .5,2.7 .5-.2 .5,1.2 .5-.2 .5-2.1 .5-.5 .5-.1 .5,2 .5,1.1 .5-.2 .5-.5 .5,1.3 .5-2.2 .5,3.4 .5,.5 .5-.2 .5-.4 .5,1.3 .5-3.7 .5,.6 .5,1.4 .5,.1 .5-.3 .5,1.2 .5-.9 .5,2.5 .5-1.8 .5-2.2 .5,1.9 .5-.2 .5-.8 .5,3.1 .5-2.2 .5-.9 .5,1.9 .5,2.9 .5-1.9 .5,2.4 .5-1.2 .5,1.8 .5-1.1 .5,.4 .5-2.5 .5,1 .5,.5 .5,1.9 .5,2.1 .5,.3 .5,.4 .5-2.4 .5,1.4 .5,1.5 .5,1.2 .5-.1 .5-1 .5-.4 .5,3.1 .5-2.4 .5,1 .5,.3 .5,.5 .5-1.5 .5-.5 .5,1.2 .5-.9 .5,1.3 .5-2.1 .5,1.3 .5-1 .5,3.9 .5-4.6 .5,1.5 .5,.2 .5-.3 .5-.9 .5,.4 .5,.9 .5,2 .5-.2 .5,.6 .5-2.8 .5,.9 .5,1.3 .5-.9 .5-.4 .5-.1 .5,.9 .5-1.7 .5,1.1 .5-1.3 .5,2.1 .5,0 .5-.5 .5-1.2 .5,1.9 .5,2.5 .5-2.2 .5,1.6 .5-2.1 .5,1.4 .5,1.8 .5,1.7 .5,.4 .5-1.2 .5,3.6 .5-4.1 .5,.9 .5,3.5 .5,.7 .5,.9 .5-2.9 .5-.5 .5,.1 .5,.7 .5,1.8 .5-.9 .5,.1 .5,1.3 .5-1 .5,.5 .5,1.7 .5-2.6 .5,1 .5-1 .5,1.9 .5-2.4 .5,.4 .5,2 .5-3.1 .5,4.6 .5-1.5 .5-.9 .5-.2 .5,1.1 .5-.1 .5-1.7 .5,1.4 .5-1.2 .5,.5 .5,.6 .5,.2 .5-.4 .5,.3 .5-.3 .5,.2 .5,2.4 .5-.1 .5-2.8 .5-1.1 .5,3.4 .5,1.5 .5-2.3 .5,1.1 .5-.2 .5,.8 .5-.7 .5,1 .5,.1 .5,.4 .5,.9 .5-1.5 .5,3.5 .5-.9 .5,.5 .5-.8 .5-1.1 .5,2.4 .5-.2 .5-1.5 .5,3.8 .5,.6 .5-2 .5,1 .5,1.4 .5-.9 .5-3 .5,3.9 .5-3.6 .5,1.8 .5,2.6 .5-2.9 .5-.7 .5,1.8 .5-.1 .5-1.8 .5,4.1 .5-1.7 .5-.1 .5,.4 .5,.2 .5,1.6 .5-1.7 .5-.4 .5,1.4 .5-.1 .5,.6 .5-1.8 .5,1.8 .5,.3 .5-1.9 .5,2 .5-.5 .5,1.9 .5,.4 .5-1.5 .5-1.7 .5,1.5 .5-1 .5,.2 .5,2.7 .5-.7 .5-1 .5-.8 .5,1.7 .5,1.5 .5-.8 .5-.4 .5,.2 .5,1.4 .5-.5 .5-.7 .5-2.3 .5,3.2 .5-.5 .5-.2 .5,1.5 .5-2.2 .5,1.4 .5-.1 .5-1.9 .5,1.6 .5,.5 .5,1.3 .5-.6 .5-.6 .5,1 .5-3.1 .5,1.9 .5-.4 .5,1.7 .5,1.6 .5-1.2 .5,.5 .5-.1 .5,1 .5-3.2 .5,2 .5-1.5 .5,.5 .5,1.5 .5,.3 .5-1.1 .5,1.5 .5-1.2 .5-.1 .5,.2 .5,.1 .5,1.4 .5-.1 .5-1.7 .5,.3 .5-.3 .5,1.2 .5-.2 .5,.2 .5-1.9 .5,1.6 .5-1.1 .5-.5 .5,1.2 .5-.5 .5,.9 .5-.1 .5-.6 .5,.5 .5-.4 .5-.5 .5-1 .5,2 .5-.2 .5,0 .5-2.5 .5-.2 .5,1.3 .5,.6 .5-1.1 .5,1.1 .5-2.7 .5,1.7 .5-3.1 .5,1.2 .5-.5 .5,1.9 .5-1.6 .5,.5 .5,.9 .5-1.9 .5,1.7 .5-2.4 .5,2.6 .5-2.9 .5-.4 .5,1.8 .5,1 .5-3.9 .5,3.2 .5,.1 .5-1.1 .5-2.2 .5,.2 .5,1.7 .5-3 .5,3.5 .5,.6 .5-3.8 .5,0 .5,2.1 .5-1.8 .5,1.5 .5-1.5 .5-.3 .5,.3 .5,.8 .5-.3 .5-1 .5,1.6 .5,0 .5-1.2 .5-2.8 .5,.7 .5,.3 .5,.6 .5,.7 .5-2.6 .5,2 .5-3.3 .5,1.5 .5-1.2 .5-.1 .5,1.4 .5-2.3 .5,.1 .5,1.5 .5-2.2 .5-2.5 .5-.1 .5,.1 .5,.3 .5-.5 .5-3.1 .5,0 .5-.9 .5,.8 .5-.3 .5-1.6 .5,0 .5-1.9 .5-1 .5,.1 .5-2.7 .5-3.8 .5-2.2 .5-1.5 .5-6.1 .5-5.4 .5-2.4 .5-6.4 .5-5.4 .5-12 .5-9.4 .5-8.5 .5-11.9 .5-10.8 .5-10.4 .5-8.4 .5-12.2 .5-13.6 .5-13.5 .5-8.2 .5-6.6 .5-4.1 .5-4.4 .5-6.7 .5-4.4 .5,4.2 .5,4.9 .5,7.9 .5,3.4 .5,4.9 .5,8.6 .5,16.1 .5,11.6 .5,12.3 .5,7.3 .5,7.3 .5,6.8 .5,3.9 .5,6.1 .5,7 .5,3.7 .5,5.9 .5,2 .5,6.2 .5,3 .5,5.6 .5,1.8 .5,5 .5,3.7 .5,1.1 .5,1.9 .5,1 .5-.4 .5,2.6 .5,1.3 .5,3.2 .5,0 .5-.6 .5,3.1 .5,0 .5-1.8 .5,4.1 .5-.5 .5,2.3 .5-.5 .5-2.8 .5,3.7 .5-.7 .5-.3 .5,1.2 .5,.7 .5-.9 .5-.3 .5,2.1 .5,0 .5-1.6 .5,3.4 .5-1.7 .5,3 .5-.2 .5-1.7 .5,1.4 .5-1.9 .5,1.7 .5-2.2 .5,1.2 .5,1.5 .5,1.1 .5,.5 .5,.6 .5,0 .5-1.6 .5,.6 .5-.5 .5,.9 .5-2.1 .5,1.3 .5,2.8 .5-1.5 .5-1.1 .5,1.6 .5-.6 .5-.7 .5-.7 .5-1.2 .5,.8 .5-.3 .5-.6 .5,1.3 .5-2.4 .5-.2 .5,.7 .5-1.1 .5-3.8 .5,1.8 .5-1.6 .5-.2 .5,1.6 .5,.3 .5-2 .5-3.4 .5,1.2 .5-.3 .5-.7 .5,2.2 .5-1.8 .5,0 .5-.9 .5,1 .5-1.3 .5-1.3 .5,1.8 .5-.6 .5-.7 .5-.1 .5,1.8 .5,.7 .5,2.9 .5-2.8 .5,.1 .5,1 .5,1.1 .5-2.5 .5,1.1 .5,1.7 .5,.2 .5-3.2 .5-1.5 .5,1.5 .5-.6 .5,1.2 .5-.8 .5-1.5 .5-1.6 .5,.9 .5-1.9 .5-.6 .5,.7 .5,2 .5-.6 .5-.7 .5-4 .5,2.6 .5-1.9 .5,1.5 .5,.6 .5-.2 .5-1.6 .5-.4 .5,2.2 .5,.8 .5-2.3 .5,0 .5,1 .5-.3 .5,2 .5,.3 .5-.1 .5-1.6 .5-.2 .5,.9 .5,.7 .5,1.1 .5-.4 .5-.8 .5,1.3 .5,.4 .5-1 .5-1 .5,1.9 .5,.6 .5-.3 .5-2 .5,1.7 .5-.4 .5-.4 .5,.1 .5-.5 .5-.1 .5,1.1 .5-.3 .5,.1 .5-1.6 .5,1.7 .5,1.6 .5-3.2 .5,1.4 .5-.2 .5,.4 .5,.5 .5-1.6 .5,1.8 .5-.3 .5-1.2 .5,1.1 .5,.7 .5,.3 .5-2 .5,1.2 .5-1 .5-.9 .5,3.1 .5-.9 .5-.3 .5-1.3 .5,.6 .5-.8 .5,2.7 .5-2.8 .5,.7 .5,1 .5-1.2 .5,1.3 .5-.7 .5-.4 .5,.1 .5-2.4 .5,3.6 .5-.4 .5-.2 .5-.2 .5-1.4 .5,1.4 .5-1.2 .5,.5 .5-.7 .5,1 .5,1.8 .5-.7 .5-1.6 .5,.2 .5,2.4 .5-1.5 .5,1.4 .5,1 .5-.7 .5-2.4 .5-1 .5,4.4 .5-3.5 .5,0 .5,1.2 .5,.4 .5,1.3 .5-1.3 .5-.1 .5,2.4 .5-2 .5,3.8 .5-3.7 .5,2.1 .5,1.6 .5-1.1 .5-1.7 .5,2.3 .5,1.6 .5-1.9 .5-.8 .5,2.2 .5-2 .5,3.1 .5,.6 .5-.5 .5-1.4 .5,2.8 .5,.5 .5-.1 .5-1.9 .5,1.2 .5-1.4 .5,2.4 .5-2 .5-.9 .5,1.3 .5,1 .5-.8 .5,0 .5-.9 .5,1.3 .5-.2 .5,.3 .5-.3 .5,.1 .5-.8 .5,3.2 .5-4.2 .5,2.3 .5,1.1 .5-3.5 .5,.1 .5,2.9 .5,1.3 .5-1 .5-1.9 .5-.4 .5-.2 .5-1.1 .5,.5 .5,1.6 .5-1.8 .5,.4 .5,.1 .5-2.2 .5-.2 .5,.1 .5-1.8 .5,.4 .5-.1 .5-1.5 .5-2.8 .5,1.4 .5-2.1 .5-3.7 .5-6.9 .5-4.7 .5-5.9 .5-5.8 .5-5.7 .5-5 .5-8.6 .5-3.8 .5-5.5 .5-.5 .5-5.8 .5-.8 .5-1.4 .5-2.4 .5-3.3 .3-.9 .7,2.4 .5,3.4 .5,1.4 .5,1.9 .5,1.5 .5,2.2 .5,2.3 .5,9.2 .5,9.4 .5,4.2 .5,5.5 .5,2.4 .5,3.3 .5,2.4 .5,5.1 .5,2 .5,2.6 .5,3.1 .5,3.3 .5,1.4 .5,2.7 .5,.4 .5,3.4 .5-1 .5-1 .5,4 .5-.4 .5,1 .5,1.8 .5-2.4 .5,.8 .5,2.7 .5-.7 .5,3.1 .5,.7 .5-.3 .5,2.3 .5-2.4 .5,3 .5,2 .5,1.4 .5-.1 .5,1.9 .5-.6 .5,.1 .5,1.2 .5,2.5 .5,.7 .5-1.3 .5,.8 .5,.6 .5-1.7 .5,1.7 .5,1.4 .5-.5 .5,1.2 .5-.6 .5,1.9 .5,1.8 .5-.6 .5,1.5 .5-.7 .5-.2 .5,1.6 .5-1.8 .5,1.7 .5,1 .5,.2 .5,1.5 .5-.9 .5,2.4 .5,.3 .5-.4 .5-.6 .5-.2 .5,2.4 .5-.7 .5,3 .5-1 .5,.9 .5-2.5 .5,1.3 .5-.3 .5-1.4 .5,2.8 .5-.6 .5,.4 .5,1 .5,1 .5-.3 .5,1.5 .5-2.6 .5,1.9 .5-1.6 .5,.7 .5,1.8 .5-.5 .5-.1 .5,.1 .5,.7 .5,.9 .5-.6 .5-1.1 .5,1.7 .5-.9 .5,.5 .5,.1 .5,1.1 .5-.7 .5-.5 .5-1.1 .5,.3 .5,2.1 .5-1 .5,2 .5-.8 .5,.5 .5-.2 .5,2.5 .5-1 .5-.3 .5,.3 .5-2.9 .5,1.4 .5,2.7 .5,.2 .5-2.2 .5-1.2 .5,.9 .5,2.3 .5-.7 .5,1.7 .5-1.4 .5,.8 .5,.5 .5-.6 .5-.3 .5,0 .5,.7 .5,.4 .5,1.3 .5-1 .5-.5 .5-.5 .5,.5 .5,1.5 .5-.1 .5,1.6 .5-1.6 .5-.2 .5,2.3 .5-.4 .5,.4 .5-2.7 .5,1.5 .5,.5 .5,.1 .5-2.3 .5,2.4 .5,.1 .5,1.5 .5-1.5 .5,.5 .5-.1 .5-1 .5,2.2 .5,1.6 .5-3.2 .5,3 .5,.4 .5-3.6 .5,.3 .5,.7 .5-.1 .5,.4 .5-.2 .5,.9 .5,1.1 .5,.5 .5-1.1 .5-.8 .5,2 .5,.1 .5-1.5 .5,1.5 .5-1.7 .5,.6 .5,1.1 .5-.4 .5,1.7 .5-1.4 .5,.6 .5,1.2 .5-3.1 .5,2.7 .5,.7 .5-1.5 .5,1.7 .5-2.6 .5,.4 .5-.4 .5,3.6 .5-2.8 .5,1.7 .5-2.5 .5,3.2 .5-2.6 .5,.8 .5-1.2 .5,.8 .5,2.8 .5-2.7 .5,3.7 .5,.6 .5-2.5 .5-1.3 .5,1.3 .5,.8 .5-2.4 .5,1.6 .5,1.1 .5,.4 .5-2.6 .5,2.3 .5,.3 .5,1.3 .5-.8 .5,1 .5-.5 .5-1.6 .5,3.5 .5-1.4 .5-.4 .5-.6 .5,2.5 .5-1.7 .5,.7 .5-.3 .5-.4 .5-1.6 .5,1.3 .5,3 .5-1.7 .5-1 .5-.2 .5,.2 .5,.6 .5,.4 .5,2.1 .5-1.2 .5,1.8 .5-4.1 .5,2 .5-1.9 .5,.1 .5,2.6 .5-2.4 .5,2.4 .5-1 .5,2.6 .5,.2 .5-3.3 .5,2.9 .5-.8 .5,.8 .5-1.2 .5,2.2 .5-.1 .5-1.2 .5-1.8 .5-.2 .5,3.6 .5-.9 .5-1.9 .5,.7 .5,3.6 .5-3.6 .5,1.9 .5,1.3 .5,.8 .5-1.8 .5,.3 .5-2 .5,2.1 .5-.5 .5-1.2 .5,0 .5,3.1 .5-.1 .5,1.1 .5-2.7 .5-1.7 .5,4.7 .5-1.5 .5,1.5 .5-2.9 .5,.4 .5,2.5 .5-2.8 .5,1 .5,.2 .5,1.2 .5,.3 .5-2.2 .5,2.3 .5-1.4 .5,.3 .5,.4 .5,1.1 .5-1.2 .5,.8 .5-1.5 .5-.7 .5,.5 .5,1.8 .5-.1 .5,.1 .5-1.7 .5,.8 .5,1 .5,1 .5-.2 .5-.9 .5-.4 .5-.9 .5,1.3 .5,2.1 .5-1.6 .5-.3 .5,1.1 .5,2.1 .5-2.8 .5-.6 .5-.8 .5-.1 .5,2.9 .5,0 .5-1.1 .5,1.3 .5,.3 .5-1.6 .5,1.4 .5,.8 .5-2.8 .5,1.8 .5,.3 .5-2.2 .5,4.6 .5-.9 .5,1.1 .5-4.1 .5,1.9 .5,1.6 .5-2 .5,3 .5-3.6 .5,1.4 .5-.3 .5-1.5 .5,1.8 .5,.4 .5-1.3 .5,.8 .5,1.9 .5,0 .5-.4 .5,.4 .5,.8 .5-1.8 .5-.6 .5,1.1 .5,.2 .5-1 .5,1.2 .5,.2 .5,1 .5-2.4 .5,2.8 .5-1.7 .5-1.4 .5,3.1 .5-.6 .5-.4 .5-1.5 .5,2.5 .5-2.2 .5,0 .5,1.3 .5,1.4 .5-1.1 .5,.2 .5-1.2 .5,2.3 .5-1.5 .5,1.3 .5,1.6 .5-1.9 .5-1.5 .5-.4 .5,.6 .5,.1 .5,1.6 .5,1.4 .5-1.6 .5-.3 .5,1.3 .5-1.8 .5,.8 .5,1.5 .5,.5 .5-1.9 .5,.1 .5-.1 .5,1 .5,1.6 .5-1.7 .5-1.4 .5,2.8 .5,.1 .5,.1 .5-.3 .5-1.4 .5-.7 .5,2 .5-1 .5,.6 .5,1.5 .5-3.8 .5,.2 .5,.4 .5,1 .5,.8 .5,.6 .5-1.3 .5,2.5 .5-1.7 .5,1.3 .5,1.2 .5-.6 .5-1.7 .5,.4 .5,.8 .5,.5 .5-2.4 .5,.1 .5,.7 .5,2.1 .5-1 .5-.3 .5-1.6 .5,.2 .5,2.2 .5-1.7 .5,2.6 .5-2.2 .5,1.3 .5,.8 .5-.2 .5-.6 .5,2.4 .5-2.4 .5,.7 .5-.8 .5,1.7 .5,.3 .5,.1 .5-1.1 .5,.9 .5-2.4 .5,.9 .5,1.3 .5-3.1 .5,.4 .5,3 .5-.6 .5-.5 .5,.1 .5,2.2 .5-1.2 .5-1 .5-1.3 .5,2 .5-1.5 .5,1.3 .5-.7 .5,2.6 .5-2.4 .5,.9 .5,1.9 .5-4 .5,1.7 .5-1.3 .5,4 .5-1.4 .5-.5 .5,.3 .5,.9 .5-.2 .5-.5 .5,1.1 .5-.7 .5,1.9 .5-3.6 .5,1 .5,1.5 .5,.1 .5-1.6 .5,2.3 .5-.4 .5,1 .5-2.4 .5,1.9 .5-1.5 .5,.6 .5,.6 .5-1.5 .5,.2 .5,2.7 .5-3.4 .5,2 .5,1 .5,.3 .5-2 .5-1 .5,2.7 .5-2 .5,.7 .5-.9 .5-.8 .5,1.1 .5,.5 .5-1.9 .5,4 .5-2 .5,2.4 .5-.5 .5-2.1 .5,.7 .5-.5 .5,.6 .5,.2 .5,.4 .5,.2 .5-.3 .5-.9 .5-1.1 .5,2.2 .5-.5 .5,1.2 .5-1.6 .5,1.2 .5-1.5 .5,1.7 .5-.7 .5,.9 .5,1.8 .5-1.2 .5-1.1 .5,.5 .5-.2 .5-.1 .5,.2 .5,0 .5,0 .5,1.3 .5,0 .5,1 .5-1.5 .5,0 .5,1.8 .5-4 .5,2.1 .5,.3 .5,.3 .5-1.5 .5,.3 .5-1.2 .5,1.1 .5-1.6 .5,3.3 .5-1.1 .5-1 .5,3 .5-1.7 .5-1.1 .5,1.8 .5-1.1 .5-1.7 .5,2.4 .5,1.8 .5-3.9 .5,1.6 .5,1.5 .5-.5 .5,.8 .5-1.4 .5,2 .5-1.6 .5-.1 .5,.7 .5-.8 .5,0 .5-.1 .5-.4 .5,.1 .5-.7 .5,2.3 .5-.2 .5-2.7 .5,1.8 .5,.7 .5-1.3 .5,1.8 .5-1.2 .5,.8 .5-1.1 .5,1.4 .5,0 .5,2.1 .5-.3 .5-1.7 .5-.1 .5,.1 .5,.2 .5-2.6 .5,2.3 .5,.9 .5-.7 .5-1.5 .5-.3 .5-.3 .5,4.2 .5-1.1 .5,.8 .5-2 .5-.5 .5-.9 .5,2.3 .5-2.1 .5,.8 .5,2.4 .5,.4 .5-2 .5,1.4 .5-.9 .5,.5 .5-2.1 .5,1.9 .5,0 .5,.2 .5,0 .5-.2 .5,.5 .5-1.5 .5,1.4 .5-1.5 .5,1.2 .5-.6 .5-.3 .5,.2 .5,.1 .5,1.6 .5-1.8 .5,1.4 .5,.2 .5,1.7 .5-1.1 .5-2.2 .5-.3 .5,1.6 .5,.5 .5-1.3 .5,1.9 .5-3.4 .5,0 .5,1.5 .5,1.7 .5,.4 .5-1 .5,1.7 .5-1.1 .5-.8 .5,2.1 .5-1.4 .5-1.3 .5,1.4 .5-1.7 .5,2.7 .5-1.6 .5-1.8 .5,3.7 .5-1 .5-1.1 .5,.9 .5,.6 .5-.8 .5,.4 .5,1 .5-1.7 .5,.5 .5,2.2 .5-2.5 .5-.4 .5,.9 .5,1.2 .5-2.1 .5,.7 .5-.5 .5,2.9 .5-.6 .5-1 .5,1 .5-3 .5,.8 .5,1.3 .5,1.2 .5-3.3 .5,2.2 .5-.7 .5,0 .5,.6 .5-1.5 .5,3.1 .5-2.4 .5,1.2 .5-1.8 .5,.6 .5-1.3 .5,4 .5,.5 .5-2.1 .5,.4 .5,1.8 .5-3 .5,1.2 .5-1.2 .5,1.9 .5-.4 .5,.8 .5,0 .5-2.5 .5,.5 .5,1.1 .5,.5 .5-.8 .5,.9 .5,.2 .5-1.4 .5,.6 .5-.5 .5-.9 .5,2.7 .5,1 .5-2.4 .5,2.4 .5-.1 .5-2.6 .5,.3 .5-.2 .5,1.8 .5,.5 .5-2.1 .5-1.2 .5,1.9 .5,1.5 .5-1 .5-.4 .5-2 .5,2.8 .5-1.1 .5,.5 .5,.1 .5-.7 .5-.5 .5,1.3 .5,.6 .5,1.4 .5-2.3 .5-.9 .5,3.5 .5-.9 .5-2.1 .5,.6 .5,.4 .5,1.7 .5-1.7 .5,1.8 .5-1.4 .5-1.1 .5,1.2 .5-2.2 .5,1.3 .5,1.5 .5-1.7 .5,.7 .5-1.1 .5,1.6 .5-2 .5,1.7 .5,1.4 .5-1.6 .5,1.8 .5-.5 .5,.3 .5-1.6 .5,.9 .5-1.1 .5,.4 .5,.3 .5,1.3 .5,1.3 .5-3.4 .5,3.5 .5-4.1 .5,0 .5,4.5 .5-.5 .5-1.2 .5,.1 .5-.2 .5-2.3 .5,3.2 .5-1.3 .5-1.8 .5,3.1 .5,.3 .5,.8 .5-.3 .5-1.5 .5,1.2 .5-.8 .5,.3 .5,2.1 .5-2.5 .5-2 .5,1.9 .5-1.2 .5,.6 .5,3.1 .5-1.2 .5-1.4 .5,.8 .5,1.5 .5-1 .5,1.9 .5-3.2 .5,1.6 .5-.1 .5-1.2 .5,1.5 .5,.5 .5,.7 .5-3.8 .5,2.6 .5,.6 .5,.8 .5-.9 .5-.4 .5-.8 .5,2.6 .5-1.8 .5,2 .5-1.7 .5,.3 .5-1.3 .5-.6 .5,2 .5-.5 .5,1.8 .5-3.2 .5,.1 .5,2.9 .5-2.3 .5-.2 .5-1 .5,1.2 .5,1.9 .5,.4 .5-3.4 .5,2.7 .5-1.5 .5,.3 .5,1.6 .5-.9 .5,.6 .5,.4 .5,0 .5-.3 .5,.6 .5-1.6 .5-.5 .5,.1 .5,1.1 .5-1 .5,1.3 .5-.5 .5,2.1 .5-3 .5,2.6 .5-.5 .5,1.4 .5-3 .5,1.5 .5-1.3 .5,.2 .5,.8 .5,.8 .5,.7 .5-2.1 .5-.4 .5,1 .5,1.2 .5-.5 .5,.1 .5,.3 .5-1 .5,.7 .5,1.5 .5-1.5 .5-1.4 .5,.4 .5,.2 .5,.6 .5,.5 .5-2.6 .5,1 .5,.4 .5-.7 .5-1.1 .5,.9 .5,2.8 .5-2.8 .5,3.5 .5-1.8 .5,.1 .5,2.1 .5,.1 .5-3.7 .5,2.7 .5-.5 .5-1.6 .5,.5 .5-.7 .5,3.2 .5,.3 .5-4 .5,.8 .5,.7 .5-.9 .5,2.5 .5-1 .5-.6 .5-1.7 .5,.1 .5,2 .5-2.4 .5,3.4 .5-1.6 .5,1.8 .5-.8 .5,.3 .5-.2 .5-1.3 .5,.1 .5,.3 .5,.6 .5,.8 .5-1.2 .5,1.9 .5-2.1 .5-.8 .5,.5 .5,.1 .5,2.5 .5-.7 .5-.5 .5-.6 .5,.5 .5-1.8 .5,3.7 .5-1.6 .5,.6 .5,.2 .5-1.5 .5-.1 .5-.9 .5,1 .5-.1 .5-2 .5,2.5 .5-1.7 .5,1.2 .5,2.5 .5-.2 .5-3.8 .5,2 .5,.2 .5,1.5 .5,.3 .5-2.2 .5-.6 .5,1.1 .5,.1 .5-2.8 .5,2.6 .5-.9 .5,2.5 .5-1.2 .5-.5 .5,.7 .5-1.2 .5,.4 .5,.2 .5-2.5 .5,3.2 .5,.1 .5-.3 .5,.5 .5-2.8 .5,1.7 .5-.5 .5-.1 .5-1.3 .5,.3 .5,.9 .5-1.3 .5,.8 .5-1.2 .5,1.9 .5,1.5 .5-1.9 .5-.8 .5-1.8 .5,.6 .5,1.2 .5-1.1 .5-1.1 .5-2.7 .5,.2 .5,.9 .5-2.5 .5,1.1 .5-2.2 .5-2.9 .5,1.7 .5-6.3 .5-.1 .5-3.2 .5-.8 .5-1.2 .5-1.3 .5-3.1 .5-2.4 .5-1.1 .5-3.3 .5-.3 .5-.5 .5-2.2 .5-1.9 .5,.9 .5,2.7 .5,.6 .5,.5 .5,.7 .5,1.1 .5,2.7 .5,1.9 .5,2.1 .5,.2 .5,.8 .5,3.1 .5,1.4 .5,1.3 .5,1.2 .5,.1 .5,2.7 .5,1.6 .5,1.9 .5-.1 .5,.2 .5,3.5 .5,.6 .5-.6 .5-1.4 .5,1.9 .5,2.8 .5-1.5 .5,.6 .5,2.4 .5-.8 .5,.1 .5-.7 .5,1.4 .5,0 .5,.7 .5-2.7 .5,3.7 .5,.9 .5-1.5 .5-1 .5,2 .5,.2 .5-2.3 .5,.9 .5,.4 .5-1.3 .5,1 .5,1.4 .5,1.2 .5-4.4 .5,3.1 .5-2.5 .5,1.1 .5,1.6 .5-1.9 .5,1.8 .5-.8 .5,1.5 .5-2.4 .5,4.1 .5-3.2 .5,.5 .5-.5 .5,3.2 .5-.9 .5-.2 .5,1.8 .5-3 .5,.6 .5,1.6 .5-1.1 .5,.8 .5,.3 .5,.1 .5,.9 .5-1.5 .5,2.8 .5-1.1 .5-.7 .5,.4 .5,1.2 .5-.3 .5,.9 .5,1.3 .5-1.6 .5-1.7 .5,2.4 .5-.1 .5,.1 .5-.3 .5-1.6 .5,1.7 .5,.6 .5-.3 .5,2.1 .5,.3 .5-4.3 .5,4.6 .5-3.6 .5,.9 .5,2.9 .5-.3 .5-.7 .5-2.4 .5,1.4 .5,.6 .5-1.7 .5,1.6 .5-2 .5,3.3 .5-1.7 .5-.9 .5,2.8 .5-.7 .5,.8 .5-3.4 .5,1 .5,.6 .5-1.8 .5,2.2 .5-.1 .5-.3 .5,.2 .5-1.7 .5,2.6 .5,1 .5-3.2 .5,.2 .5,1.4 .5-1.4 .5,.4 .5,.6 .5-1.1 .5-.3 .5,3.1 .5-2.3 .5,2.3 .5-2 .5,1.8 .5-1.3 .5-1.2 .5,2.4 .5-.7 .5-.7 .5,3.2 .5-.1 .5-3.5 .5,1.3 .5-.3 .5-.5 .5,1.7 .5,.4 .5,.4 .5-2.7 .5,2.1 .5,.9 .5-3.7 .5,1.9 .5-.5 .5,1.8 .5-2.5 .5,1.7 .5-.1 .5-.7 .5,1 .5-1.8 .5,.5 .5,.3 .5,2.2 .5,.7 .5-1.9 .5-.1 .5-1.4 .5,.3 .5,1.9 .5,1.2 .5-1.8 .5-.3 .5,.2 .5,1.5 .5,.9 .5-1.5 .5-.4 .5,.8 .5-.9 .5,.6 .5,1.5 .5-.7 .5-2.4 .5,4.2 .5,.1 .5-4.1 .5,1.3 .5,1.3 .5,.8 .5-3.6 .5,4.2 .5-.5 .5-.6 .5-.8 .5-2.2 .5,2.5 .5-1.1 .5,1.5 .5-1 .5-.9 .5,3.8 .5,0 .5-4.1 .5,2.2 .5-1.6 .5,2.3 .5-2 .5,1.7 .5-1.2 .5,1.4 .5-2.9 .5,2.7 .5-.2 .5,.2 .5-.3 .5,1.5 .5-.1 .5-2.3 .5,.8 .5-1 .5,.4 .5,2.7 .5-3.3 .5,2.3 .5,.9 .5-1.1 .5,.5 .5-2.6 .5,.8 .5-.5 .5,2.8 .5-1.9 .5-.8 .5,.9 .5,1.5 .5-3 .5,2.6 .5-.8 .5-.4 .5,.7 .5-1.3 .5-.4 .5-.5 .5,2.2 .5-2.2 .5,1.1 .5-.3 .5,2.1 .5-3.4 .5,1.9 .5,.4 .5,.3 .5-.3 .5,1.1 .5-1.2 .5-.4 .5,.9 .5,.1 .5-.1 .5,.2 .5,.9 .5,.3 .5-2.9 .5,.3 .5,3.3 .5-2.8 .5-1.8 .5,2.1 .5,.7 .5,.9 .5-.9 .5,.3 .5-.5 .5,1.1 .5-3.2 .5,1.9 .5,.3 .5-.1 .5,1.2 .5-2.9 .5,3 .5-.5 .5-2.4 .5,1.2 .5,.1 .5-2.2 .5,2.3 .5-.7 .5,0 .5-1.6 .5,2.7 .5,1.3 .5,0 .5-.2 .5-.9 .5,.6 .5-2.8 .5,1.1 .5,.4 .5,.2 .5-.7 .5,.5 .5,1.2 .5-2.6 .5,2.3 .5-.8 .5,.6 .5-.3 .5,.2 .5-.8 .5,1.6 .5,.1 .5-.5 .5-1.8 .5,.7 .5,.6 .5,2 .5-1.4 .5-.3 .5,.8 .5-2.9 .5,2.2 .5-3 .5,1.7 .5,.7 .5-1.9 .5-.6 .5,.6 .5,2.2 .5-.1 .5,0 .5-.7 .5,1.5 .5-.6 .5-1.4 .5,.7 .5,2.3 .5-2.9 .5-.8 .5-.3 .5-.6 .5,.6 .5,3.2 .5-.9 .5-.1 .5,.3 .5-1.8 .5,.3 .5,.6 .5,1.6 .5-2.3 .5-1.1 .5,.5 .5,2.8 .5-1.8 .5-1.4 .5,1.8 .5,.5 .5-1.9 .5,.2 .5-.4 .5-.8 .5,1.4 .5,1.3 .5-.1 .5-.9 .5-1.6 .5,1.8 .5,1 .5,.1 .5-2 .5-.4 .5,2.2 .5-1 .5,1.5 .5-.6 .5,.2 .5-1.3 .5-1.5 .5,1.9 .5-.8 .5,1 .5-1 .5,.9 .5-1.5 .5,.9 .5,1 .5,.5 .5-3.2 .5,1.8 .5-.1 .5-.1 .5-.2 .5,.2 .5-.8 .5,1.1 .5,1.1 .5-3.7 .5,3.6 .5-3.3 .5,1.1 .5-.6 .5,1.8 .5-1.1 .5,.9 .5-3 .5,2.3 .5,1 .5-1.1 .5-1.2 .5,1.3 .5,1.8 .5-.8 .5,.3 .5-2.6 .5,1.1 .5-.7 .5,.4 .5-.9 .5,.2 .5,2.4 .5-3 .5,2.2 .5-1 .5-.6 .5,1.5 .5-.6 .5,1.3 .5,.7 .5-1.6 .5-1.2 .5-.3 .5-1.3 .5,2 .5-.9 .5,3 .5-3 .5-.1 .5-.4 .5,.9 .5-.5 .5-1.5 .5,3.4 .5-.8 .5,1.4 .5-1.2 .5-.9 .5,1.1 .5-1.2 .5,1.3 .5-1.4 .5,.3 .5-2.5 .5,1.6 .5,.9 .5-.3 .5-.3 .5,1.4 .5,0 .5-2.9 .5,1.5 .5,.5 .5,1.6 .5-1.9 .5-1 .5,.4 .5,1.5 .5-3.8 .5,3.5 .5,.2 .5-1.7 .5,1.6 .5-2.3 .5-.5 .5-.6 .5,1.6 .5,.7 .5-.4 .5-1.8 .5,1.6 .5,.6 .5-.2 .5,1.2 .5-3 .5,1.7 .5-.7 .5,.3 .5-.8 .5,.6 .5-1.7 .5,.9 .5,1.9 .5-1.9 .5,.3 .5,.8 .5,.2 .5,.8 .5-2.5 .5,.7 .5-1.3 .5,2.1 .5-.5 .5,.1 .5-1.5 .5,2.1 .5-2.3 .5-.1 .5,.9 .5-.5 .5,1.8 .5-.6 .5-1 .5,2.1 .5-.4 .5-1.1 .5-.7 .5-.2 .5,1.7 .5-.2 .5,.5 .5,.2 .5,.1 .5-1.2 .5,1.3 .5-.5 .5-2.2 .5,1.6 .5,2 .5-.9 .5-1 .5-.1 .5,1.1 .5-1 .5-1.3 .5,.2 .5,3.9 .5-2.7 .5,.4 .5,.1 .5,.2 .5,.4 .5-.7 .5-.6 .5,.2 .5,.2 .5,2 .5,0 .5-1.1 .5,1.1 .5-2.7 .5-.3 .5-1.4 .5,3.3 .5-.5 .5-2 .5,2.1 .5-1 .5,.6 .5,.9 .5-.5 .5-.8 .5-.5 .5,1.7 .5-2.6 .5,1.7 .5,.7 .5,.5 .5-3.4 .5,2.4 .5-1 .5,0 .5,1.4 .5-.9 .5-2.5 .5,3.1 .5-2.2 .5,1.9 .5-1.3 .5-.2 .5,.8 .5,.6 .5-1.7 .5,2.5 .5-2.1 .5,1.1 .5,1.6 .5-2.6 .5,.8 .5,.5 .5,.1 .5,.2 .5-1 .5-.1 .5,.1 .5-.8 .5-1.6 .5,2.5 .5-.4 .5,2.3 .5-2.9 .5-.9 .5,.6 .5,.1 .5,1.2 .5-1.2 .5,1.2 .5-1.3 .5,0 .5,.8 .5-.1 .5-1.8 .5,2.2 .5-.8 .5,2.4 .5-2.5 .5,.6 .5-1.5 .5,1.7 .5-1.3 .5,.8 .5,.8 .5-2.6 .5-.7 .5,1.9 .5,.4 .5,.5 .5,.8 .5-2 .5,.1 .5-.9 .5,1.7 .5,.8 .5-1.4 .5,1.1 .5-1.7 .5,0 .5,2.1 .5-.1 .5-1.4 .5-1.3 .5,1.4 .5-1.7 .5,2 .5-1.1 .5-.7 .5,.9 .5,2.5 .5-1.8 .5,0 .5-2.1 .5,2.1 .5-2.7 .5,1.1 .5,.8 .5,1.9 .5-3.5 .5,1 .5-1.4 .5-2.6 .5,2.3 .5,.8 .5-2.2 .5-2.8 .5-.3 .5-.6 .5-3.3 .5-.3 .5-2.8 .5-1.8 .5-3.9 .5-2.8 .5-2.3 .5-2.4 .5,1.9 .5-3.9 .5,1.1 .5,.9 .5-1.3 .5-2.7 .5,0 .5-2.4 .5,.7 .5-2.4 .5,.4 .5,1.2 .5-.4 .5,2.5 .5-.8 .5,1.7 .5-.4 .5,1 .5,2.6 .5,2 .5,.5 .5,.1 .5,.1 .5,3 .5,1.4 .5,2.7 .5,2.2 .5,3.2 .5,.4 .5-.9 .5,2.9 .5,2.1 .5,0 .5-.5 .5,1.5 .5,.6 .5,1.6 .5,.2 .5-.6 .5,1.8 .5-2.9 .5,.3 .5,3.4 .5-2.9 .5,4.3 .5-1.2 .5,.1 .5,1.5 .5,1 .5-2 .5,.6 .5-1.4 .5-.2 .5,.1 .5,3.3 .5-1.9 .5,2.4 .5-3 .5,.4 .5,1.4 .5,1.1 .5-2.1 .5,.6 .5-.2 .5,3.2 .5-1.6 .5,.2 .5-1.3 .5,.8 .5-.6 .5,3.4 .5-2.4 .5-2 .5,.9 .5-.7 .5,.8 .5-.5 .5,3.6 .5-1.5 .5-1.1 .5,4 .5-2.8 .5,2.7 .5-2.3 .5,.5 .5,.8 .5,1.2 .5-1.8 .5,2 .5-2.8 .5,3.4 .5-1.7 .5-.2 .5-.3 .5,.6 .5,.5 .5-.3 .5-1.9 .5,4.1 .5-3 .5-.2 .5-.1 .5,2.2 .5-1.7 .5,.7 .5,2.3 .5-.7 .5-1 .5-1.1 .5,1.2 .5,.8 .5-1.7 .5,.4 .5,1.7 .5-.9 .5,2.2 .5-3.3 .5,1.1 .5-.2 .5,1.4 .5-1.1 .5,2.1 .5,1.2 .5-2.2 .5,.7 .5-1.1 .5,2.1 .5-2.3 .5,1 .5,.8 .5-1.7 .5,2.1 .5-1 .5,.7 .5-.7 .5-1 .5,2.4 .5-.6 .5,.1 .5-.6 .5,1.1 .5-1.1 .5,.8 .5,1.8 .5-2.4 .5,1 .5-.9 .5,.8" fill="none" stroke="#0070C0" stroke-width="9.7" stroke-linejoin="round" stroke-linecap="round" clip-path="url(#cl)"/>
<path d="M160.0,487.4l.5,1.6 .5-1.3 .5,.6 .5,2.7 .5-1.3 .5,2.2 .5-1.9 .5-.8 .5,1.6 .5,.9 .5-.4 .5-1.1 .5,0 .5,4.5 .5-2.8 .5,1.9 .5,.9 .5,.2 .5-3 .5,.7 .5,.6 .5,2.6 .5-1 .5-.6 .5,2.5 .5,.5 .5-.5 .5-1.4 .5,2.3 .5-1.1 .5,1.1 .5,.8 .5,.2 .5-.2 .5,.5 .5,1.1 .5-.3 .5-2.1 .5,1.6 .5,1.2 .5,1.5 .5-1.6 .5,.2 .5,1.5 .5-1.5 .5,2.3 .5-1.2 .5,1.2 .5,.5 .5,.3 .5,1.1 .5-1.3 .5-.4 .5,1.2 .5,2.6 .5-.8 .5-2.2 .5,0 .5,1.5 .5-1.3 .5,.4 .5,3.2 .5,.1 .5,.1 .5,1.1 .5-4 .5,2.7 .5-.7 .5,2.2 .5-2.2 .5,1.9 .5,.8 .5,.3 .5,1 .5,.1 .5-1.5 .5-1.7 .5,2.5 .5,1.5 .5-.2 .5-3.5 .5,1.3 .5,2.1 .5,.1 .5-.3 .5,.2 .5-.9 .5,1.7 .5,1.7 .5-1.8 .5-2 .5,1.4 .5,1.6 .5,.3 .5-1.4 .5,0 .5,1.4 .5,.3 .5,.1 .5-.1 .5,.2 .5-.6 .5-1.3 .5,.9 .5,1.2 .5,1.6 .5-1.9 .5,3.6 .5-2.4 .5-.6 .5,2 .5,.7 .5,.5 .5-.6 .5-.2 .5-1 .5,.8 .5,.3 .5-1.1 .5,1.5 .5-2.6 .5,1.5 .5,.3 .5,.7 .5,.6 .5,0 .5,0 .5-2 .5,4.1 .5-2.8 .5,2.2 .5-1.1 .5-.1 .5-.4 .5,.3 .5-1.7 .5,1.5 .5,2.8 .5-1.4 .5-1.4 .5,.2 .5,0 .5,.5 .5,1.8 .5-.9 .5-1.2 .5-1.5 .5,4.3 .5-.6 .5-1.3 .5,.5 .5-.8 .5-.3 .5,3.2 .5-4.5 .5,2 .5,.9 .5,.2 .5-.6 .5-.3 .5,.8 .5-1.7 .5,.1 .5,2 .5-1.6 .5,1.8 .5,.6 .5,.4 .5-.3 .5-2.6 .5,1.3 .5,0 .5,1.3 .5-1.6 .5,2 .5-1.4 .5,1.4 .5-1.5 .5,0 .5-1.4 .5,.9 .5,2.3 .5-.1 .5-4.1 .5,4.6 .5-.3 .5-2.9 .5,1.7 .5,.3 .5-3.5 .5,2.1 .5,.3 .5-.4 .5-1.5 .5,1.5 .5,.8 .5-.2 .5-1.9 .5,3.6 .5-3.6 .5,.5 .5,1.3 .5-1.3 .5-.1 .5,0 .5,.4 .5,2.4 .5-2.7 .5-.3 .5-.8 .5,1.5 .5,.4 .5-1.7 .5,.4 .5,.9 .5-1.2 .5-.4 .5,1.8 .5,.6 .5-2 .5-2 .5,2.8 .5-2.5 .5,4 .5-2 .5,.4 .5-.5 .5,.8 .5-.5 .5-.4 .5-.3 .5-2.2 .5,2.6 .5-1.3 .5,.6 .5,.7 .5-2.3 .5,0 .5,1.7 .5-2 .5,.2 .5-.1 .5,1.1 .5-1.3 .5,.4 .5,1.2 .5-1.1 .5-.3 .5-.9 .5-.6 .5-1.5 .5,1.3 .5,1.3 .5,.7 .5-3.1 .5,.5 .5,.3 .5-.5 .5-1.1 .5-2 .5,1.4 .5-.5 .5,.1 .5,0 .5-1 .5,.9 .5-1.4 .5-1.2 .5,1.9 .5-.8 .5,.3 .5,.4 .5-3.3 .5,1.2 .5-1.5 .5,1.5 .5-2.2 .5-1 .5,3.5 .5-3.1 .5,.3 .5,.8 .5,.3 .5-1.2 .5-.9 .5,2.4 .5-3 .5-1.1 .5,1 .5-1.4 .5,.8 .5-1.9 .5,1.2 .5-2.9 .5,1.8 .5,.2 .5-1 .5-.7 .5,1.9 .5-2.7 .5-1.4 .5,.5 .5,1.1 .5-2.6 .5-2 .5,1.2 .5-1.6 .5,.7 .5-2.1 .5,3.3 .5-2.4 .5,.3 .5-1.2 .5,.4 .5-1.7 .5-.7 .5-1.1 .5-.2 .5,1.3 .5-.3 .5-2.4 .5-1.7 .5,2.4 .5-2.6 .5-.3 .5,0 .5,1 .5-1.2 .5-1.3 .5-2 .5,1.4 .5,.8 .5-1.7 .5,.2 .5-1.2 .5-.9 .5-.1 .5-.7 .5,1.9 .5-2.6 .5-.9 .5-.4 .5-.2 .5-.5 .5,.1 .5-.6 .5-1.2 .5-3.1 .5,2.7 .5-1.1 .5,.8 .5-4.6 .5,2.7 .5-3.8 .5,1.8 .5-1 .5,.9 .5-3.9 .5,2.6 .5-3.4 .5,.8 .5-.7 .5,.8 .5-1.7 .5,.1 .5-1.6 .5-.3 .5-.9 .5,.8 .5-1.8 .5-1 .5,1.4 .5-.8 .5,.8 .5-2.6 .5,.5 .5-2.3 .5,1.4 .5,0 .5-.6 .5-4.4 .5,.1 .5-1.4 .5,2.9 .5-.3 .5-2.5 .5-1.2 .5-.3 .5-1 .5-.2 .5-.8 .5,1.3 .5,.8 .5-3 .5,.5 .5,.3 .5-.7 .5-2.6 .5,.3 .5,.4 .5-.8 .5-.3 .5-3.1 .5,.2 .5,.5 .5-1.9 .5,1.9 .5-.6 .5-3.9 .5-.3 .5,0 .5-.1 .5,.3 .5,.3 .5-3.7 .5,.2 .5,.4 .5-2.2 .5,.7 .5-3 .5,1.5 .5-1.1 .5,0 .5-2.4 .5-.3 .5-.3 .5-1.6 .5-1.3 .5,.3 .5,1.5 .5-1.6 .5,0 .5-1 .5,1.5 .5-3.2 .5-.2 .5,.5 .5-1.5 .5-.4 .5-.3 .5-2.4 .5-.9 .5,0 .5,1.3 .5,.6 .5-4.3 .5,1.1 .5-3.3 .5,1.5 .5-.1 .5-.9 .5-2.3 .5,.5 .5,1.8 .5-2.4 .5-1.6 .5,.3 .5-1.8 .5-.2 .5-.4 .5-.4 .5-.9 .5,.4 .5-3 .5-.3 .5,1.8 .5-2.2 .5-.3 .5-1 .5-.7 .5-1.4 .5,.9 .5-.8 .5-1.7 .5,.5 .5,.6 .5-4.1 .5,2.7 .5-2.5 .5-.3 .5,.1 .5,0 .5-1.3 .5-.2 .5-2.9 .5-.6 .5-.3 .5,.2 .5-1.4 .5-.8 .5,1.6 .5-1.7 .5-2 .5,2.5 .5-.7 .5-.7 .5-4.3 .5,.1 .5-.5 .5,1 .5-.2 .5-.7 .5-2 .5,1.4 .5,.5 .5-2.9 .5,.6 .5-1.8 .5-3.1 .5,.9 .5-.3 .5,.5 .5-.3 .5-2.3 .5-1.2 .5-.5 .5,.3 .5-.8 .5-.1 .5,.4 .5-3.1 .5,3 .5-3.4 .5,1.4 .5-2.1 .5,.1 .5-2.2 .5,1.3 .5-1.7 .5-2.3 .5,.8 .5-1.4 .5,1.3 .5-2.1 .5,1.1 .5-.7 .5-.8 .5-2 .5,1.4 .5-2.1 .5-.7 .5,.8 .5-2.4 .5,1.4 .5-1.1 .5-.9 .5-1.5 .5-1.2 .5,.5 .5-2.5 .5,1.1 .5-2.1 .5,1.9 .5-1.9 .5,.5 .5-3.1 .5,.6 .5-1.4 .5-.1 .5-1.8 .5,2 .5-2.8 .5,1 .5-.5 .5,.4 .5-1.5 .5-3.3 .5,.5 .5-1.1 .5-.6 .5-.3 .5,1.6 .5-.6 .5-.9 .5-2.2 .5,.2 .5,.9 .5-.9 .5-2.1 .5,1 .5-.5 .5,1.4 .5-2.6 .5-2.4 .5,2.4 .5,.5 .5-3.7 .5,2.7 .5-.1 .5-1.6 .5-1.2 .5,.3 .5-.8 .5,.3 .5,.8 .5-1.6 .5-1.2 .5,1 .5-1.6 .5-1.8 .5,1.8 .5,1.6 .5-3.1 .5,.4 .5-2.3 .5,1.2 .5-.6 .5,.4 .5-.6 .5-.6 .5,.9 .5-2.1 .5-.7 .5,2.3 .5-.9 .5-2.2 .5-.6 .5-.2 .5,3.4 .5-1.6 .5-.8 .5,.3 .5-.4 .5,1.4 .5-1.8 .5-.3 .5-1.1 .5,1.2 .5-.8 .5-.4 .5-2.7 .5,2 .5-1 .5,1.8 .5-3.3 .5,1.5 .5-.7 .5,1.2 .5,.1 .5,.2 .5-1.3 .5,.2 .5-1.3 .5,1.7 .5-1.2 .5,2.2 .5,.7 .5-4.2 .5,1.7 .5-1.5 .5-.1 .5,1.6 .5,.3 .5-1 .5,1.3 .5-1.1 .5-.7 .5,2.6 .5-1.4 .5-.7 .5,.9 .5,0 .5-1.2 .5,1.4 .5-3.2 .5,.4 .5,1.6 .5-1.7 .5,3.4 .5-1.9 .5,1.3 .5-1.1 .5-.6 .5,.4 .5,1.4 .5-1.2 .5-1.9 .5,4.2 .5-1.9 .5,.3 .5,.3 .5-.7 .5-.9 .5,1.8 .5,.2 .5,1.3 .5,.2 .5-.4 .5-.1 .5,3.3 .5-1.1 .5-.2 .5-1.4 .5,1.4 .5,1.1 .5-1 .5,.8 .5,.1 .5,1.3 .5,1.1 .5-.2 .5,.2 .5,1.2 .5,1 .5-2.9 .5,1.5 .5,1.2 .5,1.2 .5-2.3 .5,2.2 .5,2.4 .5-1.1 .5,.7 .5,1.4 .5,.2 .5-1.1 .5,1.6 .5-.5 .5,2 .5,.9 .5,.9 .5-.1 .5-2.1 .5,2.8 .5-.2 .5,2.6 .5,1.1 .5-.2 .5-.3 .5,1.9 .5,1.2 .5,1.1 .5,.6 .5-.7 .5,1.3 .5,.5 .5,2.2 .5-2.4 .5,.7 .5,4 .5,.8 .5,.3 .5-.2 .5,2.2 .5-.5 .5,.2 .5,2.3 .5-1.3 .5,2.6 .5,.1 .5,1.3 .5,2.9 .5-3 .5,2.9 .5,2 .5,.5 .5,.4 .5-.7 .5,3.7 .5-1.2 .5,3.8 .5-1.3 .5,2.2 .5,.8 .5-.6 .5,1.5 .5,2.5 .5-.9 .5,2.6 .5-.3 .5,2.1 .5,.5 .5,1.2 .5,2.3 .5-1.5 .5,.9 .5,0 .5,5.6 .5-1.7 .5,2.9 .5-.6 .5,.8 .5,.7 .5,4.3 .5-2.1 .5,.8 .5,2.8 .5,1.3 .5,.8 .5-.6 .5,2.4 .5,2.1 .5-.8 .5,3.9 .5-1.4 .5,2.3 .5,.8 .5,.5 .5,2.8 .5-1.8 .5,2.8 .5-.2 .5,3.1 .5-1.5 .5,4.1 .5-.4 .5,3.1 .5-.4 .5,3.5 .5-1 .5,1 .5,.9 .5,1.4 .5-.1 .5,3.1 .5-1.1 .5,3.2 .5,.7 .5,1.3 .5,.6 .5,1.8 .5,1.4 .5,1.5 .5,2.7 .5-.9 .5,2.4 .5,1.3 .5,1.1 .5,0 .5,3.7 .5-2.9 .5,2.2 .5,2.2 .5-.1 .5,2.1 .5,1.8 .5,.2 .5,.9 .5,2 .5,.2 .5,.8 .5-.2 .5,4 .5,2.3 .5-2.1 .5,1.6 .5,3.5 .5-1.9 .5,1.4 .5,2.9 .5,.6 .5,1.8 .5-1.3 .5,3.7 .5-.6 .5,3.3 .5,.8 .5-.5 .5,3.1 .5-.5 .5,.2 .5,1.8 .5,0 .5,2.4 .5,.2 .5,3.7 .5-1.5 .5,3.8 .5,.5 .5-1.8 .5,2.9 .5,1 .5,.6 .5,1.6 .5,3.6 .5-1.4 .5-.2 .5,1.4 .5,1.5 .5,4 .5-1.9 .5,3.4 .5-2.4 .5,2.2 .5,1.1 .5,1 .5,1.8 .5,1.2 .5,.3 .5-.4 .5,2.9 .5,.7 .5,1.9 .5-.9 .5,3.6 .5-.2 .5-.8 .5,3.4 .5-1.2 .5,1.4 .5,1.5 .5,1.6 .5,3 .5-1.6 .5,1.9 .5,.9 .5,.1 .5-.6 .5,2.8 .5-1.3 .5,3.7 .5-1.3 .5,3.1 .5,1.8 .5-1.2 .5,2.6 .5,1.6 .5-1.8 .5,0 .5,2.4 .5,2 .5-.6 .5,2.1 .5,1.2 .5,1.5 .5,1.4 .5,0 .5-.6 .5,1.5 .5-.7 .5,3.6 .5,2.4 .5-3 .5,3.1 .5,1.1 .5,2.3 .5,.8 .5-1.9 .5,2.5 .5,.6 .5-2.2 .5,3.1 .5,.3 .5,3.2 .5-1.5 .5,1.7 .5,2 .5,.2 .5-1.9 .5,2.3 .5,1.3 .5,.9 .5-.1 .5,2.3 .5-1.3 .5,1.1 .5,3.1 .5-1.3 .5-.6 .5,4.2 .5-2.5 .5,1.4 .5,1.9 .5,1.5 .5,.7 .5,1 .5,.5 .5,.5 .5,.1 .5,.3 .5,.4 .5,3.7 .5-.5 .5,0 .5,1.8 .5-.1 .5,.8 .5,.3 .5,1.1 .5,.3 .5-1.1 .5,2.5 .5,1.2 .5,0 .5,.3 .5,1.3 .5,.3 .5-.6 .5,2 .5-.1 .5,0 .5,2.7 .5,.5 .5,1.4 .5-.7 .5,1.5 .5,.3 .5,1.2 .5-1 .5,2.7 .5-1.3 .5-.8 .5,2.9 .5-1.1 .5,3.6 .5-2 .5,2.2 .5-1.4 .5,3.1 .5,1.9 .5-1.5 .5,2.4 .5-1 .5-.5 .5,1.6 .5,0 .5,2.3 .5,.5 .5,2 .5-2.4 .5,1.4 .5,.1 .5,.3 .5,1.1 .5,1.7 .5,.7 .5,1 .5-1 .5,.7 .5,.3 .5-1.3 .5,2.9 .5,.6 .5-.1 .5,1.4 .5,1.6 .5-2.2 .5,2.5 .5-.7 .5,1.1 .5,.5 .5,.5 .5,2.7 .5-1.4 .5,.3 .5-.4 .5,3.8 .5-.9 .5,0 .5-.5 .5,1.1 .5,2.9 .5-2.5 .5,.4 .5,3.4 .5-2.4 .5,2.6 .5,1.9 .5-3.3 .5,.8 .5,3.2 .5,.6 .5,1.2 .5-1.5 .5,.4 .5-1.1 .5,1.5 .5,.7 .5,.9 .5-.9 .5,1.2 .5,1.9 .5,1.2 .5-.8 .5,.7 .5,1.3 .5-3.7 .5,5 .5-1.9 .5-1.5 .5,2.8 .5,.9 .5-1.2 .5,2.6 .5,0 .5,1.6 .5-1.9 .5,.4 .5-.2 .5-.3 .5,2.1 .5,2.2 .5-2.6 .5,.1 .5,1.5 .5-.6 .5,1.8 .5-.6 .5,.1 .5,.3 .5,1.1 .5,2 .5-3.7 .5,4.9 .5-1.4 .5,1.6 .5-.3 .5,0 .5-1.4 .5,.3 .5,2.3 .5,0 .5,2 .5-4.3 .5,1.9 .5-1.2 .5,4.9 .5-2.8 .5-.6 .5,2.8 .5,.5 .5-2.1 .5,.9 .5,1 .5,2.4 .5-2.5 .5,1.2 .5,1.6 .5-.8 .5-.3 .5,.9 .5,1.8 .5-1.3 .5,1.5 .5-2.1 .5,1.1 .5-.1 .5,2.4 .5-2.3 .5-.4 .5,2.8 .5,1.2 .5,1.2 .5-4 .5,.7 .5,3.4 .5-.4 .5-1.1 .5,1.2 .5,1.3 .5-.3 .5-2.7 .5,2.5 .5,.5 .5,1.4 .5,.4 .5-1 .5,.8 .5-.9 .5-.3 .5,1.6 .5-1.7 .5-.3 .5,.8 .5,2.7 .5-.4 .5,.1 .5,2.2 .5-1.1 .5-.6 .5,2.1 .5-1.2 .5-1.8 .5,1.5 .5,.3 .5,1.3 .5-.3 .5,1 .5-.3 .5-.1 .5,.1 .5,.4 .5,0 .5-1 .5,1 .5,1.8 .5-1.8 .5,3.3 .5-1 .5-.4 .5-1.5 .5,1.9 .5,0 .5,1.3 .5,1 .5,0 .5-.1 .5,.4 .5,1.3 .5-1.1 .5,.1 .5-1.2 .5,1 .5,.8 .5-2.5 .5,4.5 .5-2.2 .5,1.1 .5-2.9 .5,2.7 .5-1.3 .5,1.4 .5-1.1 .5,.3 .5-.6 .5,3.8 .5-2.2 .5-.3 .5-.3 .5,1.8 .5,2.3 .5-1.9 .5-.8 .5,1.1 .5-.5 .5,.8 .5-.5 .5,2.8 .5,.8 .5-2.6 .5-.6 .5,1.6 .5,0 .5,1.3 .5-1.7 .5,.6 .5,.4 .5-.1 .5,.9 .5,.2 .5,.1 .5-2.5 .5,3 .5-.3 .5-2.4 .5,2.6 .5-.8 .5,.8 .5-1.1 .5,2.6 .5,0 .5,.5 .5-.4 .5,.1 .5,.2 .5,1 .5-1.3 .5,1.1 .5-2.3 .5,2.5 .5-1 .5,2.3 .5-1.2 .5-1.6 .5,1.7 .5-.9 .5,2 .5-1.2 .5-.1 .5,.2 .5-1.2 .5,1.6 .5-.3 .5,.4 .5,1.3 .5-2.6 .5,1.4 .5,2 .5-2 .5-.1 .5,.7 .5,1.3 .5-1.3 .5,1.4 .5-2.6 .5,2.9 .5-1.9 .5,1.2 .5,.6 .5-2 .5,3.1 .5-1.9 .5-.7 .5,2.5 .5-1 .5,1.4 .5-2.1 .5-1.6 .5,2.1 .5-2.6 .5,3.2 .5-.8 .5-2.4 .5,2.2 .5-.9 .5-1.1 .5,1.2 .5,.1 .5,1.2 .5-1.3 .5,2.7 .5,.9 .5-1.6 .5-1.7 .5,1 .5,.1 .5-1.1 .5,.8 .5,1.9 .5-2.5 .5,2.1 .5-1.4 .5-.9 .5,.8 .5,1.5 .5-1.2 .5-.6 .5,.4 .5-1 .5,1.4 .5,.9 .5,.1 .5,.9 .5-1.5 .5-3.1 .5,2.7 .5-2.2 .5,1.1 .5-.5 .5,1.4 .5-.7 .5-.6 .5,.5 .5-2.1 .5,.7 .5,1.8 .5,1.3 .5-3 .5,2.1 .5-1.9 .5,1.6 .5-3 .5,1.6 .5,1 .5-3 .5,1.3 .5-1.3 .5,.6 .5,.7 .5-1 .5-.5 .5,.8 .5-1.2 .5,.3 .5-.6 .5,1 .5-1.4 .5-.3 .5-.2 .5-.4 .5,1.7 .5,.5 .5-1.5 .5-1.5 .5-.6 .5,1.1 .5-.2 .5,.3 .5-.3 .5,.4 .5-1.8 .5,3 .5-3.9 .5,.6 .5-.1 .5-1.1 .5-1.6 .5,3.2 .5,.8 .5-1.3 .5-3.9 .5,1.9 .5-.7 .5,1.4 .5-1.7 .5-.7 .5-1.1 .5,1.1 .5-1.3 .5,.4 .5-.3 .5-.8 .5-.5 .5-.7 .5-.1 .5-1.9 .5-1 .5,1.6 .5,.7 .5-1.8 .5-.8 .5,.6 .5-1.7 .5-.4 .5,.2 .5,.2 .5-.6 .5,1.1 .5-2.4 .5-1.9 .5-.1 .5-.1 .5,0 .5-1.8 .5,1.4 .5-.7 .5-2.2 .5,1.6 .5-2.3 .5-1.7 .5-.4 .5-1 .5,1 .5-3.1 .5,.8 .5-2.5 .5-2.2 .5-1.2 .5-2.7 .5-2.1 .5-3 .5,.4 .5-1.4 .5-6.8 .5-3 .5-3.4 .5-6.6 .5-7.9 .5-12.5 .5-8.7 .5-8.9 .5-7.9 .5-6.8 .5-13.6 .5-15 .5-20.4 .5-19.3 .5-18.8 .5-20.1 .5-17.8 .5-20.3 .5-19.5 .5-19.2 .5-18.4 .5-21.5 .5-7 .5-10.6 .5-28.4 .5-28.1 .5-25.7 .5-20.8 .5-15.4 .5-5.3 .5-6.9 .5-6.1 .5-6.5 .4-6.4 .6,8.8 .5,7.5 .5,6.1 .5,6 .5,10.5 .5,24.9 .5,26.3 .5,27.6 .5,21 .5,27.1 .5,31.6 .5,31.9 .5,26.8 .5,26.2 .5,22.9 .5,19.1 .5,17.4 .5,23.1 .5,14.7 .5,10.3 .5,9.1 .5,6.6 .5,7.6 .5,8 .5,5.4 .5,7.9 .5,1.7 .5,6.8 .5,2.2 .5,.6 .5,2.2 .5,.6 .5,2.2 .5,2.1 .5-.9 .5,1.5 .5,1.9 .5-.9 .5,1.9 .5-1.5 .5,1.1 .5,1.7 .5,.9 .5-2.5 .5,1.7 .5,2.1 .5-.8 .5-1.1 .5,1.7 .5-.7 .5,2.4 .5-2.3 .5-.1 .5,1.6 .5-.1 .5,.1 .5-1 .5,1.9 .5-1.1 .5-1.2 .5,3.5 .5-1.7 .5-1.3 .5,1.5 .5-2.3 .5,2.4 .5,.1 .5-1 .5,.1 .5,0 .5,.7 .5-.2 .5-4.8 .5,3 .5-1.2 .5,2 .5-2.2 .5,.2 .5-1.4 .5,1.5 .5-.7 .5-1.1 .5,1.7 .5-.3 .5-1.8 .5-1.1 .5-.9 .5,2.6 .5-3.5 .5,1.2 .5-1.7 .5-.4 .5-.3 .5,2.5 .5-2.6 .5-1.9 .5,.4 .5-.8 .5,.8 .5-.5 .5,2.1 .5-3.4 .5-.7 .5,1.2 .5,1.5 .5-3.1 .5-.9 .5,2.1 .5-4.2 .5,1.5 .5-1 .5,.7 .5-.7 .5-1.3 .5-.8 .5,0 .5-1 .5-.8 .5,.2 .5-.4 .5,1.3 .5-2.1 .5-2.1 .5,.9 .5-1.6 .5,2.4 .5-2.2 .5-1.7 .5-.9 .5,1.5 .5-2.3 .5-1 .5,.9 .5-1.3 .5,.6 .5-.1 .5,1.4 .5-.8 .5-.5 .5-2.8 .5,1.2 .5-2.1 .5,.2 .5-.4 .5-1.1 .5-1.2 .5,3.1 .5-1.2 .5-1.4 .5,1 .5-.9 .5,1 .5-1.6 .5,.8 .5-3.2 .5,4.3 .5-1.6 .5-1.9 .5-.9 .5-1.1 .5,1.4 .5-.5 .5,.2 .5-.3 .5,.2 .5-2.6 .5-.2 .5,3 .5-1.4 .5,1.3 .5-3.3 .5,.8 .5-1.2 .5,3.5 .5-4.8 .5,.7 .5,1.6 .5,.6 .5-3.7 .5,.9 .5-1.3 .5,3.2 .5-.5 .5-1.1 .5-1.2 .5,1.2 .5-.2 .5,.4 .5-1.6 .5,2.7 .5-2.7 .5,.6 .5,.4 .5,1.4 .5-1.2 .5,2.2 .5-.6 .5-2.2 .5,2 .5-2.6 .5-.3 .5,3.8 .5-1.4 .5,1.4 .5-2.3 .5-.4 .5-.3 .5,3 .5-1.2 .5-2.8 .5,.8 .5,.2 .5-.6 .5,3 .5-1.3 .5,1.3 .5-.3 .5-2 .5,1.7 .5-.2 .5,2.7 .5-.4 .5-1.1 .5,2.5 .5,.6 .5-3.6 .5-1.1 .5,2.5 .5,.1 .5-2.9 .5,.5 .5,.3 .5,1.8 .5-.6 .5-2.1 .5,.3 .5-.3 .5,1.4 .5,2.2 .5-.5 .5-.7 .5-2.3 .5,2.9 .5-1.9 .5,.2 .5,2.7 .5-1.2 .5,1.7 .5,.2 .5-1 .5,1.4 .5,1 .5-.4 .5-1 .5,3.4 .5-1.9 .5,0 .5,.5 .5,2 .5-.7 .5,2.1 .5-3.9 .5,1.5 .5,.9 .5-.3 .5-1.3 .5,.7 .5,.7 .5,.2 .5,.5 .5,0 .5-.8 .5-.7 .5,3.8 .5,.3 .5-1.7 .5,1.3 .5-.1 .5,0 .5-1.9 .5,.9 .5-.8 .5-1.5 .5,.1 .5,1.6 .5-.7 .5,.1 .5-1 .5-.6 .5-.5 .5-2.5 .5-.6 .5,2.2 .5-2.9 .5-.2 .5-4.9 .5-4.7 .5-3.7 .5-6.7 .5-7.1 .5-8.7 .5-7.2 .5-6.7 .5-6.2 .5-8.7 .5-11.2 .5-11.8 .5-9 .5-8.1 .5-6 .5-13.5 .5-13.2 .5-10.8 .5-8.9 .5-11.9 .5-8.9 .5-10.6 .5-3.2 .5-5.2 .5-6.1 .5-1.5 .5-6.7 .7-4.3 .3,4.8 .5,2.6 .5,4.7 .5,2.4 .5,4.1 .5,3.5 .5,6 .5,7.6 .5,9.4 .5,19.9 .5,21.9 .5,26.6 .5,18 .5,16.1 .5,10.9 .5,12 .5,10.6 .5,8.1 .5,7.2 .5,5.7 .5,5.4 .5,7.3 .5,5.6 .5,5.5 .5,2.2 .5,2.1 .5,3.5 .5,3.3 .5,2.1 .5,3.2 .5,2.9 .5,.4 .5,1.6 .5,1.8 .5,.3 .5,1.7 .5,2.1 .5,.8 .5-1.9 .5,2.7 .5,.7 .5,1.5 .5,2.4 .5,.7 .5-2 .5,3.6 .5-1.7 .5,2.4 .5-.1 .5,.3 .5-.3 .5,2.7 .5,.3 .5-2.1 .5,4 .5-1.2 .5,1.3 .5-1.1 .5,1.4 .5,.5 .5-1.8 .5,4.7 .5-.6 .5-.4 .5,2.8 .5,.1 .5,.2 .5-2.4 .5,4 .5-1.2 .5,1.9 .5-2.6 .5,1.4 .5-.5 .5,.8 .5,0 .5,.3 .5,2.6 .5-.9 .5,.3 .5-1.7 .5,2.9 .5-1.2 .5,2.9 .5-1.2 .5,1.3 .5-.6 .5-.3 .5-.2 .5,3 .5-.6 .5-1.2 .5,2 .5,1.3 .5-.8 .5,1.2 .5-1.1 .5-1.5 .5,1 .5,1.6 .5,1 .5,1.1 .5,1.6 .5-1.9 .5,.4 .5,1.3 .5-.4 .5-.3 .5,.8 .5,2.2 .5-1.7 .5-1.6 .5,4.3 .5-1.7 .5,2 .5-1.9 .5-1.2 .5,1.9 .5-.7 .5,2.3 .5,.3 .5-.3 .5,2.9 .5-3.1 .5,0 .5,2.1 .5,1 .5-.4 .5-.8 .5,2.4 .5-3.1 .5,1 .5,1.4 .5-1.5 .5,2.4 .5-.2 .5,.5 .5,.6 .5,.8 .5-.2 .5,.2 .5-2.1 .5,2.1 .5-.6 .5,.5 .5-1.1 .5,1 .5,1.1 .5,2.3 .5-2.9 .5-.4 .5,2.4 .5,2.2 .5-1 .5-1.1 .5,1 .5-1.1 .5,1.4 .5-.4 .5,2.9 .5-3.2 .5,1.8 .5,.1 .5-.4 .5,.5 .5,2.4 .5-3.8 .5,2.1 .5,1.1 .5-2.1 .5-.1 .5-.4 .5,4.5 .5-1.4 .5-1.2 .5,.3 .5,.5 .5,1 .5-1.2 .5,2 .5,.3 .5,1.1 .5-.9 .5,.5 .5-.1 .5,1 .5-.5 .5-.7 .5-.3 .5,.3 .5,1 .5-.9 .5,1.1 .5-.7 .5,1.2 .5,.1 .5,.6 .5,1.3 .5-1.1 .5-2 .5,3.1 .5-.5 .5,.4 .5-.2 .5-.6 .5-.6 .5,2.5 .5,.6 .5-2.8 .5,1.5 .5-1.4 .5,.4 .5,3.4 .5-1.1 .5,2.2 .5-3.4 .5,2.2 .5,1.2 .5,.1 .5,1.5 .5-1.6 .5,.2 .5,.2 .5,.5 .5-.3 .5-.1 .5,0 .5,1.2 .5-1.2 .5-.2 .5,2.3 .5-1.2 .5,.1 .5,1 .5-.8 .5-.3 .5,2.4 .5,.5 .5-2.3 .5,1 .5,1.1 .5,1.1 .5-.4 .5,.2 .5-1.2 .5,.9 .5,1.2 .5-2.4 .5,2.7 .5-.7 .5-.8 .5,1.7 .5,0 .5-1.1 .5,.7 .5-.6 .5,.9 .5-.9 .5-.2 .5,2.9 .5-2.7 .5,.4 .5,.7 .5,3.7 .5-3.9 .5,1.4 .5-.1 .5,1.9 .5-1.6 .5,2.5 .5-1.3 .5,1.8 .5-1.1 .5-.2 .5-1.3 .5,.9 .5,.7 .5,0 .5,1.3 .5-.6 .5,1.2 .5-1.1 .5,0 .5,1.6 .5-.5 .5,.8 .5-.4 .5-.9 .5,1 .5,.4 .5-.2 .5,1.8 .5-3.9 .5,2.7 .5,0 .5,1.2 .5-1.6 .5,1.1 .5-1 .5-.9 .5,.8 .5,2.9 .5-3.1 .5,2.3 .5-2.1 .5,2.8 .5,0 .5-.4 .5-.7 .5,.8 .5,.5 .5-.6 .5-1.7 .5,3.2 .5-.6 .5-.1 .5-.2 .5-1.6 .5,2.2 .5-.1 .5,1.2 .5-.2 .5-1 .5,1.6 .5-.7 .5,.6 .5-.3 .5,1 .5,.3 .5-.1 .5,1.5 .5-.4 .5-.6 .5-1 .5,.3 .5,.6 .5,.1 .5-.9 .5-.2 .5,2 .5-.4 .5,.2 .5-2.1 .5,.2 .5,2.5 .5,1 .5,.2 .5-.5 .5,.4 .5-2.5 .5,2.9 .5-.3 .5-2.8 .5,4 .5,0 .5-1.8 .5-.9 .5,3.2 .5-1.3 .5-1.5 .5,.7 .5,1.7 .5-1.1 .5,2.6 .5-2.7 .5,2 .5,.5 .5-1 .5,.6 .5-1.4 .5,2.5 .5-1.3 .5-.8 .5,.9 .5,1.5 .5-1.5 .5-1.5 .5,.8 .5,2.8 .5-1.6 .5-.8 .5,1.5 .5,.3 .5,.3 .5-1.1 .5,.8 .5,.2 .5,.1 .5,.2 .5-.1 .5,.1 .5-1.6 .5,.6 .5,2.7 .5-1.4 .5-.5 .5,1.9 .5,1.3 .5,.1 .5-2.2 .5,.5 .5-1.3 .5,2.3 .5,.3 .5-1.8 .5-1 .5,.8 .5,1.4 .5-2 .5,3.1 .5-1.2 .5-.5 .5,.8 .5-.9 .5,2.1 .5-1.1 .5,1.1 .5,1.2 .5-2.1 .5,.6 .5-2.4 .5,3.3 .5-.2 .5,.1 .5-1.1 .5,.1 .5-1.6 .5,2.5 .5-.8 .5,1.1 .5,.1 .5,.2 .5-1.5 .5,2.3 .5-.2 .5-1.1 .5-.9 .5,1.1 .5-1.2 .5,2.1 .5-.6 .5,2.7 .5-.8 .5-1.8 .5,.3 .5,.2 .5-.5 .5,2.2 .5-1.5 .5-1.7 .5,1.9 .5-1.7 .5,2.3 .5,.9 .5-1.2 .5-1.4 .5,1.7 .5,1.6 .5-1.1 .5-1.9 .5,.8 .5,1.5 .5,0 .5,.5 .5-1.1 .5-1.3 .5,2 .5,2 .5-.4 .5-3.1 .5,1.4 .5-.1 .5,2.9 .5-1.4 .5-2.3 .5,1.3 .5,2.6 .5-.8 .5-.8 .5-1.8 .5,0 .5,4.5 .5-2.7 .5-.9 .5,1 .5,3 .5-.4 .5-1 .5-1.3 .5,1.8 .5,.7 .5-1.7 .5-.4 .5,.8 .5,.4 .5-1.1 .5-1.5 .5,4.4 .5-1.2 .5-1.7 .5,1.4 .5,.8 .5,.3 .5-1.6 .5-.1 .5,.3 .5,1 .5-2.8 .5,4.5 .5-2.4 .5,.4 .5-.8 .5,0 .5,1.2 .5-.4 .5,.4 .5-.9 .5,2.2 .5-1.8 .5,1.2 .5-1.6 .5,2.1 .5,0 .5,.1 .5-1.6 .5,1 .5,.5 .5,1.3 .5-1.8 .5,.8 .5-.4 .5-1.1 .5-.5 .5,.2 .5,2.6 .5-3.2 .5,2 .5-1.2 .5,1.7 .5-.3 .5,1.8 .5-1 .5-1.3 .5,2 .5-1.3 .5,1.4 .5-1.4 .5-1.5 .5,3.1 .5-1.1 .5,2.8 .5-2.1 .5-1.8 .5,1.3 .5,2.4 .5-1.9 .5-.5 .5,.5 .5,.4 .5-.6 .5-.6 .5-.4 .5,3 .5,1.3 .5-1.7 .5,1.2 .5-.8 .5-.4 .5-2 .5,1.9 .5,.3 .5-.4 .5-.2 .5,.6 .5,0 .5-.3 .5-.1 .5,.5 .5,.6 .5,.1 .5,.1 .5,.9 .5-.5 .5,.9 .5,.2 .5-2.5 .5,1.1 .5,.1 .5,.3 .5-1.1 .5,3.3 .5-4.5 .5,1.7 .5,1.5 .5-2.6 .5,1.6 .5,.7 .5-1 .5,1.7 .5-2.7 .5,.7 .5,3.6 .5-1.8 .5,.2 .5-2.5 .5,1.6 .5,1.5 .5-1.9 .5,.4 .5,2.2 .5-2.3 .5,1.4 .5-.3 .5-1 .5,1.6 .5,.4 .5-2.5 .5,3.6 .5-2.3 .5,.3 .5,1.2 .5,.8 .5,.4 .5-2.9 .5,1.8 .5,1.2 .5-1.7 .5,0 .5,.9 .5,1.3 .5-.1 .5-.4 .5-.5 .5-1.1 .5,.5 .5-1.1 .5,3.7 .5-.9 .5-.5 .5-.1 .5,.8 .5-2.6 .5,4 .5-.8 .5-1.6 .5,.8 .5,2.6 .5-1.3 .5,.9 .5-1.5 .5-1.1 .5,.7 .5,1.8 .5-.9 .5-.9 .5-1.5 .5,3.3 .5,.3 .5-1.1 .5,.2 .5-.1 .5-1.3 .5,2 .5-1.8 .5,1.5 .5,.4 .5-.1 .5-1.3 .5,.3 .5,1.6 .5-1.9 .5,.5 .5,1.8 .5-1.1 .5,1.2 .5-.5 .5,.4 .5-.5 .5-.9 .5-.3 .5,2.6 .5-.2 .5-1.4 .5,3.2 .5-1.7 .5-.1 .5,.6 .5-1.6 .5,.3 .5,.1 .5,.7 .5,1.3 .5-.2 .5-1.8 .5,2.4 .5,1.1 .5-3.2 .5,2.9 .5-3.3 .5,1 .5,.9 .5-2.4 .5,2.1 .5,.8 .5,1 .5-.8 .5,.1 .5-2.7 .5,2.3 .5-.2 .5,2.7 .5-.7 .5-2.4 .5,2.5 .5-2.8 .5,2.1 .5-1.8 .5,2.9 .5-.9 .5,1 .5-.5 .5-1 .5-.6 .5,.6 .5,.4 .5,.6 .5,.1 .5-.5 .5,.9 .5-1.8 .5,1.3 .5-1.9 .5,2.2 .5-.5 .5,2 .5-2.3 .5,0 .5-1.2 .5,2.9 .5-2.4 .5,3.4 .5-3.2 .5,.7 .5-1.3 .5,2.4 .5,.7 .5,1.5 .5-1.1 .5-.7 .5-.8 .5,.5 .5,2.7 .5,.1 .5-1.3 .5-2.4 .5,1.9 .5,.7 .5-2.1 .5,2 .5,.1 .5-.6 .5-.8 .5,2.5 .5-2.2 .5,1.5 .5,.4 .5-1.8 .5,1.6 .5,1 .5-.8 .5-1 .5,.7 .5-.5 .5-.4 .5,.8 .5-.2 .5-.4 .5-.1 .5-.7 .5,2.2 .5-1.1 .5,2 .5-1.2 .5,.3 .5-.5 .5,1.8 .5-3 .5,1.8 .5,.6 .5-1.5 .5,.6 .5,.3 .5,2.7 .5-.5 .5-.6 .5,1.4 .5,.1 .5-1.2 .5-.8 .5-1.7 .5,.4 .5,1 .5,.1 .5,1.2 .5-1.8 .5,2.4 .5-1.9 .5,1 .5-1.3 .5,1.7 .5-2.4 .5,2.2 .5,1.1 .5-2.9 .5,1.9 .5-.8 .5,.8 .5-.3 .5,1.8 .5,1.5 .5-1.6 .5-.6 .5-2 .5,1.1 .5,1.6 .5-1.1 .5,1.9 .5-.4 .5-.2 .5,0 .5,.7 .5,.3 .5-1.5 .5,1.2 .5-2.2 .5,2.7 .5,1 .5-.5 .5-.8 .5,.5 .5,.4 .5-1 .5,2.6 .5-1.8 .5,0 .5-.9 .5,1.7 .5-.9 .5,1.1 .5-.3 .5-2.2 .5,1.8 .5,1 .5,.2 .5-.9 .5-2 .5,.9 .5,3.4 .5-1.4 .5,.6 .5-3.7 .5,2.5 .5,.5 .5-.4 .5,1 .5,.4 .5-.5 .5-2 .5-.7 .5,1.7 .5-1.7 .5,2 .5,2 .5-2.9 .5,2.1 .5-.4 .5-1.2 .5,.5 .5-1.2 .5,1.3 .5,.8 .5-1.6 .5,.7 .5-.3 .5,1.5 .5,.6 .5-2.5 .5-.6 .5,1.7 .5-.8 .5,.5 .5,.7 .5-1 .5,.5 .5-2.6 .5,1.4 .5,0 .5,.6 .5-.2 .5-.4 .5-1.6 .5,2.2 .5,.4 .5-1.1 .5,.6 .5-.8 .5-.5 .5,.5 .5-.9 .5,.9 .5-1.5 .5,2.5 .5,1.3 .5-.7 .5-.8 .5-.4 .5-1.2 .5,1.6 .5,1.9 .5-.8 .5-2.7 .5,.2 .5,2.3 .5-2 .5-.1 .5,3.2 .5-3.2 .5,2 .5,.8 .5,.8 .5-2.9 .5,1.6 .5,1.7 .5-3.7 .5,1.1 .5,1 .5-.1 .5,0 .5,1.6 .5-1.1 .5-.3 .5-1.2 .5,2.4 .5,.3 .5-1.7 .5,2.7 .5-2.1 .5,.5 .5-.2 .5,.4 .5-.3 .5,2.4 .5-2.3 .5,.4 .5,1.9 .5,0 .5-3.4 .5,2 .5-.8 .5,.1 .5-.4 .5,0 .5,.5 .5-.6 .5,1 .5,1.2 .5-2.5 .5-.3 .5,.7 .5,2.4 .5-1.8 .5-2.8 .5,1.3 .5-.6 .5,1.8 .5,.1 .5-.8 .5-.6 .5-.1 .5,3.2 .5-2.6 .5-.1 .5,.7 .5-.7 .5,1.5 .5-1.9 .5-.7 .5,2.1 .5-.7 .5-.3 .5-1.2 .5,.4 .5,1.3 .5-.5 .5,1.2 .5-1.8 .5-1.5 .5,2.3 .5,.2 .5,.1 .5-.4 .5-2.1 .5,2.5 .5-2.9 .5,3.4 .5-1.1 .5,.9 .5-3 .5,2 .5-2.3 .5,3.1 .5-1.3 .5-1.7 .5,3.6 .5-2.9 .5-1.2 .5-1.1 .5,3.7 .5-2.3 .5-.6 .5,.4 .5-1.1 .5,1.2 .5-3 .5,1.3 .5,.3 .5-2.9 .5,1.2 .5,.9 .5-3.7 .5,2.2 .5-1.4 .5-1.1 .5-.6 .5-1.1 .5-.5 .5-2.2 .5-5.6 .5-2.7 .5-6 .5-2.6 .5-5.8 .5-7.5 .5-6.6 .5-6.1 .5-6.6 .5-6.6 .5-4.8 .5-8 .5-2.1 .5-.9 .5-5.8 .5-5 .5-1.3 .5-3.6 .5-2.7 .5-5 .5-1.6 .5-5.1 .5-1.5 .3-2.7 .7,2.5 .5,4.4 .5,5.5 .5,3 .5,2.7 .5,3.2 .5,4.3 .5,5 .5,2.6 .5,3.8 .5,4.4 .5,7 .5,11.1 .5,9.1 .5,7.7 .5,3.6 .5,6.5 .5,5.1 .5,5 .5,1.8 .5,7.1 .5,1.3 .5,2.6 .5,.9 .5,2.5 .5,3.2 .5-1.7 .5,1.5 .5-.5 .5,1.8 .5,.8 .5,1.7 .5,.9 .5,.1 .5-.3 .5,.3 .5,1.7 .5-.1 .5-.6 .5,2.3 .5,.7 .5-.4 .5-.4 .5,.5 .5-.4 .5,2 .5-1.9 .5,2.9 .5-1.1 .5-2.3 .5,4.8 .5-3 .5,1.4 .5-.9 .5-.3 .5,2.4 .5-.2 .5-.1 .5-.1 .5-.1 .5-.6 .5,.1 .5,.2 .5,1.2 .5-.2 .5,.7 .5-1.3 .5,2 .5-.4 .5-2.6 .5,2.3 .5,2.5 .5-2.3 .5-.2 .5-.2 .5,1.2 .5-.2 .5,.4 .5,.1 .5-1.6 .5,1 .5,1.2 .5-1.7 .5,1.4 .5,.8 .5-1.3 .5,1.4 .5-1.9 .5-.1 .5-.2 .5,2.6 .5-1.2 .5,1.1 .5-1.9 .5,2.4 .5-1.4 .5,1 .5-.3 .5-.1 .5-.6 .5,1 .5-1.1 .5,3.6 .5-.4 .5,.6 .5-3.3 .5,.9 .5-1.1 .5,2 .5,0 .5,.7 .5-.3 .5-2.7 .5,1.9 .5,2.6 .5-2.6 .5,1.2 .5-1.1 .5,1.5 .5-.6 .5-.2 .5,.8 .5-1.3 .5,1.1 .5-.3 .5,.6 .5-.7 .5-2.1 .5,1.9 .5-.4 .5-.3 .5,2 .5-2.9 .5,2.4 .5,.5 .5,.1 .5,.5 .5-1 .5-.9 .5,2.4 .5-1.2 .5,.3 .5-.4 .5,.2 .5,1.2 .5-.8 .5-.4 .5,1.5 .5-.5 .5-.5 .5-.1 .5,1 .5-2.5 .5,.8 .5,2.2 .5-1.5 .5-.1 .5,2 .5-.4 .5-.9 .5,.7 .5-.5 .5-.3 .5,1.1 .5,.1 .5-1.1 .5,.2 .5-1.6 .5,.8 .5-.4 .5,2.5 .5,.2 .5-2.6 .5,1.8 .5,1 .5-.8 .5-2 .5,.8 .5,1.2 .5,.5 .5-.4 .5,0 .5-.4 .5,.9 .5-1.5 .5,1.2 .5-.9 .5,1 .5-2.8 .5,2.8 .5-1.3 .5,1.6 .5-2.7 .5,2.4 .5-1.4 .5,1 .5-.6 .5-1.5 .5,4 .5-1.4 .5-.8 .5,1.4 .5-2.7 .5,1.6 .5,1.5 .5-1.8 .5,.8 .5,1.3 .5-1.5 .5,.2 .5-.2 .5,.7 .5,.1 .5-1 .5,2.5 .5-2.3 .5-.5 .5,.5 .5,1.4 .5-.8 .5,.5 .5-2.8 .5,2.5 .5-.2 .5-1.7 .5,.8 .5,2 .5,.5 .5-2.8 .5-.7 .5,1.9 .5,.2 .5-.8 .5-.5 .5-1 .5,2.5 .5-.8 .5-1.6 .5,1.3 .5,1 .5-.7 .5,2.6 .5-2.1 .5,0 .5,1.6 .5-.7 .5,.4 .5-1 .5-1 .5,2.1 .5-3 .5,1.8 .5-.8 .5,.8 .5,.2 .5,.7 .5-2.9 .5,2.7 .5,1.2 .5,.4 .5-2.3 .5,2 .5-2.5 .5,1 .5,.5 .5-1.7 .5,.9 .5-1.1 .5,2.5 .5-1 .5,2.2 .5-2.5 .5,.3 .5,2.3 .5-1.8 .5,.3 .5-2.4 .5,2.4 .5-2.1 .5,1.6 .5-1.7 .5,2.7 .5-.8 .5-2.5 .5,.8 .5,1.5 .5-1.4 .5,1 .5-.4 .5-.9 .5,1.3 .5,.9 .5,.3 .5-1.7 .5,1.3 .5-1.6 .5,1.3 .5-2 .5,2.3 .5-.9 .5-1.1 .5,3.1 .5,.4 .5-3 .5,1.3 .5,.5 .5-.4 .5-.6 .5-.5 .5,.2 .5-.3 .5,2.5 .5-3.5 .5,1.2 .5,.6 .5-1.5 .5,1.9 .5-1.4 .5,1.9 .5-3.3 .5,4 .5-1.1 .5,.7 .5-1.3 .5-1.8 .5,.3 .5-.6 .5-1 .5,2.8 .5-1.4 .5,.7 .5,1.5 .5-3.2 .5,2.3 .5-2.3 .5,.9 .5-.4 .5,.9 .5-1.4 .5,1.6 .5-1.5 .5,1 .5,0 .5-.1 .5,1.6 .5-1.5 .5-.8 .5-.3 .5,2 .5-2.4 .5,.3 .5,.8 .5,.3 .5-.3 .5-1.8 .5,.4 .5-1.1 .5-.2 .5,.5 .5,2.1 .5-.9 .5-1.9 .5,1.9 .5,0 .5,2.2 .5-1.3 .5-.2 .5,1.5 .5-1.4 .5-2 .5-.3 .5,3.2 .5,.4 .5-.5 .5,.1 .5,.2 .5-.7 .5-2.1 .5,.2 .5-.1 .5-.3 .5-.4 .5,.4 .5,2.2 .5,.3 .5-1.4 .5-2.3 .5,.3 .5,.8 .5,.3 .5,.2 .5-.3 .5,1.8 .5-1.4 .5,.6 .5-1 .5,.5 .5-1.7 .5,.2 .5,1.8 .5-3.5 .5,.4 .5,2.9 .5-.8 .5-1.7 .5-.4 .5,2.8 .5-2.2 .5,2 .5-1.1 .5-.2 .5-.6 .5-.8 .5-.3 .5,.1 .5,2.8 .5-.9 .5,.3 .5-2.3 .5,.1 .5-1.8 .5,1.7 .5,0 .5-2.2 .5,1.9 .5-1.7 .5,2 .5,1.1 .5-1.6 .5-.2 .5,.6 .5-.3 .5,1.4 .5-2.6 .5,1.6 .5-.9 .5-1.7 .5,1.9 .5,.6 .5,.8 .5-3.5 .5,.8 .5,.9 .5-2.5 .5,1.7 .5,1 .5,1.7 .5-1.9 .5-2.1 .5,2.1 .5,.4 .5-3.4 .5,2.6 .5,1.7 .5-1.7 .5-.7 .5-1.1 .5,0 .5,3.2 .5-2.4 .5,1 .5,.2 .5-.4 .5-1 .5,.3 .5-2.4 .5,.6 .5,1.1 .5,1.3 .5,.8 .5-2.8 .5,2.1 .5-.8 .5-1.7 .5,.3 .5-1.3 .5,2.5 .5,.9 .5-2.6 .5,.3 .5,.8 .5-.1 .5-2 .5,1.6 .5-1 .5,1.8 .5-.7 .5-2.5 .5,1.5 .5,1 .5-1 .5-1.7 .5-.8 .5,1 .5,.2 .5-.2 .5-1.6 .5,2.8 .5-.2 .5-1.5 .5,1.9 .5-.7 .5-1 .5,1.1 .5-1.3 .5,1.1 .5-2.3 .5,1.5 .5-1.5 .5,2.4 .5,1 .5,.5 .5-2.5 .5-1.4 .5,2.6 .5-.2 .5-2 .5,2.2 .5-.7 .5,1.1 .5-2.3 .5-.4 .5,1 .5,.3 .5,1.2 .5-.3 .5,.4 .5,1.2 .5-1.6 .5-.4 .5,2.2 .5-2.4 .5,.1 .5,.4 .5,0 .5,2.2 .5-3.8 .5,2.7 .5-.2 .5-1.5 .5,1.4 .5,.2 .5,.6 .5-1.1 .5-1.3 .5,2.9 .5-1.9 .5,.7 .5-.7 .5-.1 .5,0 .5-2.1 .5,2.8 .5,0 .5-.4 .5-.9 .5-2.5 .5,1.3 .5,.8 .5-.9 .5,1.3 .5,.3 .5-1.3 .5-1.5 .5-.4 .5,1 .5,1.9 .5,.6 .5-1.8 .5,.7 .5,.4 .5-.2 .5-2.1 .5-1.3 .5,1.6 .5,0 .5-1.5 .5,2.5 .5,.3 .5-1.4 .5-1.9 .5,3 .5-3.3 .5,1.9 .5,1.3 .5-1.5 .5,1.5 .5-.8 .5,.7 .5,.6 .5-.9 .5-1.3 .5,.2 .5-1.1 .5,.9 .5-1.3 .5,1 .5-1.6 .5,3.8 .5-1.6 .5-.3 .5,.2 .5-2.1 .5,1.5 .5-.8 .5,.7 .5,.8 .5-1.5 .5-.6 .5,1.1 .5-.1 .5,.1 .5-.2 .5,1.2 .5-1.1 .5,.1 .5-1.2 .5-.2 .5,1.1 .5-.7 .5-1.9 .5,2.5 .5-.8 .5,.7 .5-.2 .5-.6 .5-1.2 .5,1 .5-.5 .5,.6 .5,.4 .5-.5 .5-1.6 .5-.6 .5,2.2 .5-2.7 .5,2.5 .5-.3 .5-1.7 .5,.3 .5,0 .5-.2 .5,.7 .5-2 .5,2 .5-1.4 .5-.2 .5,1.2 .5-.7 .5-2.6 .5,1 .5-.6 .5,1.9 .5-1.8 .5-.2 .5,0 .5,.3 .5-2.4 .5-.4 .5-.1 .5-2.3 .5,.8 .5-2 .5-1.8 .5-.1 .5-3.9 .5-1 .5-5.8 .5-3.2 .5-5.4 .5-7.6 .5-5.9 .5-2.8 .5-5.8 .5-2.5 .5-12.9 .5-12.9 .5-2.2 .5-3.7 .5-1.6 .5-2.6 .5-6.5 .5-2.8 .5-1.8 .5-1.8 .5-7.6 .6-1.5 .4,2.3 .5,3.2 .5,4.7 .5,1 .5,4 .5,.4 .5,4.9 .5,2.1 .5,5.4 .5,1.6 .5,1.5 .5,3.8 .5,8.2 .5,8 .5,5.4 .5,4.1 .5,1.8 .5,3.2 .5,6.8 .5,4.4 .5,4.5 .5,5.2 .5,2.5 .5,4 .5,5.4 .5-.1 .5,5.2 .5,.7 .5,1.8 .5,.4 .5,2.7 .5,.3 .5-.6 .5,1.6 .5,.6 .5,1.8 .5,0 .5,.5 .5-.5 .5,2.4 .5-.5 .5,.2 .5-.9 .5,2.8 .5-.5 .5-.7 .5,2.4 .5-1 .5,2 .5-1.3 .5,2.6 .5-.9 .5-1.9 .5,2.3 .5-2.3 .5,1.5 .5,2 .5-1.4 .5,1.2 .5,.9 .5-.1 .5,1 .5-2.4 .5,.9 .5,.8 .5,.5 .5-2 .5-.1 .5-.1 .5,1.6 .5,1 .5-.8 .5,.4 .5,1.1 .5-2.8 .5,1.3 .5-1 .5,3.2 .5-.9 .5,1.3 .5-3.6 .5,.6 .5,.9 .5,1.2 .5,.2 .5,.5 .5,0 .5-1.9 .5,.5 .5,.1 .5,2.5 .5-.1 .5-.4 .5-.8 .5,.7 .5,0 .5,2.3 .5-1.4 .5-1.6 .5,.5 .5-1.6 .5,3.8 .5-2.4 .5,1.6 .5-1.7 .5,2.3 .5,.2 .5-.4 .5-.5 .5,3.3 .5-1.4 .5-.2 .5-.3 .5,.4 .5,1 .5-.6 .5,1 .5-1.3 .5,1.3 .5-.4 .5,.6 .5-.4 .5-.4 .5,.6 .5,.2 .5,.2 .5-1.7 .5,2.4 .5-1 .5,1.4 .5-.4 .5-1.4 .5-.1 .5,1.6 .5-.9 .5,0 .5-.2 .5,1.2 .5-1.1 .5-1" fill="none" stroke="#FFC000" stroke-width="9.7" stroke-linejoin="round" stroke-linecap="round" clip-path="url(#cl)"/>
<!-- annotations -->
<g class="ann" fill="#000">
<text x="898.6" y="145" letter-spacing="2.2">(111)</text>
<text x="1063.8" y="364.5" letter-spacing="0.1">(200)</text>
<text x="1596" y="630.5" letter-spacing="0.1">(220)</text>
<text x="1938.6" y="630.5" letter-spacing="1.1">(311)</text>
<text x="511" y="1383.5" letter-spacing="0.1">(002)</text>
<text x="1001.3" y="1584.5" letter-spacing="0.1">(100)</text>
</g>
<!-- axis tick labels -->
<g class="tick t" fill="#000">
<text transform="translate(159.5 1919) scale(1 1.03)">10</text>
<text transform="translate(409 1919) scale(1 1.03)">20</text>
<text transform="translate(658.5 1919) scale(1 1.03)">30</text>
<text transform="translate(908 1919) scale(1 1.03)">40</text>
<text transform="translate(1157.5 1919) scale(1 1.03)">50</text>
<text transform="translate(1407 1919) scale(1 1.03)">60</text>
<text transform="translate(1656.5 1919) scale(1 1.03)">70</text>
<text transform="translate(1906 1919) scale(1 1.03)">80</text>
<text transform="translate(2155.5 1919) scale(1 1.03)">90</text>
</g>
<!-- axis titles -->
<g class="t" fill="#000" font-size="80.7">
<text transform="translate(1048 2042) scale(1 1.03)">2</text>
<text transform="translate(1097.5 2042) scale(1.25 1.01)" font-family="'Liberation Serif','DejaVu Serif',serif" font-style="italic" font-size="79" stroke="none">θ</text>
<text transform="translate(1159.3 2041.5) scale(0.95 1.0)" font-size="79.5">(</text>
<text transform="translate(1186.2 2041.6) scale(1 1.1)" font-weight="bold" font-size="78" stroke="none">º</text>
<text transform="translate(1216 2041.5) scale(0.95 1.0)" font-size="79.5">)</text>
<text transform="translate(92 1160) rotate(-90) scale(1 1.02)" font-size="80.3">Intensity (u.a.)</text>
</g>
<!-- legend -->
<rect x="1456" y="52" width="660" height="522.5" fill="#000"/>
<rect x="1452" y="47.5" width="657.5" height="520" fill="#fff" stroke="#000" stroke-width="5"/>
<g>
<rect x="1462.9" y="78.7" width="122.3" height="12.4" rx="4.5" ry="4.5" fill="#000"/>
<rect x="1462.9" y="153" width="122.3" height="13.1" rx="4.5" ry="4.5" fill="#808080"/>
<rect x="1464.8" y="229.1" width="119.3" height="9.8" rx="4" ry="4" fill="#FF0000"/>
<rect x="1464.8" y="303.5" width="119.3" height="9.8" rx="4" ry="4" fill="#548235"/>
<rect x="1464.8" y="377.9" width="119.3" height="9.8" rx="4" ry="4" fill="#7030A0"/>
<rect x="1464.8" y="452.4" width="119.3" height="9.8" rx="4" ry="4" fill="#0070C0"/>
<rect x="1464.8" y="527.1" width="119.3" height="9.8" rx="4" ry="4" fill="#FFC000"/>
</g>
<g class="leg t" fill="#000">
<text transform="translate(1592 105) scale(1 1.03)">JCPDS # 89-8487</text>
<text transform="translate(1592 180) scale(1 1.03)">JCPDS # 04-0802</text>
<text transform="translate(1589.5 253.3) scale(1 1.02)">Pt/CS</text>
<text transform="translate(1589.5 328) scale(1 1.02)">Pt/CS-CNT</text>
<text transform="translate(1589.5 403.2) scale(1 1.02)">Pt/CS-rGO</text>
<text transform="translate(1589 479) scale(1 1.02)" font-size="69.5">Pt/CS-CB</text>
<text transform="translate(1589.5 552.4) scale(1 1.02)">Pt/CS-AC</text>
</g>
</svg>
</body>
</html>
